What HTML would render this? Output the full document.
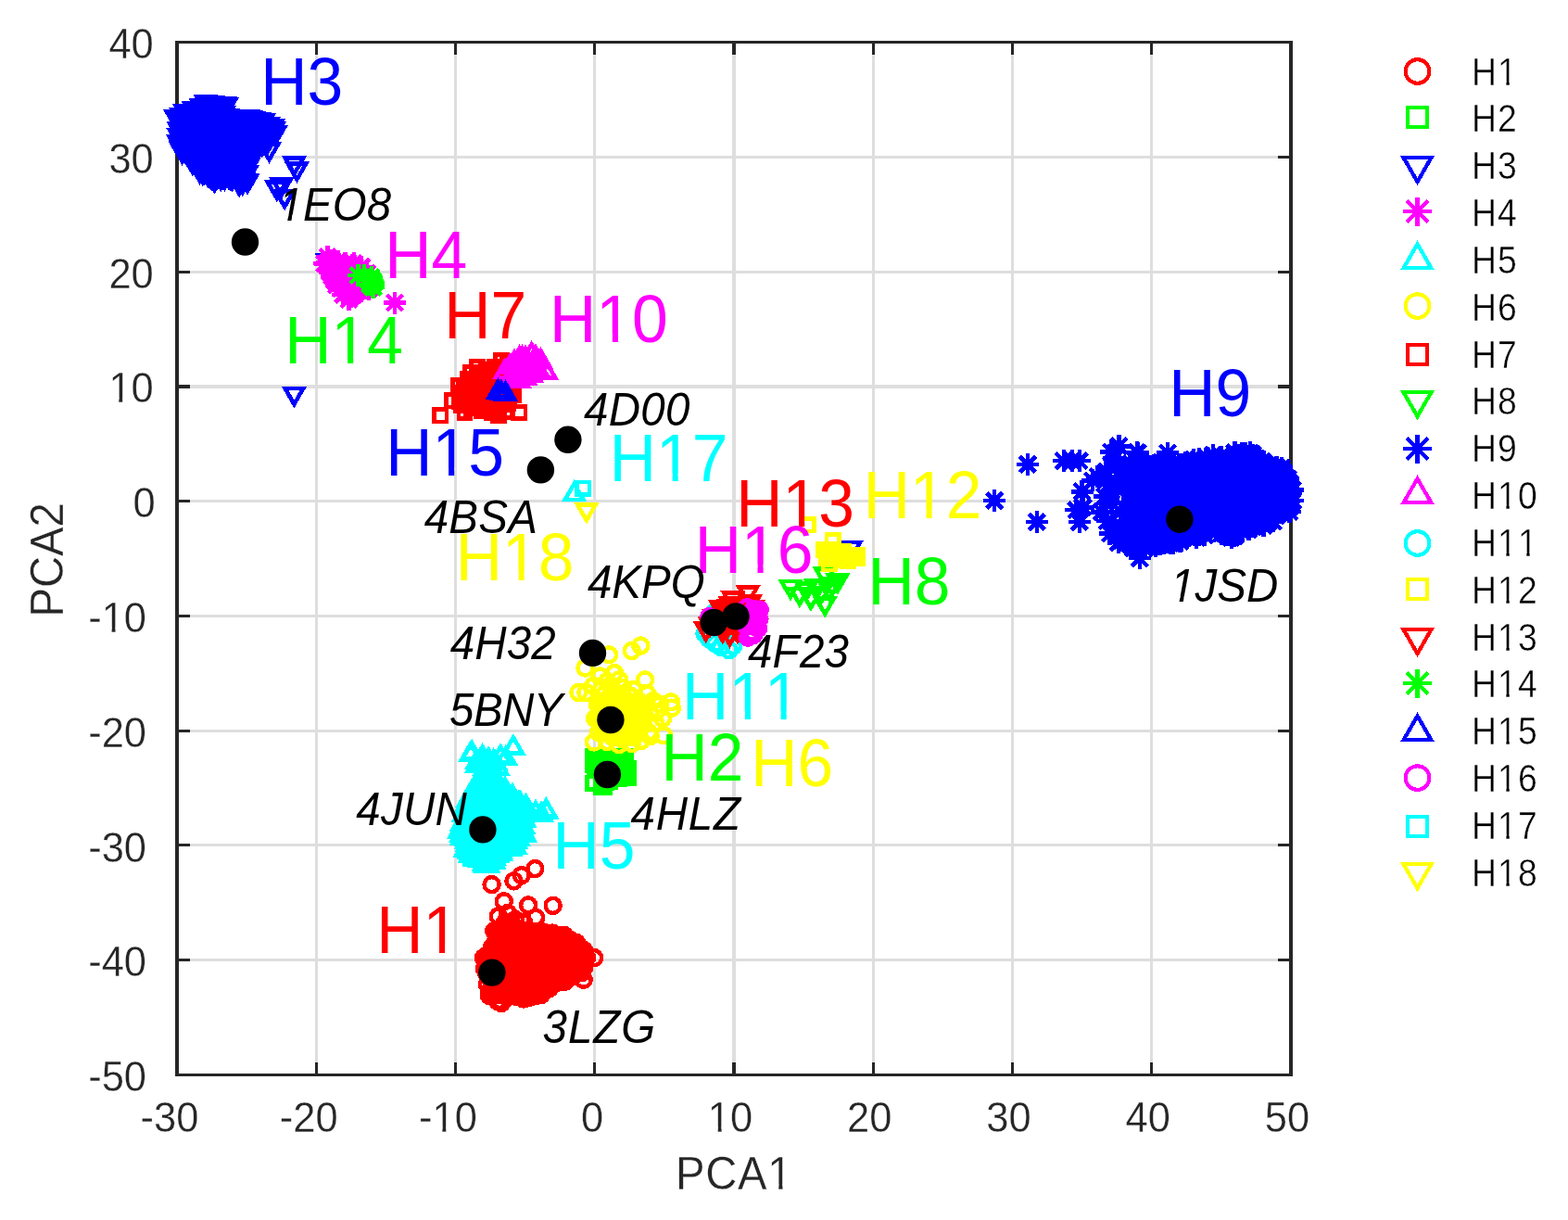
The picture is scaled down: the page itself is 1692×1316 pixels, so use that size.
<!DOCTYPE html>
<html lang="en"><head><meta charset="utf-8"><title>PCA of HA subtypes</title>
<style>
html,body{margin:0;padding:0;background:#fff;}
body{width:1692px;height:1316px;overflow:hidden;}
svg{display:block;}
text{font-family:"Liberation Sans",sans-serif;white-space:pre;font-kerning:none;font-variant-ligatures:none;}
.tk{font-size:43.5px;fill:#262626;stroke:#fff;stroke-width:0.3;}
.al{font-size:47.3px;fill:#262626;stroke:#fff;stroke-width:0.3;}
.lg{font-size:41px;fill:#000;stroke:#fff;stroke-width:0.45;}
.big{font-size:69.6px;}
.pdb{font-size:47.5px;font-style:italic;fill:#000;}
.mk{fill:none;stroke-width:4.5;stroke-linejoin:miter;stroke-linecap:butt;}
</style></head>
<body>
<svg width="1692" height="1316" viewBox="0 0 1692 1316">
<defs><clipPath id="c1"><path clip-rule="evenodd" d="M-21.75,-65.25H348V26.1H-21.75ZM15.791,1.305L25.426,1.305L25.426,-5.22L15.791,-5.22ZM29.267,1.305L37.976,1.305L37.976,-5.22L29.267,-5.22Z"/></clipPath><clipPath id="c2"><path clip-rule="evenodd" d="M-21.75,-65.25H348V26.1H-21.75ZM1.305,1.305L10.94,1.305L10.94,-5.22L1.305,-5.22ZM14.781,1.305L23.49,1.305L23.49,-5.22L14.781,-5.22Z"/></clipPath><clipPath id="c3"><path clip-rule="evenodd" d="M-23.65,-70.95H378.4V28.38H-23.65ZM100.927,1.419L111.403,1.419L111.403,-5.676L100.927,-5.676ZM115.58,1.419L125.05,1.419L125.05,-5.676L115.58,-5.676Z"/></clipPath><clipPath id="c4"><path clip-rule="evenodd" d="M-34.8,-104.4H556.8V41.76H-34.8ZM52.351,2.088L67.767,2.088L67.767,-8.352L52.351,-8.352ZM73.913,2.088L87.847,2.088L87.847,-8.352L73.913,-8.352Z"/></clipPath><clipPath id="c5"><path clip-rule="evenodd" d="M-34.8,-104.4H556.8V41.76H-34.8ZM52.351,2.088L67.767,2.088L67.767,-8.352L52.351,-8.352ZM73.913,2.088L87.847,2.088L87.847,-8.352L73.913,-8.352ZM91.059,2.088L106.475,2.088L106.475,-8.352L91.059,-8.352ZM112.621,2.088L126.555,2.088L126.555,-8.352L112.621,-8.352Z"/></clipPath><clipPath id="c6"><path clip-rule="evenodd" d="M-23.75,-71.25H380V28.5H-23.75ZM-0.95,1.425L9.286,1.425L10.668,-5.7L-0.95,-5.7ZM13.485,1.425L24.7,1.425L24.7,-5.7L14.867,-5.7Z"/></clipPath><clipPath id="c7"><path clip-rule="evenodd" d="M-20.5,-61.5H328V24.6H-20.5ZM32.139,1.23L41.22,1.23L41.22,-4.92L32.139,-4.92ZM44.841,1.23L53.049,1.23L53.049,-4.92L44.841,-4.92Z"/></clipPath><clipPath id="c8"><path clip-rule="evenodd" d="M-20.5,-61.5H328V24.6H-20.5ZM32.139,1.23L41.22,1.23L41.22,-4.92L32.139,-4.92ZM44.841,1.23L53.049,1.23L53.049,-4.92L44.841,-4.92ZM56.241,1.23L65.323,1.23L65.323,-4.92L56.241,-4.92ZM68.943,1.23L77.151,1.23L77.151,-4.92L68.943,-4.92Z"/></clipPath></defs>
<rect x="0" y="0" width="1692" height="1316" fill="#fff"/>
<g fill="#dedede" shape-rendering="crispEdges">
<rect x="340" y="59" width="3" height="1087"/>
<rect x="490" y="59" width="3" height="1087"/>
<rect x="640" y="59" width="3" height="1087"/>
<rect x="790" y="59" width="4" height="1087"/>
<rect x="941" y="59" width="3" height="1087"/>
<rect x="1091" y="59" width="3" height="1087"/>
<rect x="1241" y="59" width="3" height="1087"/>
<rect x="205" y="168" width="1174" height="3"/>
<rect x="205" y="292" width="1174" height="3"/>
<rect x="205" y="415" width="1174" height="4"/>
<rect x="205" y="539" width="1174" height="3"/>
<rect x="205" y="663" width="1174" height="3"/>
<rect x="205" y="787" width="1174" height="3"/>
<rect x="205" y="910" width="1174" height="3"/>
<rect x="205" y="1034" width="1174" height="3"/>
</g>
<g fill="#262626" shape-rendering="crispEdges">
<rect x="189" y="44" width="4" height="1117"/>
<rect x="1391" y="44" width="4" height="1117"/>
<rect x="189" y="44" width="1206" height="3"/>
<rect x="189" y="1158" width="1206" height="3"/>
<rect x="340" y="47" width="3" height="12"/>
<rect x="340" y="1146" width="3" height="12"/>
<rect x="490" y="47" width="3" height="12"/>
<rect x="490" y="1146" width="3" height="12"/>
<rect x="640" y="47" width="3" height="12"/>
<rect x="640" y="1146" width="3" height="12"/>
<rect x="790" y="47" width="4" height="12"/>
<rect x="790" y="1146" width="4" height="12"/>
<rect x="941" y="47" width="3" height="12"/>
<rect x="941" y="1146" width="3" height="12"/>
<rect x="1091" y="47" width="3" height="12"/>
<rect x="1091" y="1146" width="3" height="12"/>
<rect x="1241" y="47" width="3" height="12"/>
<rect x="1241" y="1146" width="3" height="12"/>
<rect x="193" y="168" width="12" height="3"/>
<rect x="1379" y="168" width="12" height="3"/>
<rect x="193" y="292" width="12" height="3"/>
<rect x="1379" y="292" width="12" height="3"/>
<rect x="193" y="415" width="12" height="4"/>
<rect x="1379" y="415" width="12" height="4"/>
<rect x="193" y="539" width="12" height="3"/>
<rect x="1379" y="539" width="12" height="3"/>
<rect x="193" y="663" width="12" height="3"/>
<rect x="1379" y="663" width="12" height="3"/>
<rect x="193" y="787" width="12" height="3"/>
<rect x="1379" y="787" width="12" height="3"/>
<rect x="193" y="910" width="12" height="3"/>
<rect x="1379" y="910" width="12" height="3"/>
<rect x="193" y="1034" width="12" height="3"/>
<rect x="1379" y="1034" width="12" height="3"/>
</g>
<g>
<text class="tk" transform="matrix(1 0 0 1.065 151.5 1220.5)">-30</text>
<text class="tk" transform="matrix(1 0 0 1.065 301.8 1220.5)">-20</text>
<text class="tk" clip-path="url(#c1)" transform="matrix(1 0 0 1.065 452 1220.5)">-10</text>
<text class="tk" transform="matrix(1 0 0 1.065 627 1220.5)">0</text>
<text class="tk" clip-path="url(#c2)" transform="matrix(1 0 0 1.065 763.8 1220.5)">10</text>
<text class="tk" transform="matrix(1 0 0 1.065 914.1 1220.5)">20</text>
<text class="tk" transform="matrix(1 0 0 1.065 1064.3 1220.5)">30</text>
<text class="tk" transform="matrix(1 0 0 1.065 1214.6 1220.5)">40</text>
<text class="tk" transform="matrix(1 0 0 1.065 1364.8 1220.5)">50</text>
<text class="tk" transform="matrix(1 0 0 1.065 95.2 1177.1)">-50</text>
<text class="tk" transform="matrix(1 0 0 1.065 95.2 1053.3)">-40</text>
<text class="tk" transform="matrix(1 0 0 1.065 95.2 929.5)">-30</text>
<text class="tk" transform="matrix(1 0 0 1.065 95.2 805.8)">-20</text>
<text class="tk" clip-path="url(#c1)" transform="matrix(1 0 0 1.065 95.2 682)">-10</text>
<text class="tk" transform="matrix(1 0 0 1.065 143.6 558.2)">0</text>
<text class="tk" clip-path="url(#c2)" transform="matrix(1 0 0 1.065 117.4 434.4)">10</text>
<text class="tk" transform="matrix(1 0 0 1.065 117.4 310.7)">20</text>
<text class="tk" transform="matrix(1 0 0 1.065 117.4 186.9)">30</text>
<text class="tk" transform="matrix(1 0 0 1.065 117.4 63.1)">40</text>
<text class="al" clip-path="url(#c3)" letter-spacing="0.751" transform="matrix(1 0 0 1.053 728.9 1283.1)">PCA1</text>
<text class="al" transform="matrix(0 -1 1.053 0 68.4 665.6)">PCA2</text>
</g>
<path class="mk" stroke="#f00" shape-rendering="crispEdges" d="M532.983,1006.5a8,8 0 1 0 16,0a8,8 0 1 0 -16,0zM517.851,1051.1a8,8 0 1 0 16,0a8,8 0 1 0 -16,0zM582.268,1058.7a8,8 0 1 0 16,0a8,8 0 1 0 -16,0zM521.618,1052.9a8,8 0 1 0 16,0a8,8 0 1 0 -16,0zM547.885,1016.7a8,8 0 1 0 16,0a8,8 0 1 0 -16,0zM528.742,1042.5a8,8 0 1 0 16,0a8,8 0 1 0 -16,0zM574.072,1067.4a8,8 0 1 0 16,0a8,8 0 1 0 -16,0zM525.374,1036.4a8,8 0 1 0 16,0a8,8 0 1 0 -16,0zM572.094,1063.7a8,8 0 1 0 16,0a8,8 0 1 0 -16,0zM599.844,1059.2a8,8 0 1 0 16,0a8,8 0 1 0 -16,0zM538.167,1002.6a8,8 0 1 0 16,0a8,8 0 1 0 -16,0zM581.521,1026.5a8,8 0 1 0 16,0a8,8 0 1 0 -16,0zM526.926,1072.3a8,8 0 1 0 16,0a8,8 0 1 0 -16,0zM541.459,1034.9a8,8 0 1 0 16,0a8,8 0 1 0 -16,0zM575.636,1072.2a8,8 0 1 0 16,0a8,8 0 1 0 -16,0zM567.215,1038.2a8,8 0 1 0 16,0a8,8 0 1 0 -16,0zM558.993,1036.9a8,8 0 1 0 16,0a8,8 0 1 0 -16,0zM616.144,1037.3a8,8 0 1 0 16,0a8,8 0 1 0 -16,0zM577.655,1064.5a8,8 0 1 0 16,0a8,8 0 1 0 -16,0zM567.176,1055.6a8,8 0 1 0 16,0a8,8 0 1 0 -16,0zM556.518,1059.3a8,8 0 1 0 16,0a8,8 0 1 0 -16,0zM520.136,1070.6a8,8 0 1 0 16,0a8,8 0 1 0 -16,0zM544.44,1016.8a8,8 0 1 0 16,0a8,8 0 1 0 -16,0zM577.74,1036.8a8,8 0 1 0 16,0a8,8 0 1 0 -16,0zM556.412,1025.4a8,8 0 1 0 16,0a8,8 0 1 0 -16,0zM597.049,1058a8,8 0 1 0 16,0a8,8 0 1 0 -16,0zM558.756,1051.1a8,8 0 1 0 16,0a8,8 0 1 0 -16,0zM566.898,1005.6a8,8 0 1 0 16,0a8,8 0 1 0 -16,0zM609.3,1033a8,8 0 1 0 16,0a8,8 0 1 0 -16,0zM575.74,1053.8a8,8 0 1 0 16,0a8,8 0 1 0 -16,0zM570.78,1073.9a8,8 0 1 0 16,0a8,8 0 1 0 -16,0zM554.863,1075a8,8 0 1 0 16,0a8,8 0 1 0 -16,0zM551.333,1048.3a8,8 0 1 0 16,0a8,8 0 1 0 -16,0zM559.845,1072.3a8,8 0 1 0 16,0a8,8 0 1 0 -16,0zM559.193,1020.7a8,8 0 1 0 16,0a8,8 0 1 0 -16,0zM555.772,1040.2a8,8 0 1 0 16,0a8,8 0 1 0 -16,0zM590.734,1060.6a8,8 0 1 0 16,0a8,8 0 1 0 -16,0zM520.648,1049.5a8,8 0 1 0 16,0a8,8 0 1 0 -16,0zM553.79,1032.8a8,8 0 1 0 16,0a8,8 0 1 0 -16,0zM565.99,1019.2a8,8 0 1 0 16,0a8,8 0 1 0 -16,0zM535.57,1005.7a8,8 0 1 0 16,0a8,8 0 1 0 -16,0zM592.49,1036.3a8,8 0 1 0 16,0a8,8 0 1 0 -16,0zM600.532,1035.1a8,8 0 1 0 16,0a8,8 0 1 0 -16,0zM595.135,1053.1a8,8 0 1 0 16,0a8,8 0 1 0 -16,0zM548.031,1074.7a8,8 0 1 0 16,0a8,8 0 1 0 -16,0zM563.399,1058.8a8,8 0 1 0 16,0a8,8 0 1 0 -16,0zM528.321,1030.3a8,8 0 1 0 16,0a8,8 0 1 0 -16,0zM594.268,1022a8,8 0 1 0 16,0a8,8 0 1 0 -16,0zM536.801,1051.5a8,8 0 1 0 16,0a8,8 0 1 0 -16,0zM553.951,1064.8a8,8 0 1 0 16,0a8,8 0 1 0 -16,0zM521.339,1031.2a8,8 0 1 0 16,0a8,8 0 1 0 -16,0zM606.415,1044.7a8,8 0 1 0 16,0a8,8 0 1 0 -16,0zM598.214,1009.2a8,8 0 1 0 16,0a8,8 0 1 0 -16,0zM608.46,1017.6a8,8 0 1 0 16,0a8,8 0 1 0 -16,0zM530.294,1069.1a8,8 0 1 0 16,0a8,8 0 1 0 -16,0zM538.934,1044a8,8 0 1 0 16,0a8,8 0 1 0 -16,0zM559.566,1040.5a8,8 0 1 0 16,0a8,8 0 1 0 -16,0zM541.59,1020.5a8,8 0 1 0 16,0a8,8 0 1 0 -16,0zM562.329,1040.8a8,8 0 1 0 16,0a8,8 0 1 0 -16,0zM562.457,1048.8a8,8 0 1 0 16,0a8,8 0 1 0 -16,0zM575.819,1013.1a8,8 0 1 0 16,0a8,8 0 1 0 -16,0zM567.14,1021.9a8,8 0 1 0 16,0a8,8 0 1 0 -16,0zM523.713,1058.6a8,8 0 1 0 16,0a8,8 0 1 0 -16,0zM544.73,1038a8,8 0 1 0 16,0a8,8 0 1 0 -16,0zM577.184,1027.1a8,8 0 1 0 16,0a8,8 0 1 0 -16,0zM542.031,1071.7a8,8 0 1 0 16,0a8,8 0 1 0 -16,0zM614.894,1025.9a8,8 0 1 0 16,0a8,8 0 1 0 -16,0zM609.257,1028.2a8,8 0 1 0 16,0a8,8 0 1 0 -16,0zM546.801,1022.8a8,8 0 1 0 16,0a8,8 0 1 0 -16,0zM548.232,1050.3a8,8 0 1 0 16,0a8,8 0 1 0 -16,0zM546.806,1012.3a8,8 0 1 0 16,0a8,8 0 1 0 -16,0zM620.301,1041.1a8,8 0 1 0 16,0a8,8 0 1 0 -16,0zM623.138,1029.1a8,8 0 1 0 16,0a8,8 0 1 0 -16,0zM607.985,1037.3a8,8 0 1 0 16,0a8,8 0 1 0 -16,0zM545.917,1064.4a8,8 0 1 0 16,0a8,8 0 1 0 -16,0zM586.193,1058.3a8,8 0 1 0 16,0a8,8 0 1 0 -16,0zM598.176,1013.7a8,8 0 1 0 16,0a8,8 0 1 0 -16,0zM612.138,1048.5a8,8 0 1 0 16,0a8,8 0 1 0 -16,0zM585.663,1015.2a8,8 0 1 0 16,0a8,8 0 1 0 -16,0zM588.378,1041.6a8,8 0 1 0 16,0a8,8 0 1 0 -16,0zM580.057,1064.4a8,8 0 1 0 16,0a8,8 0 1 0 -16,0zM601.817,1044.6a8,8 0 1 0 16,0a8,8 0 1 0 -16,0zM544.96,1004.5a8,8 0 1 0 16,0a8,8 0 1 0 -16,0zM551.069,1023.7a8,8 0 1 0 16,0a8,8 0 1 0 -16,0zM555.412,1056.4a8,8 0 1 0 16,0a8,8 0 1 0 -16,0zM556.448,1062.7a8,8 0 1 0 16,0a8,8 0 1 0 -16,0zM581.308,1043a8,8 0 1 0 16,0a8,8 0 1 0 -16,0zM537.313,1052.6a8,8 0 1 0 16,0a8,8 0 1 0 -16,0zM603.117,1012.9a8,8 0 1 0 16,0a8,8 0 1 0 -16,0zM556.964,1042.8a8,8 0 1 0 16,0a8,8 0 1 0 -16,0zM576.421,1048.5a8,8 0 1 0 16,0a8,8 0 1 0 -16,0zM544.426,1056.2a8,8 0 1 0 16,0a8,8 0 1 0 -16,0zM582.153,1011.6a8,8 0 1 0 16,0a8,8 0 1 0 -16,0zM612.384,1039a8,8 0 1 0 16,0a8,8 0 1 0 -16,0zM572.029,1071a8,8 0 1 0 16,0a8,8 0 1 0 -16,0zM561.227,1045.8a8,8 0 1 0 16,0a8,8 0 1 0 -16,0zM521.909,1045.1a8,8 0 1 0 16,0a8,8 0 1 0 -16,0zM602.114,1029a8,8 0 1 0 16,0a8,8 0 1 0 -16,0zM585.871,1038.6a8,8 0 1 0 16,0a8,8 0 1 0 -16,0zM530.956,1023.8a8,8 0 1 0 16,0a8,8 0 1 0 -16,0zM557.944,1003.8a8,8 0 1 0 16,0a8,8 0 1 0 -16,0zM561.136,1070.6a8,8 0 1 0 16,0a8,8 0 1 0 -16,0zM554.262,1044.8a8,8 0 1 0 16,0a8,8 0 1 0 -16,0zM554.331,1032.3a8,8 0 1 0 16,0a8,8 0 1 0 -16,0zM537.848,1029.4a8,8 0 1 0 16,0a8,8 0 1 0 -16,0zM548.474,1030.2a8,8 0 1 0 16,0a8,8 0 1 0 -16,0zM585.217,1056.2a8,8 0 1 0 16,0a8,8 0 1 0 -16,0zM549.171,1068.8a8,8 0 1 0 16,0a8,8 0 1 0 -16,0zM582.3,1038.7a8,8 0 1 0 16,0a8,8 0 1 0 -16,0zM608.846,1022a8,8 0 1 0 16,0a8,8 0 1 0 -16,0zM542.424,1013.6a8,8 0 1 0 16,0a8,8 0 1 0 -16,0zM545.616,1071.4a8,8 0 1 0 16,0a8,8 0 1 0 -16,0zM583.032,1023.4a8,8 0 1 0 16,0a8,8 0 1 0 -16,0zM599.558,1048.7a8,8 0 1 0 16,0a8,8 0 1 0 -16,0zM522.639,1067.4a8,8 0 1 0 16,0a8,8 0 1 0 -16,0zM540.748,1036.7a8,8 0 1 0 16,0a8,8 0 1 0 -16,0zM514.658,1034.1a8,8 0 1 0 16,0a8,8 0 1 0 -16,0zM591.82,1055.1a8,8 0 1 0 16,0a8,8 0 1 0 -16,0zM574.638,1048a8,8 0 1 0 16,0a8,8 0 1 0 -16,0zM570.915,1057.3a8,8 0 1 0 16,0a8,8 0 1 0 -16,0zM604.187,1051.8a8,8 0 1 0 16,0a8,8 0 1 0 -16,0zM563.073,1069a8,8 0 1 0 16,0a8,8 0 1 0 -16,0zM565.124,1040a8,8 0 1 0 16,0a8,8 0 1 0 -16,0zM545.86,1060.4a8,8 0 1 0 16,0a8,8 0 1 0 -16,0zM565.163,1053.2a8,8 0 1 0 16,0a8,8 0 1 0 -16,0zM614.638,1046.1a8,8 0 1 0 16,0a8,8 0 1 0 -16,0zM547.298,1036.8a8,8 0 1 0 16,0a8,8 0 1 0 -16,0zM527.374,1040.4a8,8 0 1 0 16,0a8,8 0 1 0 -16,0zM562.576,1017.7a8,8 0 1 0 16,0a8,8 0 1 0 -16,0zM538.222,1037.5a8,8 0 1 0 16,0a8,8 0 1 0 -16,0zM516.334,1048.2a8,8 0 1 0 16,0a8,8 0 1 0 -16,0zM537.034,1025.6a8,8 0 1 0 16,0a8,8 0 1 0 -16,0zM607.51,1039.1a8,8 0 1 0 16,0a8,8 0 1 0 -16,0zM594.668,1032.3a8,8 0 1 0 16,0a8,8 0 1 0 -16,0zM567.155,1013.7a8,8 0 1 0 16,0a8,8 0 1 0 -16,0zM522.697,1023.7a8,8 0 1 0 16,0a8,8 0 1 0 -16,0zM582.912,1065.8a8,8 0 1 0 16,0a8,8 0 1 0 -16,0zM561.085,1024.6a8,8 0 1 0 16,0a8,8 0 1 0 -16,0zM583.537,1035.1a8,8 0 1 0 16,0a8,8 0 1 0 -16,0zM576.738,1057.2a8,8 0 1 0 16,0a8,8 0 1 0 -16,0zM541.724,1062a8,8 0 1 0 16,0a8,8 0 1 0 -16,0zM528.218,1019a8,8 0 1 0 16,0a8,8 0 1 0 -16,0zM526.561,1028.7a8,8 0 1 0 16,0a8,8 0 1 0 -16,0zM576.147,1029.9a8,8 0 1 0 16,0a8,8 0 1 0 -16,0zM553.906,1023.5a8,8 0 1 0 16,0a8,8 0 1 0 -16,0zM515.946,1031.5a8,8 0 1 0 16,0a8,8 0 1 0 -16,0zM530.905,1072.5a8,8 0 1 0 16,0a8,8 0 1 0 -16,0zM559.446,1053.7a8,8 0 1 0 16,0a8,8 0 1 0 -16,0zM522.225,1071.7a8,8 0 1 0 16,0a8,8 0 1 0 -16,0zM552.876,1017.7a8,8 0 1 0 16,0a8,8 0 1 0 -16,0zM536.166,1052.4a8,8 0 1 0 16,0a8,8 0 1 0 -16,0zM575.256,1048.2a8,8 0 1 0 16,0a8,8 0 1 0 -16,0zM539.819,1006.2a8,8 0 1 0 16,0a8,8 0 1 0 -16,0zM534.515,1040.7a8,8 0 1 0 16,0a8,8 0 1 0 -16,0zM552.869,1073.5a8,8 0 1 0 16,0a8,8 0 1 0 -16,0zM604.035,1017.8a8,8 0 1 0 16,0a8,8 0 1 0 -16,0zM610.352,1044.2a8,8 0 1 0 16,0a8,8 0 1 0 -16,0zM533.644,1016.7a8,8 0 1 0 16,0a8,8 0 1 0 -16,0zM527.722,1062.9a8,8 0 1 0 16,0a8,8 0 1 0 -16,0zM536.069,1057.6a8,8 0 1 0 16,0a8,8 0 1 0 -16,0zM542.84,1055.4a8,8 0 1 0 16,0a8,8 0 1 0 -16,0zM558.211,1011.5a8,8 0 1 0 16,0a8,8 0 1 0 -16,0zM543.774,1010.3a8,8 0 1 0 16,0a8,8 0 1 0 -16,0zM593.578,1038.1a8,8 0 1 0 16,0a8,8 0 1 0 -16,0zM541.94,1024.8a8,8 0 1 0 16,0a8,8 0 1 0 -16,0zM547.909,1025.4a8,8 0 1 0 16,0a8,8 0 1 0 -16,0zM533.408,1013.5a8,8 0 1 0 16,0a8,8 0 1 0 -16,0zM519.483,1029.2a8,8 0 1 0 16,0a8,8 0 1 0 -16,0zM598.438,1055.7a8,8 0 1 0 16,0a8,8 0 1 0 -16,0zM524.395,1074a8,8 0 1 0 16,0a8,8 0 1 0 -16,0zM537.005,1008.3a8,8 0 1 0 16,0a8,8 0 1 0 -16,0zM563.099,1066a8,8 0 1 0 16,0a8,8 0 1 0 -16,0zM535.987,1034.2a8,8 0 1 0 16,0a8,8 0 1 0 -16,0zM546.725,1007.9a8,8 0 1 0 16,0a8,8 0 1 0 -16,0zM559.98,1033.1a8,8 0 1 0 16,0a8,8 0 1 0 -16,0zM561.264,1009.5a8,8 0 1 0 16,0a8,8 0 1 0 -16,0zM536.232,1046.6a8,8 0 1 0 16,0a8,8 0 1 0 -16,0zM542.67,1041.9a8,8 0 1 0 16,0a8,8 0 1 0 -16,0zM530.24,1039.6a8,8 0 1 0 16,0a8,8 0 1 0 -16,0zM563.616,1024.9a8,8 0 1 0 16,0a8,8 0 1 0 -16,0zM583.769,1030.5a8,8 0 1 0 16,0a8,8 0 1 0 -16,0zM550.344,1040.5a8,8 0 1 0 16,0a8,8 0 1 0 -16,0zM595.228,1027.4a8,8 0 1 0 16,0a8,8 0 1 0 -16,0zM615.146,1023.6a8,8 0 1 0 16,0a8,8 0 1 0 -16,0zM555.778,1009.3a8,8 0 1 0 16,0a8,8 0 1 0 -16,0zM543.583,1052.3a8,8 0 1 0 16,0a8,8 0 1 0 -16,0zM532.282,1079.5a8,8 0 1 0 16,0a8,8 0 1 0 -16,0zM533.975,1046.3a8,8 0 1 0 16,0a8,8 0 1 0 -16,0zM541.175,1029.1a8,8 0 1 0 16,0a8,8 0 1 0 -16,0zM595.151,1018.8a8,8 0 1 0 16,0a8,8 0 1 0 -16,0zM569.428,1036.3a8,8 0 1 0 16,0a8,8 0 1 0 -16,0zM603.211,1050.2a8,8 0 1 0 16,0a8,8 0 1 0 -16,0zM611.347,1020.1a8,8 0 1 0 16,0a8,8 0 1 0 -16,0zM588.447,1016.3a8,8 0 1 0 16,0a8,8 0 1 0 -16,0zM564.517,1013.2a8,8 0 1 0 16,0a8,8 0 1 0 -16,0zM519.598,1034.6a8,8 0 1 0 16,0a8,8 0 1 0 -16,0zM578.752,1008.6a8,8 0 1 0 16,0a8,8 0 1 0 -16,0zM565.91,1060.4a8,8 0 1 0 16,0a8,8 0 1 0 -16,0zM599.686,1015.3a8,8 0 1 0 16,0a8,8 0 1 0 -16,0zM569.171,1009.8a8,8 0 1 0 16,0a8,8 0 1 0 -16,0zM573.031,1033a8,8 0 1 0 16,0a8,8 0 1 0 -16,0zM613.174,1035.2a8,8 0 1 0 16,0a8,8 0 1 0 -16,0zM592.532,1028.1a8,8 0 1 0 16,0a8,8 0 1 0 -16,0zM534.273,1071.7a8,8 0 1 0 16,0a8,8 0 1 0 -16,0zM605.911,1013.2a8,8 0 1 0 16,0a8,8 0 1 0 -16,0zM549.019,1060.3a8,8 0 1 0 16,0a8,8 0 1 0 -16,0zM541.989,1060.4a8,8 0 1 0 16,0a8,8 0 1 0 -16,0zM593.745,1014.9a8,8 0 1 0 16,0a8,8 0 1 0 -16,0zM537.902,1056.5a8,8 0 1 0 16,0a8,8 0 1 0 -16,0zM525.195,1021.3a8,8 0 1 0 16,0a8,8 0 1 0 -16,0zM620.732,1035.2a8,8 0 1 0 16,0a8,8 0 1 0 -16,0zM583.223,1053.2a8,8 0 1 0 16,0a8,8 0 1 0 -16,0zM527.99,1025a8,8 0 1 0 16,0a8,8 0 1 0 -16,0zM565.893,1010a8,8 0 1 0 16,0a8,8 0 1 0 -16,0zM546.012,1065a8,8 0 1 0 16,0a8,8 0 1 0 -16,0zM617.569,1022a8,8 0 1 0 16,0a8,8 0 1 0 -16,0zM605.316,1040.8a8,8 0 1 0 16,0a8,8 0 1 0 -16,0zM584.315,1063.1a8,8 0 1 0 16,0a8,8 0 1 0 -16,0zM562.533,1035.9a8,8 0 1 0 16,0a8,8 0 1 0 -16,0zM520.893,1039a8,8 0 1 0 16,0a8,8 0 1 0 -16,0zM557.597,1018.7a8,8 0 1 0 16,0a8,8 0 1 0 -16,0zM578.551,1020.5a8,8 0 1 0 16,0a8,8 0 1 0 -16,0zM579.559,1008.7a8,8 0 1 0 16,0a8,8 0 1 0 -16,0zM553.303,1017.7a8,8 0 1 0 16,0a8,8 0 1 0 -16,0zM550.773,1054.9a8,8 0 1 0 16,0a8,8 0 1 0 -16,0zM523.989,1049.1a8,8 0 1 0 16,0a8,8 0 1 0 -16,0zM537.456,1016.9a8,8 0 1 0 16,0a8,8 0 1 0 -16,0zM554.785,1071.2a8,8 0 1 0 16,0a8,8 0 1 0 -16,0zM561.647,1061a8,8 0 1 0 16,0a8,8 0 1 0 -16,0zM554.432,1025.2a8,8 0 1 0 16,0a8,8 0 1 0 -16,0zM540.733,1011.6a8,8 0 1 0 16,0a8,8 0 1 0 -16,0zM541.982,1072.1a8,8 0 1 0 16,0a8,8 0 1 0 -16,0zM598.792,1022.2a8,8 0 1 0 16,0a8,8 0 1 0 -16,0zM541.699,1031.8a8,8 0 1 0 16,0a8,8 0 1 0 -16,0zM549.724,1007.7a8,8 0 1 0 16,0a8,8 0 1 0 -16,0zM572.177,1050.8a8,8 0 1 0 16,0a8,8 0 1 0 -16,0zM533.906,1055.3a8,8 0 1 0 16,0a8,8 0 1 0 -16,0zM571.049,1038.9a8,8 0 1 0 16,0a8,8 0 1 0 -16,0zM579.838,1063.4a8,8 0 1 0 16,0a8,8 0 1 0 -16,0zM591.637,1040.8a8,8 0 1 0 16,0a8,8 0 1 0 -16,0zM528.543,1037.1a8,8 0 1 0 16,0a8,8 0 1 0 -16,0zM565.659,1034.5a8,8 0 1 0 16,0a8,8 0 1 0 -16,0zM564.506,1028.3a8,8 0 1 0 16,0a8,8 0 1 0 -16,0zM531.571,1052.5a8,8 0 1 0 16,0a8,8 0 1 0 -16,0zM579.282,1033.4a8,8 0 1 0 16,0a8,8 0 1 0 -16,0zM599.736,1032.8a8,8 0 1 0 16,0a8,8 0 1 0 -16,0zM528.562,1009.9a8,8 0 1 0 16,0a8,8 0 1 0 -16,0zM557.436,1066.5a8,8 0 1 0 16,0a8,8 0 1 0 -16,0zM595.1,1034.3a8,8 0 1 0 16,0a8,8 0 1 0 -16,0zM620.625,1025a8,8 0 1 0 16,0a8,8 0 1 0 -16,0zM606.561,1020.1a8,8 0 1 0 16,0a8,8 0 1 0 -16,0zM569.19,1029.1a8,8 0 1 0 16,0a8,8 0 1 0 -16,0zM561.449,1029.1a8,8 0 1 0 16,0a8,8 0 1 0 -16,0zM588.197,1025.2a8,8 0 1 0 16,0a8,8 0 1 0 -16,0zM601.112,1020.2a8,8 0 1 0 16,0a8,8 0 1 0 -16,0zM587.327,1028.3a8,8 0 1 0 16,0a8,8 0 1 0 -16,0zM576.368,1013.9a8,8 0 1 0 16,0a8,8 0 1 0 -16,0zM535.915,1067.8a8,8 0 1 0 16,0a8,8 0 1 0 -16,0zM620.712,1045.1a8,8 0 1 0 16,0a8,8 0 1 0 -16,0zM607.252,1027.2a8,8 0 1 0 16,0a8,8 0 1 0 -16,0zM526.267,1044.4a8,8 0 1 0 16,0a8,8 0 1 0 -16,0zM591.789,1021.6a8,8 0 1 0 16,0a8,8 0 1 0 -16,0zM543.026,1064.6a8,8 0 1 0 16,0a8,8 0 1 0 -16,0zM531.916,1068.2a8,8 0 1 0 16,0a8,8 0 1 0 -16,0zM600.517,1039.8a8,8 0 1 0 16,0a8,8 0 1 0 -16,0zM559.003,1017.7a8,8 0 1 0 16,0a8,8 0 1 0 -16,0zM591.91,1017.9a8,8 0 1 0 16,0a8,8 0 1 0 -16,0zM527.266,1014.2a8,8 0 1 0 16,0a8,8 0 1 0 -16,0zM544.716,1030.9a8,8 0 1 0 16,0a8,8 0 1 0 -16,0zM524.25,1061.7a8,8 0 1 0 16,0a8,8 0 1 0 -16,0zM574.646,1029.4a8,8 0 1 0 16,0a8,8 0 1 0 -16,0zM593.669,1012.5a8,8 0 1 0 16,0a8,8 0 1 0 -16,0zM545.052,1049a8,8 0 1 0 16,0a8,8 0 1 0 -16,0zM589.944,1036.7a8,8 0 1 0 16,0a8,8 0 1 0 -16,0zM527.299,1066.8a8,8 0 1 0 16,0a8,8 0 1 0 -16,0zM596.648,1009.1a8,8 0 1 0 16,0a8,8 0 1 0 -16,0zM584.274,1047.8a8,8 0 1 0 16,0a8,8 0 1 0 -16,0zM532.458,1026.8a8,8 0 1 0 16,0a8,8 0 1 0 -16,0zM539.719,1020.2a8,8 0 1 0 16,0a8,8 0 1 0 -16,0zM588.941,1051.9a8,8 0 1 0 16,0a8,8 0 1 0 -16,0zM592.226,1047.2a8,8 0 1 0 16,0a8,8 0 1 0 -16,0zM595.166,1050.7a8,8 0 1 0 16,0a8,8 0 1 0 -16,0zM530.853,1030.1a8,8 0 1 0 16,0a8,8 0 1 0 -16,0zM588.247,1008.8a8,8 0 1 0 16,0a8,8 0 1 0 -16,0zM560.824,1010.2a8,8 0 1 0 16,0a8,8 0 1 0 -16,0zM567.93,1042.5a8,8 0 1 0 16,0a8,8 0 1 0 -16,0zM568.195,1071.7a8,8 0 1 0 16,0a8,8 0 1 0 -16,0zM589.216,1032.8a8,8 0 1 0 16,0a8,8 0 1 0 -16,0zM574.272,1025.2a8,8 0 1 0 16,0a8,8 0 1 0 -16,0zM518.268,1038.9a8,8 0 1 0 16,0a8,8 0 1 0 -16,0zM573.995,1028.2a8,8 0 1 0 16,0a8,8 0 1 0 -16,0zM570.524,1019.3a8,8 0 1 0 16,0a8,8 0 1 0 -16,0zM590.397,1060.7a8,8 0 1 0 16,0a8,8 0 1 0 -16,0zM531.358,1063.3a8,8 0 1 0 16,0a8,8 0 1 0 -16,0zM547.766,1003.1a8,8 0 1 0 16,0a8,8 0 1 0 -16,0zM571.899,1041.4a8,8 0 1 0 16,0a8,8 0 1 0 -16,0zM536.77,1060.2a8,8 0 1 0 16,0a8,8 0 1 0 -16,0zM585.573,1018.9a8,8 0 1 0 16,0a8,8 0 1 0 -16,0zM551.274,1060.6a8,8 0 1 0 16,0a8,8 0 1 0 -16,0zM592.629,1049a8,8 0 1 0 16,0a8,8 0 1 0 -16,0zM579.159,1056.6a8,8 0 1 0 16,0a8,8 0 1 0 -16,0zM551.194,1049.6a8,8 0 1 0 16,0a8,8 0 1 0 -16,0zM590.077,1020a8,8 0 1 0 16,0a8,8 0 1 0 -16,0zM593.471,1047.2a8,8 0 1 0 16,0a8,8 0 1 0 -16,0zM523.05,1048.5a8,8 0 1 0 16,0a8,8 0 1 0 -16,0zM575.993,1021.7a8,8 0 1 0 16,0a8,8 0 1 0 -16,0zM551.563,1003a8,8 0 1 0 16,0a8,8 0 1 0 -16,0zM572.473,1015.3a8,8 0 1 0 16,0a8,8 0 1 0 -16,0zM573.924,1044.4a8,8 0 1 0 16,0a8,8 0 1 0 -16,0zM578.587,1023a8,8 0 1 0 16,0a8,8 0 1 0 -16,0zM562.294,1025.5a8,8 0 1 0 16,0a8,8 0 1 0 -16,0zM591.091,1039.3a8,8 0 1 0 16,0a8,8 0 1 0 -16,0zM600.454,1025.5a8,8 0 1 0 16,0a8,8 0 1 0 -16,0zM617.842,1031.2a8,8 0 1 0 16,0a8,8 0 1 0 -16,0zM581.619,1051.9a8,8 0 1 0 16,0a8,8 0 1 0 -16,0zM581.324,1029.5a8,8 0 1 0 16,0a8,8 0 1 0 -16,0zM612.229,1035.4a8,8 0 1 0 16,0a8,8 0 1 0 -16,0zM558.578,1009a8,8 0 1 0 16,0a8,8 0 1 0 -16,0zM559.907,1005.6a8,8 0 1 0 16,0a8,8 0 1 0 -16,0zM538.37,1065.4a8,8 0 1 0 16,0a8,8 0 1 0 -16,0zM539.096,1038.8a8,8 0 1 0 16,0a8,8 0 1 0 -16,0zM574.728,1008.3a8,8 0 1 0 16,0a8,8 0 1 0 -16,0zM582.238,1044.2a8,8 0 1 0 16,0a8,8 0 1 0 -16,0zM621.433,1026.8a8,8 0 1 0 16,0a8,8 0 1 0 -16,0zM582.507,1047.8a8,8 0 1 0 16,0a8,8 0 1 0 -16,0zM534.566,1031a8,8 0 1 0 16,0a8,8 0 1 0 -16,0zM558.447,1063.5a8,8 0 1 0 16,0a8,8 0 1 0 -16,0zM565.025,1066.5a8,8 0 1 0 16,0a8,8 0 1 0 -16,0zM566.153,1057.6a8,8 0 1 0 16,0a8,8 0 1 0 -16,0zM551.283,1012.9a8,8 0 1 0 16,0a8,8 0 1 0 -16,0zM542.232,1045.1a8,8 0 1 0 16,0a8,8 0 1 0 -16,0zM595.791,1042.3a8,8 0 1 0 16,0a8,8 0 1 0 -16,0zM554.459,1041.6a8,8 0 1 0 16,0a8,8 0 1 0 -16,0zM589.234,1007.4a8,8 0 1 0 16,0a8,8 0 1 0 -16,0zM564.604,1046.7a8,8 0 1 0 16,0a8,8 0 1 0 -16,0zM522.224,1057.8a8,8 0 1 0 16,0a8,8 0 1 0 -16,0zM571.926,1055a8,8 0 1 0 16,0a8,8 0 1 0 -16,0zM566.056,1050.6a8,8 0 1 0 16,0a8,8 0 1 0 -16,0zM587.975,1011.7a8,8 0 1 0 16,0a8,8 0 1 0 -16,0zM610.372,1048a8,8 0 1 0 16,0a8,8 0 1 0 -16,0zM546.803,1041.7a8,8 0 1 0 16,0a8,8 0 1 0 -16,0zM564.546,1075.6a8,8 0 1 0 16,0a8,8 0 1 0 -16,0zM603.98,1023.3a8,8 0 1 0 16,0a8,8 0 1 0 -16,0zM616.583,1044.5a8,8 0 1 0 16,0a8,8 0 1 0 -16,0zM569.562,1029.1a8,8 0 1 0 16,0a8,8 0 1 0 -16,0zM580.854,1012.8a8,8 0 1 0 16,0a8,8 0 1 0 -16,0zM534.314,1072.9a8,8 0 1 0 16,0a8,8 0 1 0 -16,0zM528.989,1059.5a8,8 0 1 0 16,0a8,8 0 1 0 -16,0zM571.856,1064.9a8,8 0 1 0 16,0a8,8 0 1 0 -16,0zM612.276,1030.5a8,8 0 1 0 16,0a8,8 0 1 0 -16,0zM532.993,1019.6a8,8 0 1 0 16,0a8,8 0 1 0 -16,0zM583.198,1014.3a8,8 0 1 0 16,0a8,8 0 1 0 -16,0zM602.626,1042.9a8,8 0 1 0 16,0a8,8 0 1 0 -16,0zM548.392,1021.5a8,8 0 1 0 16,0a8,8 0 1 0 -16,0zM568.487,1045.4a8,8 0 1 0 16,0a8,8 0 1 0 -16,0zM527.079,1054.1a8,8 0 1 0 16,0a8,8 0 1 0 -16,0zM528.356,1028.1a8,8 0 1 0 16,0a8,8 0 1 0 -16,0zM579.2,1051.9a8,8 0 1 0 16,0a8,8 0 1 0 -16,0zM526.067,1047.4a8,8 0 1 0 16,0a8,8 0 1 0 -16,0zM614.749,1045a8,8 0 1 0 16,0a8,8 0 1 0 -16,0zM528,1006a8,8 0 1 0 16,0a8,8 0 1 0 -16,0zM523,1022a8,8 0 1 0 16,0a8,8 0 1 0 -16,0zM514,1033a8,8 0 1 0 16,0a8,8 0 1 0 -16,0zM515,1045a8,8 0 1 0 16,0a8,8 0 1 0 -16,0zM518,1062a8,8 0 1 0 16,0a8,8 0 1 0 -16,0zM520,1074a8,8 0 1 0 16,0a8,8 0 1 0 -16,0zM529,1080a8,8 0 1 0 16,0a8,8 0 1 0 -16,0zM533,1082a8,8 0 1 0 16,0a8,8 0 1 0 -16,0zM540,1075a8,8 0 1 0 16,0a8,8 0 1 0 -16,0zM557,1077.5a8,8 0 1 0 16,0a8,8 0 1 0 -16,0zM576,1073a8,8 0 1 0 16,0a8,8 0 1 0 -16,0zM585,1066a8,8 0 1 0 16,0a8,8 0 1 0 -16,0zM602,1058.5a8,8 0 1 0 16,0a8,8 0 1 0 -16,0zM610,1053a8,8 0 1 0 16,0a8,8 0 1 0 -16,0zM620,1049a8,8 0 1 0 16,0a8,8 0 1 0 -16,0zM622,1044a8,8 0 1 0 16,0a8,8 0 1 0 -16,0zM625,1033a8,8 0 1 0 16,0a8,8 0 1 0 -16,0zM622,1025a8,8 0 1 0 16,0a8,8 0 1 0 -16,0zM614,1017a8,8 0 1 0 16,0a8,8 0 1 0 -16,0zM601,1009a8,8 0 1 0 16,0a8,8 0 1 0 -16,0zM588,1006.6a8,8 0 1 0 16,0a8,8 0 1 0 -16,0zM578,1005.3a8,8 0 1 0 16,0a8,8 0 1 0 -16,0zM563,1005.3a8,8 0 1 0 16,0a8,8 0 1 0 -16,0zM547,1000a8,8 0 1 0 16,0a8,8 0 1 0 -16,0zM537,1000a8,8 0 1 0 16,0a8,8 0 1 0 -16,0zM522.6,954.1a8,8 0 1 0 16,0a8,8 0 1 0 -16,0zM546.5,950.3a8,8 0 1 0 16,0a8,8 0 1 0 -16,0zM554.8,944.2a8,8 0 1 0 16,0a8,8 0 1 0 -16,0zM569.3,937.1a8,8 0 1 0 16,0a8,8 0 1 0 -16,0zM535.8,972.3a8,8 0 1 0 16,0a8,8 0 1 0 -16,0zM562.1,976.4a8,8 0 1 0 16,0a8,8 0 1 0 -16,0zM588.7,976.9a8,8 0 1 0 16,0a8,8 0 1 0 -16,0zM570,989.8a8,8 0 1 0 16,0a8,8 0 1 0 -16,0zM529.8,988.3a8,8 0 1 0 16,0a8,8 0 1 0 -16,0zM525.2,1004.2a8,8 0 1 0 16,0a8,8 0 1 0 -16,0zM633.1,1033.1a8,8 0 1 0 16,0a8,8 0 1 0 -16,0zM621.7,1056.7a8,8 0 1 0 16,0a8,8 0 1 0 -16,0zM540,985a8,8 0 1 0 16,0a8,8 0 1 0 -16,0zM548,992a8,8 0 1 0 16,0a8,8 0 1 0 -16,0zM557,995a8,8 0 1 0 16,0a8,8 0 1 0 -16,0zM537,995a8,8 0 1 0 16,0a8,8 0 1 0 -16,0z"/>
<path class="mk" stroke="#0f0" shape-rendering="crispEdges" d="M668.7,830.9h13.4v13.4h-13.4zM651.5,813.2h13.4v13.4h-13.4zM666,820.1h13.4v13.4h-13.4zM651.5,816.8h13.4v13.4h-13.4zM659,818.7h13.4v13.4h-13.4zM663.2,814.9h13.4v13.4h-13.4zM657.4,822.4h13.4v13.4h-13.4zM656.4,818.6h13.4v13.4h-13.4zM660.6,814.3h13.4v13.4h-13.4zM663.4,829.5h13.4v13.4h-13.4zM660.6,823.6h13.4v13.4h-13.4zM650,829.5h13.4v13.4h-13.4zM644.1,819.4h13.4v13.4h-13.4zM645.5,815.5h13.4v13.4h-13.4zM645.7,811.1h13.4v13.4h-13.4zM665.7,829.3h13.4v13.4h-13.4zM644.1,818.5h13.4v13.4h-13.4zM647.4,832.7h13.4v13.4h-13.4zM651.6,834.9h13.4v13.4h-13.4zM651.8,821.8h13.4v13.4h-13.4zM664.7,823.5h13.4v13.4h-13.4zM643.4,827.6h13.4v13.4h-13.4zM633.9,814.8h13.4v13.4h-13.4zM648.2,811.7h13.4v13.4h-13.4zM668.7,824.7h13.4v13.4h-13.4zM661.2,821.2h13.4v13.4h-13.4zM635,810.4h13.4v13.4h-13.4zM642.6,830.2h13.4v13.4h-13.4zM661.7,816.7h13.4v13.4h-13.4zM645.2,838.7h13.4v13.4h-13.4zM651.4,834h13.4v13.4h-13.4zM635.8,815.8h13.4v13.4h-13.4zM653.4,828.4h13.4v13.4h-13.4zM647.8,837.3h13.4v13.4h-13.4zM642.2,823.3h13.4v13.4h-13.4zM643.5,810.4h13.4v13.4h-13.4zM639,821.2h13.4v13.4h-13.4zM634.6,815.7h13.4v13.4h-13.4zM652,826.1h13.4v13.4h-13.4zM642.9,835h13.4v13.4h-13.4zM635.7,821.3h13.4v13.4h-13.4zM663.2,831.2h13.4v13.4h-13.4zM668.6,814.6h13.4v13.4h-13.4zM646.6,813.6h13.4v13.4h-13.4zM647.5,823.6h13.4v13.4h-13.4zM637.7,824.1h13.4v13.4h-13.4zM665.4,812.4h13.4v13.4h-13.4zM652,809.3h13.4v13.4h-13.4zM638.3,810.7h13.4v13.4h-13.4zM656.1,828h13.4v13.4h-13.4zM654.5,832.4h13.4v13.4h-13.4zM650.8,819.7h13.4v13.4h-13.4zM640.8,814.7h13.4v13.4h-13.4zM656.3,815h13.4v13.4h-13.4zM633.4,809h13.4v13.4h-13.4zM668.5,809h13.4v13.4h-13.4zM670.9,821.8h13.4v13.4h-13.4zM670.9,831.9h13.4v13.4h-13.4zM661.3,833.3h13.4v13.4h-13.4zM651.3,836.3h13.4v13.4h-13.4zM645.3,842.2h13.4v13.4h-13.4zM642.3,842.2h13.4v13.4h-13.4zM642.3,829.3h13.4v13.4h-13.4zM636.8,823.3h13.4v13.4h-13.4zM633.4,818.3h13.4v13.4h-13.4zM633.4,838.2h13.4v13.4h-13.4z"/>
<path class="mk" stroke="#00f" shape-rendering="crispEdges" d="M217.8,137h19.6l-9.8,17zM184.3,150.4h19.6l-9.8,17zM264.3,150.7h19.6l-9.8,17zM189.1,137.2h19.6l-9.8,17zM216.5,172.5h19.6l-9.8,17zM221.6,111.7h19.6l-9.8,17zM246.6,177h19.6l-9.8,17zM208.1,170.3h19.6l-9.8,17zM200.2,143.5h19.6l-9.8,17zM233,171h19.6l-9.8,17zM248.4,186.9h19.6l-9.8,17zM232.6,176.5h19.6l-9.8,17zM209,180.1h19.6l-9.8,17zM210.2,179h19.6l-9.8,17zM209.1,131.5h19.6l-9.8,17zM206.8,126.3h19.6l-9.8,17zM205.7,170.9h19.6l-9.8,17zM226,127.3h19.6l-9.8,17zM221.5,140.8h19.6l-9.8,17zM218.1,160.8h19.6l-9.8,17zM186,121.8h19.6l-9.8,17zM216.6,161.6h19.6l-9.8,17zM187.7,135.6h19.6l-9.8,17zM233.9,124.6h19.6l-9.8,17zM279.6,128h19.6l-9.8,17zM243.8,158.4h19.6l-9.8,17zM194.1,121.8h19.6l-9.8,17zM180.9,122.2h19.6l-9.8,17zM266.3,148.8h19.6l-9.8,17zM226.6,118.8h19.6l-9.8,17zM253.7,146.7h19.6l-9.8,17zM233.9,135.9h19.6l-9.8,17zM250.1,160.7h19.6l-9.8,17zM262,127.7h19.6l-9.8,17zM225.3,158.9h19.6l-9.8,17zM218.9,179.6h19.6l-9.8,17zM205.3,159.1h19.6l-9.8,17zM237.2,178.4h19.6l-9.8,17zM231,149.5h19.6l-9.8,17zM202.3,165.3h19.6l-9.8,17zM225.2,162.8h19.6l-9.8,17zM250.2,146.9h19.6l-9.8,17zM222.9,173.7h19.6l-9.8,17zM192.2,136.1h19.6l-9.8,17zM238.5,177.5h19.6l-9.8,17zM204.5,173.6h19.6l-9.8,17zM285.6,133.4h19.6l-9.8,17zM281.3,138.1h19.6l-9.8,17zM221.1,166.5h19.6l-9.8,17zM194.9,148.3h19.6l-9.8,17zM253,188.3h19.6l-9.8,17zM218.4,185.1h19.6l-9.8,17zM247,145.3h19.6l-9.8,17zM207.6,124.4h19.6l-9.8,17zM234.5,167.7h19.6l-9.8,17zM251.3,172.9h19.6l-9.8,17zM249.3,173.3h19.6l-9.8,17zM252.3,168.6h19.6l-9.8,17zM191.8,157.4h19.6l-9.8,17zM190.4,157.1h19.6l-9.8,17zM201.7,140.1h19.6l-9.8,17zM260.7,138.7h19.6l-9.8,17zM228.4,185.8h19.6l-9.8,17zM277.7,132.5h19.6l-9.8,17zM247.3,180.6h19.6l-9.8,17zM236.6,133.3h19.6l-9.8,17zM266.7,133.7h19.6l-9.8,17zM249.8,172.8h19.6l-9.8,17zM217,132.9h19.6l-9.8,17zM215.2,182.7h19.6l-9.8,17zM185.6,117.9h19.6l-9.8,17zM237.7,168.5h19.6l-9.8,17zM277.5,143.1h19.6l-9.8,17zM242.8,129.8h19.6l-9.8,17zM199.6,115.4h19.6l-9.8,17zM232.8,120.9h19.6l-9.8,17zM202.3,165h19.6l-9.8,17zM223.8,146.1h19.6l-9.8,17zM196,133h19.6l-9.8,17zM241.3,160.9h19.6l-9.8,17zM255.6,125.9h19.6l-9.8,17zM260.9,121.6h19.6l-9.8,17zM269.7,123.5h19.6l-9.8,17zM188.1,145.1h19.6l-9.8,17zM244.1,175h19.6l-9.8,17zM245.9,120h19.6l-9.8,17zM231.1,136.2h19.6l-9.8,17zM183.2,126.1h19.6l-9.8,17zM242.7,139h19.6l-9.8,17zM239.4,171h19.6l-9.8,17zM240.7,137.7h19.6l-9.8,17zM237,183.8h19.6l-9.8,17zM243.8,184h19.6l-9.8,17zM211.6,129h19.6l-9.8,17zM225.6,152.6h19.6l-9.8,17zM229.5,142.6h19.6l-9.8,17zM202.8,153h19.6l-9.8,17zM205.6,130.9h19.6l-9.8,17zM240.4,132.3h19.6l-9.8,17zM272.3,128.4h19.6l-9.8,17zM196.6,157h19.6l-9.8,17zM222.3,181.4h19.6l-9.8,17zM251.3,123h19.6l-9.8,17zM233.9,180.7h19.6l-9.8,17zM197.9,120.6h19.6l-9.8,17zM278.8,136.3h19.6l-9.8,17zM245.9,166.4h19.6l-9.8,17zM210.5,150.2h19.6l-9.8,17zM232.5,141.3h19.6l-9.8,17zM188.8,122.6h19.6l-9.8,17zM246.9,156.7h19.6l-9.8,17zM254.1,168.4h19.6l-9.8,17zM222.2,155h19.6l-9.8,17zM200.4,125.7h19.6l-9.8,17zM189.1,152.9h19.6l-9.8,17zM256.8,123.2h19.6l-9.8,17zM273.9,144.4h19.6l-9.8,17zM258.8,144.6h19.6l-9.8,17zM251.5,178.7h19.6l-9.8,17zM216.4,152.7h19.6l-9.8,17zM227.1,167.9h19.6l-9.8,17zM236.8,161.8h19.6l-9.8,17zM230,108.5h19.6l-9.8,17zM200.7,164.5h19.6l-9.8,17zM212.2,161h19.6l-9.8,17zM283.8,136h19.6l-9.8,17zM218.3,145.4h19.6l-9.8,17zM249.6,167.5h19.6l-9.8,17zM214.9,157.2h19.6l-9.8,17zM222.2,116.7h19.6l-9.8,17zM261.7,150.5h19.6l-9.8,17zM259.6,147.6h19.6l-9.8,17zM283.1,133.2h19.6l-9.8,17zM286.3,137.2h19.6l-9.8,17zM187.1,131.5h19.6l-9.8,17zM226.4,113.8h19.6l-9.8,17zM217.2,108.5h19.6l-9.8,17zM231.7,157.4h19.6l-9.8,17zM221,108.4h19.6l-9.8,17zM227.6,106.3h19.6l-9.8,17zM223.1,168.5h19.6l-9.8,17zM210.4,166.6h19.6l-9.8,17zM253.9,129.5h19.6l-9.8,17zM268.9,141.4h19.6l-9.8,17zM264.3,122.2h19.6l-9.8,17zM229.6,147.1h19.6l-9.8,17zM214.3,131h19.6l-9.8,17zM224.2,184.8h19.6l-9.8,17zM221.1,174.9h19.6l-9.8,17zM270.7,149.6h19.6l-9.8,17zM237.2,176.7h19.6l-9.8,17zM229.1,158.1h19.6l-9.8,17zM194.4,151.7h19.6l-9.8,17zM252.2,135.5h19.6l-9.8,17zM196.8,162.3h19.6l-9.8,17zM211.8,177.2h19.6l-9.8,17zM230.3,121.4h19.6l-9.8,17zM253.1,161h19.6l-9.8,17zM217.6,115.1h19.6l-9.8,17zM251.9,190.8h19.6l-9.8,17zM242.1,127.9h19.6l-9.8,17zM230.2,113.7h19.6l-9.8,17zM212,169.8h19.6l-9.8,17zM206.3,136.9h19.6l-9.8,17zM255.3,127h19.6l-9.8,17zM265.1,154.8h19.6l-9.8,17zM270.8,125.5h19.6l-9.8,17zM273,149h19.6l-9.8,17zM235.8,132h19.6l-9.8,17zM190.4,127h19.6l-9.8,17zM197.9,168.6h19.6l-9.8,17zM224.9,136.6h19.6l-9.8,17zM244,171.9h19.6l-9.8,17zM240.7,186h19.6l-9.8,17zM199.5,148.7h19.6l-9.8,17zM240.8,164.5h19.6l-9.8,17zM208.5,148.2h19.6l-9.8,17zM232.1,115.8h19.6l-9.8,17zM193.1,160.5h19.6l-9.8,17zM206.9,139.2h19.6l-9.8,17zM208.8,114.1h19.6l-9.8,17zM252.9,152.9h19.6l-9.8,17zM225.1,172.2h19.6l-9.8,17zM224.9,130.5h19.6l-9.8,17zM252.5,145.4h19.6l-9.8,17zM226.3,148h19.6l-9.8,17zM188.2,124.1h19.6l-9.8,17zM192.7,117.5h19.6l-9.8,17zM224.1,178.5h19.6l-9.8,17zM259.2,140.1h19.6l-9.8,17zM226.2,156.6h19.6l-9.8,17zM232.3,126.2h19.6l-9.8,17zM216.4,109.9h19.6l-9.8,17zM247.4,130.3h19.6l-9.8,17zM210.2,154.1h19.6l-9.8,17zM205.3,122.9h19.6l-9.8,17zM185.8,154h19.6l-9.8,17zM273.7,137.3h19.6l-9.8,17zM254.3,138.9h19.6l-9.8,17zM267.2,130h19.6l-9.8,17zM245.5,156h19.6l-9.8,17zM198.8,128.8h19.6l-9.8,17zM260.8,146.4h19.6l-9.8,17zM244.3,135.4h19.6l-9.8,17zM204,137.4h19.6l-9.8,17zM229.1,176.5h19.6l-9.8,17zM218,153h19.6l-9.8,17zM194,125.8h19.6l-9.8,17zM237.1,126.9h19.6l-9.8,17zM193.3,122h19.6l-9.8,17zM263.5,144.4h19.6l-9.8,17zM231.2,184.2h19.6l-9.8,17zM201,114.2h19.6l-9.8,17zM257,133.2h19.6l-9.8,17zM249.5,138.7h19.6l-9.8,17zM200.8,117.7h19.6l-9.8,17zM215.5,162.4h19.6l-9.8,17zM209.5,136.6h19.6l-9.8,17zM213.6,173.6h19.6l-9.8,17zM241.3,183.9h19.6l-9.8,17zM211,114h19.6l-9.8,17zM196.1,157h19.6l-9.8,17zM255.9,136.1h19.6l-9.8,17zM216.6,126h19.6l-9.8,17zM258.8,156h19.6l-9.8,17zM231.1,161.3h19.6l-9.8,17zM256.5,180.3h19.6l-9.8,17zM212.2,173.3h19.6l-9.8,17zM214.9,120.5h19.6l-9.8,17zM239.6,119.8h19.6l-9.8,17zM239.2,155.4h19.6l-9.8,17zM215.4,116.7h19.6l-9.8,17zM237.2,154.9h19.6l-9.8,17zM201.3,159.7h19.6l-9.8,17zM255.5,130.2h19.6l-9.8,17zM187.4,143.3h19.6l-9.8,17zM225.2,115.6h19.6l-9.8,17zM197.4,151.7h19.6l-9.8,17zM231.9,130.7h19.6l-9.8,17zM219.4,105.6h19.6l-9.8,17zM267.8,139.4h19.6l-9.8,17zM217.1,165.8h19.6l-9.8,17zM238,143.9h19.6l-9.8,17zM275.9,140.1h19.6l-9.8,17zM216.8,148.5h19.6l-9.8,17zM235.4,146.8h19.6l-9.8,17zM245.7,124h19.6l-9.8,17zM213.9,124.9h19.6l-9.8,17zM230.3,127.4h19.6l-9.8,17zM251.3,152.9h19.6l-9.8,17zM271.8,146.1h19.6l-9.8,17zM191.1,148.4h19.6l-9.8,17zM222.5,133.1h19.6l-9.8,17zM233.4,154.5h19.6l-9.8,17zM260.1,134.9h19.6l-9.8,17zM254.7,180.3h19.6l-9.8,17zM232.7,176.4h19.6l-9.8,17zM197.6,166.8h19.6l-9.8,17zM205.3,138.9h19.6l-9.8,17zM195.5,139.8h19.6l-9.8,17zM193.9,116.2h19.6l-9.8,17zM213.7,106h19.6l-9.8,17zM253.9,160.6h19.6l-9.8,17zM223.3,180.2h19.6l-9.8,17zM264.5,129h19.6l-9.8,17zM271.7,133.8h19.6l-9.8,17zM256.5,150.6h19.6l-9.8,17zM246.8,151.2h19.6l-9.8,17zM196.4,143.3h19.6l-9.8,17zM257.6,173.4h19.6l-9.8,17zM247,146.7h19.6l-9.8,17zM255.9,157.4h19.6l-9.8,17zM236.1,140.8h19.6l-9.8,17zM201.5,152.4h19.6l-9.8,17zM221.7,162.4h19.6l-9.8,17zM210.9,143.1h19.6l-9.8,17zM217.9,127.1h19.6l-9.8,17zM222.4,121.6h19.6l-9.8,17zM198.6,155.3h19.6l-9.8,17zM254.3,142.1h19.6l-9.8,17zM202.4,116h19.6l-9.8,17zM212.4,138.5h19.6l-9.8,17zM264.4,130h19.6l-9.8,17zM218.6,149.5h19.6l-9.8,17zM206.6,143h19.6l-9.8,17zM221.5,124.7h19.6l-9.8,17zM229.8,125.8h19.6l-9.8,17zM237.7,150.7h19.6l-9.8,17zM190.2,130.4h19.6l-9.8,17zM209.6,110.6h19.6l-9.8,17zM219.8,134.5h19.6l-9.8,17zM201.7,133h19.6l-9.8,17zM222.9,141.9h19.6l-9.8,17zM232.5,144h19.6l-9.8,17zM204.8,119h19.6l-9.8,17zM264.7,158h19.6l-9.8,17zM238.8,124.8h19.6l-9.8,17zM208.8,168.4h19.6l-9.8,17zM244.7,163.6h19.6l-9.8,17zM184.8,141.4h19.6l-9.8,17zM250.8,154.6h19.6l-9.8,17zM235.4,150.2h19.6l-9.8,17zM252.9,183.3h19.6l-9.8,17zM271.6,133.4h19.6l-9.8,17zM223.6,106.2h19.6l-9.8,17zM227.7,138.9h19.6l-9.8,17zM248.8,129.7h19.6l-9.8,17zM227.6,176.7h19.6l-9.8,17zM212.1,147.6h19.6l-9.8,17zM192.2,143.3h19.6l-9.8,17zM216.4,141.9h19.6l-9.8,17zM244.3,143.5h19.6l-9.8,17zM207.3,151.7h19.6l-9.8,17zM207.1,108h19.6l-9.8,17zM185,136h19.6l-9.8,17zM218.7,129.2h19.6l-9.8,17zM209.1,163.8h19.6l-9.8,17zM224.1,164.8h19.6l-9.8,17zM216,141.3h19.6l-9.8,17zM239.3,146.1h19.6l-9.8,17zM265.5,154.1h19.6l-9.8,17zM273,135.7h19.6l-9.8,17zM198.1,137.1h19.6l-9.8,17zM236.4,166.7h19.6l-9.8,17zM246.2,136.5h19.6l-9.8,17zM215.1,156.2h19.6l-9.8,17zM244.5,150.5h19.6l-9.8,17zM186.5,120.6h19.6l-9.8,17zM239.5,157.2h19.6l-9.8,17zM225.4,123.9h19.6l-9.8,17zM203,147.1h19.6l-9.8,17zM232.7,185.4h19.6l-9.8,17zM200,125.3h19.6l-9.8,17zM210,119.8h19.6l-9.8,17zM212.2,104.3h19.6l-9.8,17zM233.2,105.8h19.6l-9.8,17zM234.5,107.4h19.6l-9.8,17zM236.2,118.8h19.6l-9.8,17zM257.5,120.1h19.6l-9.8,17zM274.5,124.3h19.6l-9.8,17zM284.5,130.4h19.6l-9.8,17zM287.5,137.3h19.6l-9.8,17zM279.2,146.3h19.6l-9.8,17zM258.2,164.3h19.6l-9.8,17zM257.2,189.3h19.6l-9.8,17zM248.4,192.1h19.6l-9.8,17zM238.7,184.9h19.6l-9.8,17zM221.7,188h19.6l-9.8,17zM205.8,178.2h19.6l-9.8,17zM185.8,155.2h19.6l-9.8,17zM183.1,147.6h19.6l-9.8,17zM183.1,133.2h19.6l-9.8,17zM179.7,120.1h19.6l-9.8,17zM189.8,114.3h19.6l-9.8,17zM199.5,111.2h19.6l-9.8,17zM280.7,155.3h19.6l-9.8,17zM183.1,140.4h19.6l-9.8,17zM186.7,157.1h19.6l-9.8,17zM307.8,170.4h19.6l-9.8,17zM310.6,176.5h19.6l-9.8,17zM294.1,193.5h19.6l-9.8,17zM288.8,196.6h19.6l-9.8,17zM297.3,206h19.6l-9.8,17zM307.6,419h19.6l-9.8,17zM908.7,584.8h19.6l-9.8,17zM343.2,275.3h19.6l-9.8,17z"/>
<path class="mk" stroke="#f0f" shape-rendering="crispEdges" d="M353.7,304.9h24M365.7,292.9v24M357.2,296.4l17,17M357.2,313.4l17,-17M362.1,314.7h24M374.1,302.7v24M365.6,306.2l17,17M365.6,323.1l17,-17M366.1,295.4h24M378.1,283.4v24M369.6,286.9l17,17M369.6,303.9l17,-17M373.6,298.4h24M385.6,286.4v24M377.1,289.9l17,17M377.1,306.9l17,-17M339.1,284.8h24M351.1,272.8v24M342.6,276.3l17,17M342.6,293.3l17,-17M358.1,305.5h24M370.1,293.5v24M361.7,297.1l17,17M361.7,314l17,-17M380.7,296.6h24M392.7,284.6v24M384.2,288.1l17,17M384.2,305.1l17,-17M361.1,286.9h24M373.1,274.9v24M364.6,278.4l17,17M364.6,295.4l17,-17M371.6,294.5h24M383.6,282.5v24M375.1,286l17,17M375.1,303l17,-17M371.9,315.7h24M383.9,303.7v24M375.4,307.2l17,17M375.4,324.2l17,-17M367.1,308.1h24M379.1,296.1v24M370.6,299.6l17,17M370.6,316.6l17,-17M383.3,302.2h24M395.3,290.2v24M386.8,293.7l17,17M386.8,310.7l17,-17M340.9,283.5h24M352.9,271.5v24M344.4,275l17,17M344.4,292l17,-17M355.6,287.7h24M367.6,275.7v24M359.1,279.2l17,17M359.1,296.2l17,-17M377.2,313.4h24M389.2,301.4v24M380.8,305l17,17M380.8,321.9l17,-17M347.5,284.2h24M359.5,272.2v24M351,275.7l17,17M351,292.7l17,-17M346.6,293.6h24M358.6,281.6v24M350.1,285.2l17,17M350.1,302.1l17,-17M356.4,306.1h24M368.4,294.1v24M359.9,297.6l17,17M359.9,314.6l17,-17M358.4,303.8h24M370.4,291.8v24M361.9,295.3l17,17M361.9,312.3l17,-17M364.7,302.3h24M376.7,290.3v24M368.2,293.8l17,17M368.2,310.8l17,-17M369.7,303.6h24M381.7,291.6v24M373.3,295.1l17,17M373.3,312.1l17,-17M361.3,300.3h24M373.3,288.3v24M364.9,291.8l17,17M364.9,308.8l17,-17M372.4,306h24M384.4,294v24M375.9,297.5l17,17M375.9,314.5l17,-17M371.2,301.2h24M383.2,289.2v24M374.7,292.7l17,17M374.7,309.7l17,-17M353.8,285.2h24M365.8,273.2v24M357.3,276.7l17,17M357.3,293.7l17,-17M373.1,304.9h24M385.1,292.9v24M376.6,296.4l17,17M376.6,313.4l17,-17M352.8,283.7h24M364.8,271.7v24M356.3,275.2l17,17M356.3,292.2l17,-17M360.7,288h24M372.7,276v24M364.2,279.5l17,17M364.2,296.5l17,-17M378.7,298.8h24M390.7,286.8v24M382.2,290.3l17,17M382.2,307.3l17,-17M347.9,297.8h24M359.9,285.8v24M351.4,289.3l17,17M351.4,306.3l17,-17M363.8,310.7h24M375.8,298.7v24M367.3,302.2l17,17M367.3,319.2l17,-17M367.3,297.6h24M379.3,285.6v24M370.8,289.1l17,17M370.8,306l17,-17M355.7,296.2h24M367.7,284.2v24M359.2,287.7l17,17M359.2,304.7l17,-17M343.8,281h24M355.8,269v24M347.3,272.5l17,17M347.3,289.5l17,-17M375.7,301.7h24M387.7,289.7v24M379.2,293.2l17,17M379.2,310.2l17,-17M368.6,286.2h24M380.6,274.2v24M372.1,277.7l17,17M372.1,294.7l17,-17M351.4,296h24M363.4,284v24M354.9,287.6l17,17M354.9,304.5l17,-17M361.6,295.9h24M373.6,283.9v24M365.1,287.5l17,17M365.1,304.4l17,-17M348.5,287.8h24M360.5,275.8v24M352,279.3l17,17M352,296.3l17,-17M377.5,296h24M389.5,284v24M381.1,287.5l17,17M381.1,304.5l17,-17M372.6,311.3h24M384.6,299.3v24M376.1,302.8l17,17M376.1,319.8l17,-17M345.6,288.6h24M357.6,276.6v24M349.1,280.1l17,17M349.1,297.1l17,-17M349.3,302.6h24M361.3,290.6v24M352.8,294.2l17,17M352.8,311.1l17,-17M343.6,293.6h24M355.6,281.6v24M347.1,285.1l17,17M347.1,302.1l17,-17M370.4,298.8h24M382.4,286.8v24M373.9,290.4l17,17M373.9,307.3l17,-17M353.5,291.6h24M365.5,279.6v24M357,283.1l17,17M357,300l17,-17M349.3,298.6h24M361.3,286.6v24M352.9,290.1l17,17M352.9,307.1l17,-17M384.4,300.6h24M396.4,288.6v24M387.9,292.1l17,17M387.9,309l17,-17M366.8,319.6h24M378.8,307.6v24M370.3,311.1l17,17M370.3,328.1l17,-17M369.2,292.1h24M381.2,280.1v24M372.7,283.6l17,17M372.7,300.6l17,-17M355.5,311.1h24M367.5,299.1v24M359,302.6l17,17M359,319.5l17,-17M383,311h24M395,299v24M386.5,302.5l17,17M386.5,319.5l17,-17M371.1,287.4h24M383.1,275.4v24M374.6,278.9l17,17M374.6,295.9l17,-17M364.7,316.8h24M376.7,304.8v24M368.2,308.3l17,17M368.2,325.3l17,-17M376.7,289.4h24M388.7,277.4v24M380.2,280.9l17,17M380.2,297.9l17,-17M379.7,308.2h24M391.7,296.2v24M383.2,299.7l17,17M383.2,316.6l17,-17M356.8,295.4h24M368.8,283.4v24M360.3,286.9l17,17M360.3,303.8l17,-17M367.8,310.5h24M379.8,298.5v24M371.3,302l17,17M371.3,319l17,-17M365,291.2h24M377,279.2v24M368.6,282.7l17,17M368.6,299.7l17,-17M341.3,277h24M353.3,265v24M344.8,268.5l17,17M344.8,285.5l17,-17M353,282h24M365,270v24M356.5,273.5l17,17M356.5,290.5l17,-17M360.7,284.2h24M372.7,272.2v24M364.2,275.7l17,17M364.2,292.7l17,-17M369.8,284.2h24M381.8,272.2v24M373.3,275.7l17,17M373.3,292.7l17,-17M378,288h24M390,276v24M381.5,279.5l17,17M381.5,296.5l17,-17M384,295h24M396,283v24M387.5,286.5l17,17M387.5,303.5l17,-17M388,305h24M400,293v24M391.5,296.5l17,17M391.5,313.5l17,-17M386,312h24M398,300v24M389.5,303.5l17,17M389.5,320.5l17,-17M378,314h24M390,302v24M381.5,305.5l17,17M381.5,322.5l17,-17M374.5,312.7h24M386.5,300.7v24M378,304.2l17,17M378,321.2l17,-17M370,318h24M382,306v24M373.5,309.5l17,17M373.5,326.5l17,-17M364.5,323.1h24M376.5,311.1v24M368,314.6l17,17M368,331.6l17,-17M358,318h24M370,306v24M361.5,309.5l17,17M361.5,326.5l17,-17M351.1,307.5h24M363.1,295.5v24M354.6,299l17,17M354.6,316l17,-17M346,298h24M358,286v24M349.5,289.5l17,17M349.5,306.5l17,-17M338,284.2h24M350,272.2v24M341.5,275.7l17,17M341.5,292.7l17,-17M413.9,326.7h24M425.9,314.7v24M417.4,318.2l17,17M417.4,335.2l17,-17"/>
<path class="mk" stroke="#0ff" shape-rendering="crispEdges" d="M511.2,842.8h19.6l-9.8,-17zM512.8,835.1h19.6l-9.8,-17zM521.8,834.4h19.6l-9.8,-17zM504.9,827.6h19.6l-9.8,-17zM515.4,828.4h19.6l-9.8,-17zM514.9,837.6h19.6l-9.8,-17zM512.4,825.3h19.6l-9.8,-17zM525,828.8h19.6l-9.8,-17zM522.8,827.7h19.6l-9.8,-17zM519.5,831.4h19.6l-9.8,-17zM497.9,819.7h19.6l-9.8,-17zM510.8,822.5h19.6l-9.8,-17zM517.3,825.5h19.6l-9.8,-17zM530.3,822.5h19.6l-9.8,-17zM536.1,824.1h19.6l-9.8,-17zM527.5,834.9h19.6l-9.8,-17zM522.2,845.7h19.6l-9.8,-17zM509.4,844.3h19.6l-9.8,-17zM505.1,831.3h19.6l-9.8,-17zM499.3,818.3h19.6l-9.8,-17zM509.1,925.2h19.6l-9.8,-17zM507.2,911.4h19.6l-9.8,-17zM529,874.4h19.6l-9.8,-17zM530.2,912.3h19.6l-9.8,-17zM530.4,924.4h19.6l-9.8,-17zM512.7,848.1h19.6l-9.8,-17zM552.7,896.2h19.6l-9.8,-17zM506.5,924.5h19.6l-9.8,-17zM504.4,914.4h19.6l-9.8,-17zM537.5,903.1h19.6l-9.8,-17zM506.3,881.9h19.6l-9.8,-17zM512.1,909.1h19.6l-9.8,-17zM510.9,901h19.6l-9.8,-17zM533.8,895.6h19.6l-9.8,-17zM543.2,865.1h19.6l-9.8,-17zM544.5,869.9h19.6l-9.8,-17zM490.4,884.8h19.6l-9.8,-17zM517.5,871.7h19.6l-9.8,-17zM508.8,866.1h19.6l-9.8,-17zM515.4,876.2h19.6l-9.8,-17zM504.5,869.5h19.6l-9.8,-17zM527.4,924.6h19.6l-9.8,-17zM499.2,927.5h19.6l-9.8,-17zM528,871h19.6l-9.8,-17zM520.2,861.7h19.6l-9.8,-17zM505.8,892.8h19.6l-9.8,-17zM517.3,856.7h19.6l-9.8,-17zM491.8,885.2h19.6l-9.8,-17zM521.1,929.5h19.6l-9.8,-17zM503.7,923.4h19.6l-9.8,-17zM544.9,918h19.6l-9.8,-17zM525.4,851.7h19.6l-9.8,-17zM538.6,899.9h19.6l-9.8,-17zM495.1,908.1h19.6l-9.8,-17zM487.8,906.9h19.6l-9.8,-17zM548.3,905.1h19.6l-9.8,-17zM500.3,877.6h19.6l-9.8,-17zM535.5,860.4h19.6l-9.8,-17zM544.6,889.8h19.6l-9.8,-17zM515.3,902.2h19.6l-9.8,-17zM513.1,854.1h19.6l-9.8,-17zM507.6,875.2h19.6l-9.8,-17zM498.6,907.3h19.6l-9.8,-17zM524,855.5h19.6l-9.8,-17zM511.4,906.7h19.6l-9.8,-17zM492.3,877.3h19.6l-9.8,-17zM502.1,868h19.6l-9.8,-17zM554.1,904.9h19.6l-9.8,-17zM534.4,901.1h19.6l-9.8,-17zM502.5,888.1h19.6l-9.8,-17zM505.5,862.1h19.6l-9.8,-17zM518.1,908.3h19.6l-9.8,-17zM500.4,909.5h19.6l-9.8,-17zM543.8,916.3h19.6l-9.8,-17zM518.4,893.7h19.6l-9.8,-17zM552.1,892.1h19.6l-9.8,-17zM529.3,856.9h19.6l-9.8,-17zM513.3,852.3h19.6l-9.8,-17zM537,884.4h19.6l-9.8,-17zM496.8,874.8h19.6l-9.8,-17zM544.3,894.2h19.6l-9.8,-17zM536,913.4h19.6l-9.8,-17zM533.2,880.8h19.6l-9.8,-17zM520.3,914h19.6l-9.8,-17zM553.5,877.4h19.6l-9.8,-17zM514.8,882.3h19.6l-9.8,-17zM533.9,908.3h19.6l-9.8,-17zM543.3,920.2h19.6l-9.8,-17zM500.1,904.5h19.6l-9.8,-17zM513.9,927.2h19.6l-9.8,-17zM537.7,880.9h19.6l-9.8,-17zM493.9,913.5h19.6l-9.8,-17zM531.3,918.1h19.6l-9.8,-17zM543,900.1h19.6l-9.8,-17zM510.5,848.5h19.6l-9.8,-17zM544.6,882.1h19.6l-9.8,-17zM508.6,923.3h19.6l-9.8,-17zM513.1,928.3h19.6l-9.8,-17zM522.5,852h19.6l-9.8,-17zM513.2,890.9h19.6l-9.8,-17zM518.2,903.8h19.6l-9.8,-17zM498.8,878.6h19.6l-9.8,-17zM523.3,912.4h19.6l-9.8,-17zM543.7,889.3h19.6l-9.8,-17zM526,899.6h19.6l-9.8,-17zM548.1,873.3h19.6l-9.8,-17zM493,902.3h19.6l-9.8,-17zM504.3,900.5h19.6l-9.8,-17zM512.2,937.8h19.6l-9.8,-17zM517.1,934.5h19.6l-9.8,-17zM554.2,896.6h19.6l-9.8,-17zM540.7,904.5h19.6l-9.8,-17zM504.7,919.2h19.6l-9.8,-17zM507.2,854.7h19.6l-9.8,-17zM507.1,915.7h19.6l-9.8,-17zM535.4,922.2h19.6l-9.8,-17zM536.7,865.3h19.6l-9.8,-17zM509.4,891h19.6l-9.8,-17zM546.7,913.4h19.6l-9.8,-17zM538.2,908.5h19.6l-9.8,-17zM549.4,910.6h19.6l-9.8,-17zM522.6,903.4h19.6l-9.8,-17zM529.5,859.7h19.6l-9.8,-17zM538.9,874.7h19.6l-9.8,-17zM496.6,888.5h19.6l-9.8,-17zM516.4,928.3h19.6l-9.8,-17zM499.6,870.3h19.6l-9.8,-17zM520.8,912.7h19.6l-9.8,-17zM506.8,861.6h19.6l-9.8,-17zM510,930.6h19.6l-9.8,-17zM546.8,910h19.6l-9.8,-17zM523.7,904.8h19.6l-9.8,-17zM496.1,925.1h19.6l-9.8,-17zM539.1,881.8h19.6l-9.8,-17zM522.8,921h19.6l-9.8,-17zM524.1,897.1h19.6l-9.8,-17zM516.7,877.8h19.6l-9.8,-17zM498,909h19.6l-9.8,-17zM512.3,867.1h19.6l-9.8,-17zM511.6,885.6h19.6l-9.8,-17zM532.4,910.5h19.6l-9.8,-17zM516.4,934.4h19.6l-9.8,-17zM527.8,877.4h19.6l-9.8,-17zM488.5,909.8h19.6l-9.8,-17zM539.1,896h19.6l-9.8,-17zM527.4,908h19.6l-9.8,-17zM521.6,920.2h19.6l-9.8,-17zM502.5,874.4h19.6l-9.8,-17zM527.3,929.2h19.6l-9.8,-17zM501.3,898.9h19.6l-9.8,-17zM512.2,860.6h19.6l-9.8,-17zM525.8,915.7h19.6l-9.8,-17zM523.8,931.8h19.6l-9.8,-17zM520.2,889.3h19.6l-9.8,-17zM532.1,865.3h19.6l-9.8,-17zM544.7,908.2h19.6l-9.8,-17zM514.8,864.5h19.6l-9.8,-17zM516,867.7h19.6l-9.8,-17zM520.8,935.8h19.6l-9.8,-17zM519.1,882.5h19.6l-9.8,-17zM513,896.9h19.6l-9.8,-17zM499.4,862.2h19.6l-9.8,-17zM513.6,877h19.6l-9.8,-17zM497.1,868.6h19.6l-9.8,-17zM494.2,922.3h19.6l-9.8,-17zM530.9,900.9h19.6l-9.8,-17zM522.6,870h19.6l-9.8,-17zM507.7,878.8h19.6l-9.8,-17zM535,900.5h19.6l-9.8,-17zM502.3,905.8h19.6l-9.8,-17zM552.3,900.5h19.6l-9.8,-17zM529.9,907.2h19.6l-9.8,-17zM553,881.1h19.6l-9.8,-17zM524.6,879h19.6l-9.8,-17zM555.1,898.1h19.6l-9.8,-17zM518.7,879.1h19.6l-9.8,-17zM508.5,908h19.6l-9.8,-17zM551.9,873.3h19.6l-9.8,-17zM527.4,883.4h19.6l-9.8,-17zM500.9,881.7h19.6l-9.8,-17zM512.5,919.4h19.6l-9.8,-17zM513.8,873.6h19.6l-9.8,-17zM521.5,923.9h19.6l-9.8,-17zM495.7,902.7h19.6l-9.8,-17zM521.9,884.5h19.6l-9.8,-17zM529.4,908.5h19.6l-9.8,-17zM502.4,930.9h19.6l-9.8,-17zM493.4,910.7h19.6l-9.8,-17zM508.8,877.8h19.6l-9.8,-17zM547.1,887.6h19.6l-9.8,-17zM497.8,914.4h19.6l-9.8,-17zM501.3,918.6h19.6l-9.8,-17zM501.6,861.9h19.6l-9.8,-17zM516.1,850.2h19.6l-9.8,-17zM515.7,916.3h19.6l-9.8,-17zM527,900.8h19.6l-9.8,-17zM517.2,848.9h19.6l-9.8,-17zM518.1,898.2h19.6l-9.8,-17zM510.1,845h19.6l-9.8,-17zM529,853.3h19.6l-9.8,-17zM520.2,885.3h19.6l-9.8,-17zM542.3,895.3h19.6l-9.8,-17zM540.7,921.4h19.6l-9.8,-17zM526.4,890.1h19.6l-9.8,-17zM489.2,907.7h19.6l-9.8,-17zM508.5,895.9h19.6l-9.8,-17zM543.9,869.7h19.6l-9.8,-17zM544.4,881.4h19.6l-9.8,-17zM525,857.9h19.6l-9.8,-17zM505.4,887.5h19.6l-9.8,-17zM550.8,893.2h19.6l-9.8,-17zM552.3,906.1h19.6l-9.8,-17zM537.7,869.1h19.6l-9.8,-17zM549.9,879.1h19.6l-9.8,-17zM538.2,908.2h19.6l-9.8,-17zM495.9,894.7h19.6l-9.8,-17zM505.7,852h19.6l-9.8,-17zM522.5,875.8h19.6l-9.8,-17zM551,888.2h19.6l-9.8,-17zM540.9,877.2h19.6l-9.8,-17zM535.2,872.8h19.6l-9.8,-17zM513.2,888.6h19.6l-9.8,-17zM543.5,912.5h19.6l-9.8,-17zM527.7,874.1h19.6l-9.8,-17zM550.6,898.5h19.6l-9.8,-17zM496.6,896.7h19.6l-9.8,-17zM512.2,920.3h19.6l-9.8,-17zM491.9,897.1h19.6l-9.8,-17zM550,873.5h19.6l-9.8,-17zM546.9,901.4h19.6l-9.8,-17zM531.5,871.2h19.6l-9.8,-17zM540,891h19.6l-9.8,-17zM496.7,871.4h19.6l-9.8,-17zM529.5,920.1h19.6l-9.8,-17zM508,850.5h19.6l-9.8,-17zM507.1,895.6h19.6l-9.8,-17zM489.8,900.9h19.6l-9.8,-17zM509.2,932.5h19.6l-9.8,-17zM510.3,869.7h19.6l-9.8,-17zM536.2,916.2h19.6l-9.8,-17zM511.6,856.2h19.6l-9.8,-17zM536.8,868h19.6l-9.8,-17zM532,893h19.6l-9.8,-17zM497.5,928.3h19.6l-9.8,-17zM499.3,890.6h19.6l-9.8,-17zM527.3,862.1h19.6l-9.8,-17zM537.3,876.2h19.6l-9.8,-17zM514.1,909.3h19.6l-9.8,-17zM492.7,883.7h19.6l-9.8,-17zM516.9,860.4h19.6l-9.8,-17zM513.4,917.3h19.6l-9.8,-17zM539.3,915h19.6l-9.8,-17zM548.2,884.8h19.6l-9.8,-17zM511,914.9h19.6l-9.8,-17zM528.8,866.3h19.6l-9.8,-17zM521.7,926.9h19.6l-9.8,-17zM516.4,891.1h19.6l-9.8,-17zM526.9,922.9h19.6l-9.8,-17zM508,933.7h19.6l-9.8,-17zM538.5,887.9h19.6l-9.8,-17zM524.3,885.7h19.6l-9.8,-17zM542.7,873.6h19.6l-9.8,-17zM511.8,865.2h19.6l-9.8,-17zM524.9,920.4h19.6l-9.8,-17zM523.4,900h19.6l-9.8,-17zM499.8,893.1h19.6l-9.8,-17zM518.8,863.7h19.6l-9.8,-17zM493.6,890.4h19.6l-9.8,-17zM515.8,921.1h19.6l-9.8,-17zM504,899.5h19.6l-9.8,-17zM500.7,878.5h19.6l-9.8,-17zM497.3,922.3h19.6l-9.8,-17zM519.8,866.2h19.6l-9.8,-17zM523,862.8h19.6l-9.8,-17zM513.4,894.4h19.6l-9.8,-17zM555.8,904.6h19.6l-9.8,-17zM530.4,885.3h19.6l-9.8,-17zM523.6,848.9h19.6l-9.8,-17zM528.9,895.6h19.6l-9.8,-17zM497.3,920.1h19.6l-9.8,-17zM494,917.2h19.6l-9.8,-17zM486.9,900.5h19.6l-9.8,-17zM505,882.6h19.6l-9.8,-17zM528.3,866.5h19.6l-9.8,-17zM506.1,896.7h19.6l-9.8,-17zM528.2,885.4h19.6l-9.8,-17zM534.4,885.9h19.6l-9.8,-17zM534.2,888.9h19.6l-9.8,-17zM509.2,844.3h19.6l-9.8,-17zM522.2,845.7h19.6l-9.8,-17zM535.2,857.7h19.6l-9.8,-17zM551.2,872.4h19.6l-9.8,-17zM557.8,876h19.6l-9.8,-17zM556.2,890.7h19.6l-9.8,-17zM556.4,906.4h19.6l-9.8,-17zM546.2,919.4h19.6l-9.8,-17zM530.4,926.6h19.6l-9.8,-17zM523.2,936h19.6l-9.8,-17zM517.2,939.7h19.6l-9.8,-17zM513.2,939.7h19.6l-9.8,-17zM502.2,933.1h19.6l-9.8,-17zM492.1,923h19.6l-9.8,-17zM485.6,902.8h19.6l-9.8,-17zM488.4,894.8h19.6l-9.8,-17zM492.1,876.7h19.6l-9.8,-17zM494.9,868.9h19.6l-9.8,-17zM502.2,855.7h19.6l-9.8,-17zM544.1,812.4h19.6l-9.8,-17zM580.2,881.8h19.6l-9.8,-17zM574.4,884.6h19.6l-9.8,-17zM579.5,880.4h19.6l-9.8,-17zM568.2,882.7h19.6l-9.8,-17zM609.8,538.8h19.6l-9.8,-17z"/>
<path class="mk" stroke="#ff0" shape-rendering="crispEdges" d="M660.091,789.7a8,8 0 1 0 16,0a8,8 0 1 0 -16,0zM646.386,772.5a8,8 0 1 0 16,0a8,8 0 1 0 -16,0zM643.044,774.5a8,8 0 1 0 16,0a8,8 0 1 0 -16,0zM658.624,763.4a8,8 0 1 0 16,0a8,8 0 1 0 -16,0zM668.596,764.3a8,8 0 1 0 16,0a8,8 0 1 0 -16,0zM671.447,778.1a8,8 0 1 0 16,0a8,8 0 1 0 -16,0zM651.739,767a8,8 0 1 0 16,0a8,8 0 1 0 -16,0zM684.51,770.3a8,8 0 1 0 16,0a8,8 0 1 0 -16,0zM674.455,779.3a8,8 0 1 0 16,0a8,8 0 1 0 -16,0zM660.847,752.2a8,8 0 1 0 16,0a8,8 0 1 0 -16,0zM655.653,777.1a8,8 0 1 0 16,0a8,8 0 1 0 -16,0zM669.579,765.2a8,8 0 1 0 16,0a8,8 0 1 0 -16,0zM671.997,751.1a8,8 0 1 0 16,0a8,8 0 1 0 -16,0zM643.935,764.2a8,8 0 1 0 16,0a8,8 0 1 0 -16,0zM657.003,756.3a8,8 0 1 0 16,0a8,8 0 1 0 -16,0zM670.388,786.3a8,8 0 1 0 16,0a8,8 0 1 0 -16,0zM667.225,787.2a8,8 0 1 0 16,0a8,8 0 1 0 -16,0zM657.588,753.5a8,8 0 1 0 16,0a8,8 0 1 0 -16,0zM646.97,775.4a8,8 0 1 0 16,0a8,8 0 1 0 -16,0zM660.383,779.1a8,8 0 1 0 16,0a8,8 0 1 0 -16,0zM647.981,781.6a8,8 0 1 0 16,0a8,8 0 1 0 -16,0zM653.665,790.3a8,8 0 1 0 16,0a8,8 0 1 0 -16,0zM675.792,782.4a8,8 0 1 0 16,0a8,8 0 1 0 -16,0zM640.816,768.9a8,8 0 1 0 16,0a8,8 0 1 0 -16,0zM679.265,776.7a8,8 0 1 0 16,0a8,8 0 1 0 -16,0zM658.614,781.4a8,8 0 1 0 16,0a8,8 0 1 0 -16,0zM672.915,783.6a8,8 0 1 0 16,0a8,8 0 1 0 -16,0zM651.553,755.4a8,8 0 1 0 16,0a8,8 0 1 0 -16,0zM664.264,768.4a8,8 0 1 0 16,0a8,8 0 1 0 -16,0zM651.692,762.8a8,8 0 1 0 16,0a8,8 0 1 0 -16,0zM640.633,778a8,8 0 1 0 16,0a8,8 0 1 0 -16,0zM657.091,771.1a8,8 0 1 0 16,0a8,8 0 1 0 -16,0zM666.173,756.8a8,8 0 1 0 16,0a8,8 0 1 0 -16,0zM662.017,749.4a8,8 0 1 0 16,0a8,8 0 1 0 -16,0zM682.178,785.9a8,8 0 1 0 16,0a8,8 0 1 0 -16,0zM653.161,781.8a8,8 0 1 0 16,0a8,8 0 1 0 -16,0zM683.993,780a8,8 0 1 0 16,0a8,8 0 1 0 -16,0zM650.621,755.6a8,8 0 1 0 16,0a8,8 0 1 0 -16,0zM655.928,773.6a8,8 0 1 0 16,0a8,8 0 1 0 -16,0zM684.75,765.2a8,8 0 1 0 16,0a8,8 0 1 0 -16,0zM678.104,760.5a8,8 0 1 0 16,0a8,8 0 1 0 -16,0zM652.319,793.6a8,8 0 1 0 16,0a8,8 0 1 0 -16,0zM663.617,761.8a8,8 0 1 0 16,0a8,8 0 1 0 -16,0zM646.889,756a8,8 0 1 0 16,0a8,8 0 1 0 -16,0zM657.269,794.2a8,8 0 1 0 16,0a8,8 0 1 0 -16,0zM679.879,758.6a8,8 0 1 0 16,0a8,8 0 1 0 -16,0zM686.839,774.6a8,8 0 1 0 16,0a8,8 0 1 0 -16,0zM682.05,773.7a8,8 0 1 0 16,0a8,8 0 1 0 -16,0zM685.618,781.4a8,8 0 1 0 16,0a8,8 0 1 0 -16,0zM659.279,770.9a8,8 0 1 0 16,0a8,8 0 1 0 -16,0zM669.919,771.5a8,8 0 1 0 16,0a8,8 0 1 0 -16,0zM655.881,766.4a8,8 0 1 0 16,0a8,8 0 1 0 -16,0zM640.501,764a8,8 0 1 0 16,0a8,8 0 1 0 -16,0zM678.84,779.2a8,8 0 1 0 16,0a8,8 0 1 0 -16,0zM676.769,760.5a8,8 0 1 0 16,0a8,8 0 1 0 -16,0zM675.191,792.3a8,8 0 1 0 16,0a8,8 0 1 0 -16,0zM682.134,773.1a8,8 0 1 0 16,0a8,8 0 1 0 -16,0zM660.615,781.9a8,8 0 1 0 16,0a8,8 0 1 0 -16,0zM665.41,793.9a8,8 0 1 0 16,0a8,8 0 1 0 -16,0zM653.113,760.8a8,8 0 1 0 16,0a8,8 0 1 0 -16,0zM664.763,751.8a8,8 0 1 0 16,0a8,8 0 1 0 -16,0zM651.635,779.6a8,8 0 1 0 16,0a8,8 0 1 0 -16,0zM652.622,770.2a8,8 0 1 0 16,0a8,8 0 1 0 -16,0zM671.243,776.8a8,8 0 1 0 16,0a8,8 0 1 0 -16,0zM650.154,783.5a8,8 0 1 0 16,0a8,8 0 1 0 -16,0zM676.398,769.9a8,8 0 1 0 16,0a8,8 0 1 0 -16,0zM668.551,781.4a8,8 0 1 0 16,0a8,8 0 1 0 -16,0zM654.404,775.7a8,8 0 1 0 16,0a8,8 0 1 0 -16,0zM671.886,766.6a8,8 0 1 0 16,0a8,8 0 1 0 -16,0zM665.528,794.6a8,8 0 1 0 16,0a8,8 0 1 0 -16,0zM677.33,789.3a8,8 0 1 0 16,0a8,8 0 1 0 -16,0zM662.753,764.5a8,8 0 1 0 16,0a8,8 0 1 0 -16,0zM660.72,774.2a8,8 0 1 0 16,0a8,8 0 1 0 -16,0zM664.758,758.2a8,8 0 1 0 16,0a8,8 0 1 0 -16,0zM648.779,766a8,8 0 1 0 16,0a8,8 0 1 0 -16,0zM664.586,778.2a8,8 0 1 0 16,0a8,8 0 1 0 -16,0zM649.229,791.9a8,8 0 1 0 16,0a8,8 0 1 0 -16,0zM668.136,775.7a8,8 0 1 0 16,0a8,8 0 1 0 -16,0zM677.734,768.1a8,8 0 1 0 16,0a8,8 0 1 0 -16,0zM648.163,785.9a8,8 0 1 0 16,0a8,8 0 1 0 -16,0zM639.201,773.3a8,8 0 1 0 16,0a8,8 0 1 0 -16,0zM669.854,794.3a8,8 0 1 0 16,0a8,8 0 1 0 -16,0zM673.18,759.5a8,8 0 1 0 16,0a8,8 0 1 0 -16,0zM646.145,788a8,8 0 1 0 16,0a8,8 0 1 0 -16,0zM640.923,781.5a8,8 0 1 0 16,0a8,8 0 1 0 -16,0zM658.055,794.1a8,8 0 1 0 16,0a8,8 0 1 0 -16,0zM688,773a8,8 0 1 0 16,0a8,8 0 1 0 -16,0zM686.1,782.2a8,8 0 1 0 16,0a8,8 0 1 0 -16,0zM680.7,790a8,8 0 1 0 16,0a8,8 0 1 0 -16,0zM672.6,795.2a8,8 0 1 0 16,0a8,8 0 1 0 -16,0zM663,797a8,8 0 1 0 16,0a8,8 0 1 0 -16,0zM653.4,795.2a8,8 0 1 0 16,0a8,8 0 1 0 -16,0zM645.3,790a8,8 0 1 0 16,0a8,8 0 1 0 -16,0zM639.9,782.2a8,8 0 1 0 16,0a8,8 0 1 0 -16,0zM638,773a8,8 0 1 0 16,0a8,8 0 1 0 -16,0zM639.9,763.8a8,8 0 1 0 16,0a8,8 0 1 0 -16,0zM645.3,756a8,8 0 1 0 16,0a8,8 0 1 0 -16,0zM653.4,750.8a8,8 0 1 0 16,0a8,8 0 1 0 -16,0zM663,749a8,8 0 1 0 16,0a8,8 0 1 0 -16,0zM672.6,750.8a8,8 0 1 0 16,0a8,8 0 1 0 -16,0zM680.7,756a8,8 0 1 0 16,0a8,8 0 1 0 -16,0zM686.1,763.8a8,8 0 1 0 16,0a8,8 0 1 0 -16,0zM673.7,702a8,8 0 1 0 16,0a8,8 0 1 0 -16,0zM683.3,696.5a8,8 0 1 0 16,0a8,8 0 1 0 -16,0zM649,706.3a8,8 0 1 0 16,0a8,8 0 1 0 -16,0zM623.5,720.6a8,8 0 1 0 16,0a8,8 0 1 0 -16,0zM639.4,729.4a8,8 0 1 0 16,0a8,8 0 1 0 -16,0zM660.2,733.4a8,8 0 1 0 16,0a8,8 0 1 0 -16,0zM688.1,733.4a8,8 0 1 0 16,0a8,8 0 1 0 -16,0zM616.3,747a8,8 0 1 0 16,0a8,8 0 1 0 -16,0zM624.3,747a8,8 0 1 0 16,0a8,8 0 1 0 -16,0zM716,757.3a8,8 0 1 0 16,0a8,8 0 1 0 -16,0zM716.8,763.7a8,8 0 1 0 16,0a8,8 0 1 0 -16,0zM708,793.2a8,8 0 1 0 16,0a8,8 0 1 0 -16,0zM693.7,794a8,8 0 1 0 16,0a8,8 0 1 0 -16,0zM633,800.4a8,8 0 1 0 16,0a8,8 0 1 0 -16,0zM632,740a8,8 0 1 0 16,0a8,8 0 1 0 -16,0zM642,742a8,8 0 1 0 16,0a8,8 0 1 0 -16,0zM652,742a8,8 0 1 0 16,0a8,8 0 1 0 -16,0zM664,742a8,8 0 1 0 16,0a8,8 0 1 0 -16,0zM676,744a8,8 0 1 0 16,0a8,8 0 1 0 -16,0zM690,748a8,8 0 1 0 16,0a8,8 0 1 0 -16,0zM697,756a8,8 0 1 0 16,0a8,8 0 1 0 -16,0zM700,768a8,8 0 1 0 16,0a8,8 0 1 0 -16,0zM699,780a8,8 0 1 0 16,0a8,8 0 1 0 -16,0zM692,790a8,8 0 1 0 16,0a8,8 0 1 0 -16,0zM637,760a8,8 0 1 0 16,0a8,8 0 1 0 -16,0zM634,775a8,8 0 1 0 16,0a8,8 0 1 0 -16,0zM638,790a8,8 0 1 0 16,0a8,8 0 1 0 -16,0zM647,800a8,8 0 1 0 16,0a8,8 0 1 0 -16,0zM660,803a8,8 0 1 0 16,0a8,8 0 1 0 -16,0zM674,802a8,8 0 1 0 16,0a8,8 0 1 0 -16,0zM684,799a8,8 0 1 0 16,0a8,8 0 1 0 -16,0zM707,775a8,8 0 1 0 16,0a8,8 0 1 0 -16,0zM704,760a8,8 0 1 0 16,0a8,8 0 1 0 -16,0zM655,726a8,8 0 1 0 16,0a8,8 0 1 0 -16,0zM647,735a8,8 0 1 0 16,0a8,8 0 1 0 -16,0z"/>
<path class="mk" stroke="#f00" shape-rendering="crispEdges" d="M492,418.1h13.4v13.4h-13.4zM507.9,417.7h13.4v13.4h-13.4zM501.5,412.7h13.4v13.4h-13.4zM490.8,430.5h13.4v13.4h-13.4zM520.4,429.9h13.4v13.4h-13.4zM530.6,405.6h13.4v13.4h-13.4zM510.6,402.8h13.4v13.4h-13.4zM497.2,420.6h13.4v13.4h-13.4zM503.5,422.2h13.4v13.4h-13.4zM504.8,431.7h13.4v13.4h-13.4zM518.3,407.8h13.4v13.4h-13.4zM495.6,426.7h13.4v13.4h-13.4zM511.3,432.2h13.4v13.4h-13.4zM504.6,413.5h13.4v13.4h-13.4zM518,428.2h13.4v13.4h-13.4zM513.7,420.6h13.4v13.4h-13.4zM515.6,402.5h13.4v13.4h-13.4zM543.9,408.1h13.4v13.4h-13.4zM500.6,408.4h13.4v13.4h-13.4zM518.6,404.4h13.4v13.4h-13.4zM538.8,393.6h13.4v13.4h-13.4zM535,422.9h13.4v13.4h-13.4zM542.5,421.7h13.4v13.4h-13.4zM519.3,399.8h13.4v13.4h-13.4zM517.7,420.7h13.4v13.4h-13.4zM543.2,389.8h13.4v13.4h-13.4zM541.8,400.2h13.4v13.4h-13.4zM507.7,421.2h13.4v13.4h-13.4zM533.4,408.6h13.4v13.4h-13.4zM533.7,424.1h13.4v13.4h-13.4zM511.1,426.4h13.4v13.4h-13.4zM500.5,429.1h13.4v13.4h-13.4zM517.3,432.8h13.4v13.4h-13.4zM538.2,411.7h13.4v13.4h-13.4zM530.3,401.7h13.4v13.4h-13.4zM498.1,417.1h13.4v13.4h-13.4zM512.2,401h13.4v13.4h-13.4zM529.2,427.9h13.4v13.4h-13.4zM519.4,420.9h13.4v13.4h-13.4zM504,416h13.4v13.4h-13.4zM537.7,395.5h13.4v13.4h-13.4zM514.4,408.1h13.4v13.4h-13.4zM513.1,410.1h13.4v13.4h-13.4zM515.8,429h13.4v13.4h-13.4zM531.1,428.2h13.4v13.4h-13.4zM524,421h13.4v13.4h-13.4zM537.4,389.1h13.4v13.4h-13.4zM536.6,416.2h13.4v13.4h-13.4zM520.7,405.8h13.4v13.4h-13.4zM528.9,424.4h13.4v13.4h-13.4zM534,417h13.4v13.4h-13.4zM501.8,404.5h13.4v13.4h-13.4zM531.7,410.5h13.4v13.4h-13.4zM521.5,417h13.4v13.4h-13.4zM501.5,429.2h13.4v13.4h-13.4zM528.8,406.5h13.4v13.4h-13.4zM530.6,433.5h13.4v13.4h-13.4zM544.7,405.7h13.4v13.4h-13.4zM531.3,391.8h13.4v13.4h-13.4zM496.4,429.4h13.4v13.4h-13.4zM526.2,412.5h13.4v13.4h-13.4zM539.3,421.1h13.4v13.4h-13.4zM507.9,417.2h13.4v13.4h-13.4zM516.5,413.7h13.4v13.4h-13.4zM532.7,391.7h13.4v13.4h-13.4zM525.9,419.9h13.4v13.4h-13.4zM525.3,415h13.4v13.4h-13.4zM514.2,413.6h13.4v13.4h-13.4zM527.3,389.7h13.4v13.4h-13.4zM538.4,402.8h13.4v13.4h-13.4zM508.5,411.9h13.4v13.4h-13.4zM531.9,419.1h13.4v13.4h-13.4zM528.3,404.1h13.4v13.4h-13.4zM537.5,427.1h13.4v13.4h-13.4zM536.2,402.4h13.4v13.4h-13.4zM541.5,428.3h13.4v13.4h-13.4zM496.2,409.7h13.4v13.4h-13.4zM526.9,397.7h13.4v13.4h-13.4zM513.4,421.7h13.4v13.4h-13.4zM522.8,425.6h13.4v13.4h-13.4zM522,428.4h13.4v13.4h-13.4zM525.5,425.7h13.4v13.4h-13.4zM489.1,426.4h13.4v13.4h-13.4zM522.1,409.3h13.4v13.4h-13.4zM529.5,396.4h13.4v13.4h-13.4zM508.2,399.5h13.4v13.4h-13.4zM513.9,395.3h13.4v13.4h-13.4zM532.4,399.8h13.4v13.4h-13.4zM512.5,431.7h13.4v13.4h-13.4zM537.8,408.4h13.4v13.4h-13.4zM516.8,397.3h13.4v13.4h-13.4zM494.4,415.8h13.4v13.4h-13.4zM506.7,407.1h13.4v13.4h-13.4zM529,394.6h13.4v13.4h-13.4zM494.2,411.7h13.4v13.4h-13.4zM504.4,402.8h13.4v13.4h-13.4zM517.3,401.2h13.4v13.4h-13.4zM530,425.5h13.4v13.4h-13.4zM490.9,426.9h13.4v13.4h-13.4zM542.2,408.2h13.4v13.4h-13.4zM522.6,413.3h13.4v13.4h-13.4zM490.5,417.6h13.4v13.4h-13.4zM528.7,416.8h13.4v13.4h-13.4zM535.1,411.2h13.4v13.4h-13.4zM535.2,425.6h13.4v13.4h-13.4zM533.7,397.8h13.4v13.4h-13.4zM501.5,424.8h13.4v13.4h-13.4zM505,418.1h13.4v13.4h-13.4zM514.4,409.8h13.4v13.4h-13.4zM501.6,408h13.4v13.4h-13.4zM501,420.1h13.4v13.4h-13.4zM536.8,428.9h13.4v13.4h-13.4zM534.8,419.1h13.4v13.4h-13.4zM504.7,426.9h13.4v13.4h-13.4zM531.9,393.5h13.4v13.4h-13.4zM525.8,392.9h13.4v13.4h-13.4zM509.9,417.1h13.4v13.4h-13.4zM497.8,419.8h13.4v13.4h-13.4zM537.7,397.8h13.4v13.4h-13.4zM518.6,392.2h13.4v13.4h-13.4zM539.2,403.3h13.4v13.4h-13.4zM520.6,398.9h13.4v13.4h-13.4zM505.2,431.7h13.4v13.4h-13.4zM524.6,400.5h13.4v13.4h-13.4zM540.7,417.3h13.4v13.4h-13.4zM542,397.6h13.4v13.4h-13.4zM512.5,427.3h13.4v13.4h-13.4zM502.1,433h13.4v13.4h-13.4zM512.9,395h13.4v13.4h-13.4zM523.8,420.7h13.4v13.4h-13.4zM543.5,411.9h13.4v13.4h-13.4zM494.3,421.7h13.4v13.4h-13.4zM521.9,423.2h13.4v13.4h-13.4zM490.2,423.9h13.4v13.4h-13.4zM534.5,382.4h13.4v13.4h-13.4zM508.4,389.5h13.4v13.4h-13.4zM501.3,395.5h13.4v13.4h-13.4zM498.3,402.5h13.4v13.4h-13.4zM488.3,409.6h13.4v13.4h-13.4zM481.4,425.4h13.4v13.4h-13.4zM468.4,441.5h13.4v13.4h-13.4zM494.8,438.1h13.4v13.4h-13.4zM524.4,438.1h13.4v13.4h-13.4zM530.9,441.1h13.4v13.4h-13.4zM553.4,438.3h13.4v13.4h-13.4zM547.3,419.3h13.4v13.4h-13.4zM541.3,384.3h13.4v13.4h-13.4zM547.3,391.3h13.4v13.4h-13.4zM513.3,436.3h13.4v13.4h-13.4zM539.3,437.3h13.4v13.4h-13.4z"/>
<path class="mk" stroke="#0f0" shape-rendering="crispEdges" d="M843.2,627h19.6l-9.8,17zM853.1,634.8h19.6l-9.8,17zM865.2,638.6h19.6l-9.8,17zM880.4,645.4h19.6l-9.8,17zM880.4,613.6h19.6l-9.8,17zM894.1,620.5h19.6l-9.8,17zM870.2,626.3h19.6l-9.8,17zM875.2,634.3h19.6l-9.8,17zM885.2,629.3h19.6l-9.8,17zM860.2,629.3h19.6l-9.8,17zM888.2,624.3h19.6l-9.8,17z"/>
<path class="mk" stroke="#00f" shape-rendering="crispEdges" d="M1224.8,573h24M1236.8,561v24M1228.3,564.5l17,17M1228.3,581.5l17,-17M1323,570.4h24M1335,558.4v24M1326.6,561.9l17,17M1326.6,578.9l17,-17M1368.2,518.1h24M1380.2,506.1v24M1371.7,509.6l17,17M1371.7,526.6l17,-17M1217.7,587.4h24M1229.7,575.4v24M1221.2,578.9l17,17M1221.2,595.9l17,-17M1230.1,507.2h24M1242.1,495.2v24M1233.6,498.7l17,17M1233.6,515.7l17,-17M1344,539.9h24M1356,527.9v24M1347.6,531.4l17,17M1347.6,548.4l17,-17M1365.6,503.8h24M1377.6,491.8v24M1369.1,495.3l17,17M1369.1,512.3l17,-17M1359.4,503.5h24M1371.4,491.5v24M1362.9,495l17,17M1362.9,512l17,-17M1343.2,549h24M1355.2,537v24M1346.8,540.5l17,17M1346.8,557.5l17,-17M1287.3,516.6h24M1299.3,504.6v24M1290.9,508.1l17,17M1290.9,525.1l17,-17M1343.1,543.6h24M1355.1,531.6v24M1346.6,535.1l17,17M1346.6,552l17,-17M1292.4,538.9h24M1304.4,526.9v24M1295.9,530.4l17,17M1295.9,547.4l17,-17M1274.9,501.6h24M1286.9,489.6v24M1278.4,493.2l17,17M1278.4,510.1l17,-17M1207.3,571.8h24M1219.3,559.8v24M1210.8,563.3l17,17M1210.8,580.3l17,-17M1249,572.6h24M1261,560.6v24M1252.5,564.1l17,17M1252.5,581l17,-17M1268.4,524.9h24M1280.4,512.9v24M1271.9,516.4l17,17M1271.9,533.4l17,-17M1255.3,512.7h24M1267.3,500.7v24M1258.8,504.2l17,17M1258.8,521.1l17,-17M1377.1,535.8h24M1389.1,523.8v24M1380.6,527.4l17,17M1380.6,544.3l17,-17M1356.5,534.5h24M1368.5,522.5v24M1360,526l17,17M1360,542.9l17,-17M1212.7,557h24M1224.7,545v24M1216.2,548.5l17,17M1216.2,565.5l17,-17M1336.1,504.4h24M1348.1,492.4v24M1339.6,495.9l17,17M1339.6,512.9l17,-17M1275.5,550.4h24M1287.5,538.4v24M1279.1,541.9l17,17M1279.1,558.8l17,-17M1271.4,523.9h24M1283.4,511.9v24M1274.9,515.4l17,17M1274.9,532.4l17,-17M1222.6,535.3h24M1234.6,523.3v24M1226.1,526.9l17,17M1226.1,543.8l17,-17M1292.4,528.2h24M1304.4,516.2v24M1295.9,519.7l17,17M1295.9,536.7l17,-17M1313.4,525.5h24M1325.4,513.5v24M1317,517l17,17M1317,534l17,-17M1346.5,565.4h24M1358.5,553.4v24M1350,556.9l17,17M1350,573.8l17,-17M1277.7,529.2h24M1289.7,517.2v24M1281.2,520.7l17,17M1281.2,537.7l17,-17M1311.4,577.1h24M1323.4,565.1v24M1314.9,568.6l17,17M1314.9,585.6l17,-17M1368.3,506.9h24M1380.3,494.9v24M1371.8,498.4l17,17M1371.8,515.4l17,-17M1319.3,559.4h24M1331.3,547.4v24M1322.8,550.9l17,17M1322.8,567.8l17,-17M1254.1,582.8h24M1266.1,570.8v24M1257.6,574.4l17,17M1257.6,591.3l17,-17M1307.3,547.1h24M1319.3,535.1v24M1310.9,538.6l17,17M1310.9,555.6l17,-17M1369.6,545.5h24M1381.6,533.5v24M1373.1,537l17,17M1373.1,554l17,-17M1310.3,535.1h24M1322.3,523.1v24M1313.8,526.6l17,17M1313.8,543.6l17,-17M1262.3,565.6h24M1274.3,553.6v24M1265.8,557.1l17,17M1265.8,574.1l17,-17M1218.6,511.9h24M1230.6,499.9v24M1222.1,503.5l17,17M1222.1,520.4l17,-17M1214.4,555.4h24M1226.4,543.4v24M1217.9,546.9l17,17M1217.9,563.9l17,-17M1352.3,545.4h24M1364.3,533.4v24M1355.8,536.9l17,17M1355.8,553.8l17,-17M1349.4,529.5h24M1361.4,517.5v24M1352.9,521.1l17,17M1352.9,538l17,-17M1351.3,498.4h24M1363.3,486.4v24M1354.8,490l17,17M1354.8,506.9l17,-17M1360.2,526.7h24M1372.2,514.7v24M1363.7,518.2l17,17M1363.7,535.2l17,-17M1283.2,563.6h24M1295.2,551.6v24M1286.7,555.1l17,17M1286.7,572l17,-17M1260,556.5h24M1272,544.5v24M1263.5,548l17,17M1263.5,565l17,-17M1343.2,515h24M1355.2,503v24M1346.7,506.5l17,17M1346.7,523.4l17,-17M1310.6,560.1h24M1322.6,548.1v24M1314.1,551.6l17,17M1314.1,568.6l17,-17M1338.8,515.1h24M1350.8,503.1v24M1342.3,506.6l17,17M1342.3,523.5l17,-17M1221.1,567.1h24M1233.1,555.1v24M1224.6,558.6l17,17M1224.6,575.6l17,-17M1329,491.6h24M1341,479.6v24M1332.5,483.1l17,17M1332.5,500.1l17,-17M1285,542.6h24M1297,530.6v24M1288.5,534.1l17,17M1288.5,551.1l17,-17M1328.2,567.4h24M1340.2,555.4v24M1331.7,558.9l17,17M1331.7,575.9l17,-17M1217.3,578.5h24M1229.3,566.5v24M1220.8,570l17,17M1220.8,587l17,-17M1260.5,516.7h24M1272.5,504.7v24M1264.1,508.2l17,17M1264.1,525.2l17,-17M1287.1,573h24M1299.1,561v24M1290.6,564.5l17,17M1290.6,581.5l17,-17M1270.1,544h24M1282.1,532v24M1273.7,535.5l17,17M1273.7,552.5l17,-17M1345.3,558.6h24M1357.3,546.6v24M1348.8,550.1l17,17M1348.8,567l17,-17M1337.4,562.8h24M1349.4,550.8v24M1340.9,554.3l17,17M1340.9,571.3l17,-17M1298.9,563.7h24M1310.9,551.7v24M1302.4,555.2l17,17M1302.4,572.1l17,-17M1342.3,554.1h24M1354.3,542.1v24M1345.8,545.6l17,17M1345.8,562.6l17,-17M1329.1,548.4h24M1341.1,536.4v24M1332.6,539.9l17,17M1332.6,556.9l17,-17M1248.9,532.5h24M1260.9,520.5v24M1252.5,524l17,17M1252.5,541l17,-17M1301.9,518.5h24M1313.9,506.5v24M1305.4,510.1l17,17M1305.4,527l17,-17M1261.3,583.8h24M1273.3,571.8v24M1264.8,575.3l17,17M1264.8,592.2l17,-17M1286.1,520.6h24M1298.1,508.6v24M1289.7,512.1l17,17M1289.7,529.1l17,-17M1266.2,537.9h24M1278.2,525.9v24M1269.7,529.4l17,17M1269.7,546.4l17,-17M1280.9,509h24M1292.9,497v24M1284.4,500.5l17,17M1284.4,517.5l17,-17M1374.1,522.1h24M1386.1,510.1v24M1377.6,513.6l17,17M1377.6,530.6l17,-17M1342.6,494.9h24M1354.6,482.9v24M1346.1,486.4l17,17M1346.1,503.4l17,-17M1276,529.8h24M1288,517.8v24M1279.5,521.3l17,17M1279.5,538.3l17,-17M1242.6,566.6h24M1254.6,554.6v24M1246.1,558.1l17,17M1246.1,575.1l17,-17M1371.2,519.2h24M1383.2,507.2v24M1374.7,510.7l17,17M1374.7,527.7l17,-17M1313,517.5h24M1325,505.5v24M1316.5,509l17,17M1316.5,526l17,-17M1282.2,514.5h24M1294.2,502.5v24M1285.7,506l17,17M1285.7,523l17,-17M1360.5,554.4h24M1372.5,542.4v24M1364,545.9l17,17M1364,562.9l17,-17M1269.7,551.8h24M1281.7,539.8v24M1273.2,543.4l17,17M1273.2,560.3l17,-17M1367.9,530.5h24M1379.9,518.5v24M1371.4,522.1l17,17M1371.4,539l17,-17M1240.2,525h24M1252.2,513v24M1243.7,516.6l17,17M1243.7,533.5l17,-17M1312.2,503h24M1324.2,491v24M1315.8,494.5l17,17M1315.8,511.5l17,-17M1231.3,517.2h24M1243.3,505.2v24M1234.8,508.7l17,17M1234.8,525.7l17,-17M1229.9,540.4h24M1241.9,528.4v24M1233.4,531.9l17,17M1233.4,548.9l17,-17M1380.6,529.5h24M1392.6,517.5v24M1384.1,521l17,17M1384.1,537.9l17,-17M1221.7,583.7h24M1233.7,571.7v24M1225.2,575.3l17,17M1225.2,592.2l17,-17M1238.6,507.5h24M1250.6,495.5v24M1242.1,499l17,17M1242.1,516l17,-17M1267.7,508.5h24M1279.7,496.5v24M1271.2,500l17,17M1271.2,517l17,-17M1349.9,519.5h24M1361.9,507.5v24M1353.4,511l17,17M1353.4,528l17,-17M1311.4,547.7h24M1323.4,535.7v24M1314.9,539.2l17,17M1314.9,556.2l17,-17M1257,551.3h24M1269,539.3v24M1260.5,542.8l17,17M1260.5,559.7l17,-17M1314.1,544.8h24M1326.1,532.8v24M1317.6,536.3l17,17M1317.6,553.3l17,-17M1356.7,529.8h24M1368.7,517.8v24M1360.2,521.3l17,17M1360.2,538.3l17,-17M1219.6,581.3h24M1231.6,569.3v24M1223.1,572.8l17,17M1223.1,589.8l17,-17M1285,532.7h24M1297,520.7v24M1288.6,524.2l17,17M1288.6,541.2l17,-17M1254.1,557.4h24M1266.1,545.4v24M1257.7,548.9l17,17M1257.7,565.9l17,-17M1300.8,502.1h24M1312.8,490.1v24M1304.3,493.6l17,17M1304.3,510.6l17,-17M1264.8,549.6h24M1276.8,537.6v24M1268.3,541.1l17,17M1268.3,558.1l17,-17M1237.2,518.3h24M1249.2,506.3v24M1240.7,509.8l17,17M1240.7,526.8l17,-17M1275.9,505.2h24M1287.9,493.2v24M1279.4,496.7l17,17M1279.4,513.7l17,-17M1345.8,563.9h24M1357.8,551.9v24M1349.4,555.4l17,17M1349.4,572.4l17,-17M1378.1,531.9h24M1390.1,519.9v24M1381.6,523.5l17,17M1381.6,540.4l17,-17M1331.4,521.3h24M1343.4,509.3v24M1335,512.9l17,17M1335,529.8l17,-17M1325.9,543.6h24M1337.9,531.6v24M1329.4,535.1l17,17M1329.4,552.1l17,-17M1210.5,502.9h24M1222.5,490.9v24M1214,494.4l17,17M1214,511.4l17,-17M1327.9,510.5h24M1339.9,498.5v24M1331.4,502l17,17M1331.4,519l17,-17M1340,563.9h24M1352,551.9v24M1343.5,555.4l17,17M1343.5,572.4l17,-17M1321.5,504.7h24M1333.5,492.7v24M1325,496.2l17,17M1325,513.1l17,-17M1319.3,553.4h24M1331.3,541.4v24M1322.8,544.9l17,17M1322.8,561.9l17,-17M1307.9,551.8h24M1319.9,539.8v24M1311.4,543.3l17,17M1311.4,560.3l17,-17M1288.1,536.3h24M1300.1,524.3v24M1291.6,527.9l17,17M1291.6,544.8l17,-17M1327.6,499.8h24M1339.6,487.8v24M1331.1,491.3l17,17M1331.1,508.3l17,-17M1329.9,496.5h24M1341.9,484.5v24M1333.5,488.1l17,17M1333.5,505l17,-17M1294.6,518.5h24M1306.6,506.5v24M1298.1,510l17,17M1298.1,527l17,-17M1332.3,555.4h24M1344.3,543.4v24M1335.8,546.9l17,17M1335.8,563.9l17,-17M1243.7,555.6h24M1255.7,543.6v24M1247.2,547.1l17,17M1247.2,564.1l17,-17M1218.4,555.5h24M1230.4,543.5v24M1222,547.1l17,17M1222,564l17,-17M1244.5,548.4h24M1256.5,536.4v24M1248,539.9l17,17M1248,556.8l17,-17M1314,516.4h24M1326,504.4v24M1317.5,508l17,17M1317.5,524.9l17,-17M1267.4,547.4h24M1279.4,535.4v24M1270.9,538.9l17,17M1270.9,555.9l17,-17M1317.2,518.3h24M1329.2,506.3v24M1320.7,509.8l17,17M1320.7,526.8l17,-17M1297.2,525.5h24M1309.2,513.5v24M1300.7,517l17,17M1300.7,534l17,-17M1349.3,522.5h24M1361.3,510.5v24M1352.8,514l17,17M1352.8,531l17,-17M1275.2,564.5h24M1287.2,552.5v24M1278.7,556l17,17M1278.7,573l17,-17M1274,515.2h24M1286,503.2v24M1277.6,506.7l17,17M1277.6,523.7l17,-17M1339.5,490.5h24M1351.5,478.5v24M1343,482l17,17M1343,499l17,-17M1214.4,550.4h24M1226.4,538.4v24M1217.9,541.9l17,17M1217.9,558.9l17,-17M1210.2,582.1h24M1222.2,570.1v24M1213.7,573.6l17,17M1213.7,590.6l17,-17M1334.6,547.9h24M1346.6,535.9v24M1338.1,539.5l17,17M1338.1,556.4l17,-17M1263.8,514.6h24M1275.8,502.6v24M1267.3,506.2l17,17M1267.3,523.1l17,-17M1370.1,547.8h24M1382.1,535.8v24M1373.6,539.3l17,17M1373.6,556.3l17,-17M1252.3,501.2h24M1264.3,489.2v24M1255.8,492.8l17,17M1255.8,509.7l17,-17M1329.5,501.1h24M1341.5,489.1v24M1333,492.6l17,17M1333,509.6l17,-17M1236.1,564.2h24M1248.1,552.2v24M1239.6,555.7l17,17M1239.6,572.7l17,-17M1282.2,553h24M1294.2,541v24M1285.7,544.5l17,17M1285.7,561.5l17,-17M1254.5,562h24M1266.5,550v24M1258,553.5l17,17M1258,570.4l17,-17M1268.6,579h24M1280.6,567v24M1272.1,570.6l17,17M1272.1,587.5l17,-17M1318,536.5h24M1330,524.5v24M1321.5,528l17,17M1321.5,545l17,-17M1232.9,580.7h24M1244.9,568.7v24M1236.4,572.2l17,17M1236.4,589.2l17,-17M1235.6,572.3h24M1247.6,560.3v24M1239.1,563.8l17,17M1239.1,580.8l17,-17M1280.5,549.9h24M1292.5,537.9v24M1284,541.4l17,17M1284,558.4l17,-17M1337,533.5h24M1349,521.5v24M1340.5,525l17,17M1340.5,542l17,-17M1250.1,542.4h24M1262.1,530.4v24M1253.6,533.9l17,17M1253.6,550.8l17,-17M1364.1,551.7h24M1376.1,539.7v24M1367.6,543.2l17,17M1367.6,560.2l17,-17M1340.6,527.2h24M1352.6,515.2v24M1344.1,518.7l17,17M1344.1,535.7l17,-17M1373.8,551.3h24M1385.8,539.3v24M1377.3,542.8l17,17M1377.3,559.8l17,-17M1299.7,538.6h24M1311.7,526.6v24M1303.2,530.1l17,17M1303.2,547.1l17,-17M1293.6,511.9h24M1305.6,499.9v24M1297.1,503.4l17,17M1297.1,520.4l17,-17M1251.4,576.9h24M1263.4,564.9v24M1254.9,568.4l17,17M1254.9,585.3l17,-17M1220.8,503.7h24M1232.8,491.7v24M1224.3,495.2l17,17M1224.3,512.2l17,-17M1282.1,519h24M1294.1,507v24M1285.6,510.5l17,17M1285.6,527.5l17,-17M1211.9,544h24M1223.9,532v24M1215.4,535.5l17,17M1215.4,552.4l17,-17M1263.1,500.7h24M1275.1,488.7v24M1266.6,492.2l17,17M1266.6,509.1l17,-17M1304.8,524.7h24M1316.8,512.7v24M1308.3,516.2l17,17M1308.3,533.2l17,-17M1297.7,498.2h24M1309.7,486.2v24M1301.2,489.7l17,17M1301.2,506.7l17,-17M1353,561.2h24M1365,549.2v24M1356.5,552.7l17,17M1356.5,569.7l17,-17M1223.3,540.4h24M1235.3,528.4v24M1226.8,531.9l17,17M1226.8,548.9l17,-17M1222.1,525.3h24M1234.1,513.3v24M1225.6,516.8l17,17M1225.6,533.7l17,-17M1211.6,517.5h24M1223.6,505.5v24M1215.1,509l17,17M1215.1,526l17,-17M1218.6,532.7h24M1230.6,520.7v24M1222.2,524.2l17,17M1222.2,541.2l17,-17M1254.2,502.7h24M1266.2,490.7v24M1257.7,494.2l17,17M1257.7,511.2l17,-17M1314.2,564.1h24M1326.2,552.1v24M1317.7,555.6l17,17M1317.7,572.6l17,-17M1246.8,508.2h24M1258.8,496.2v24M1250.4,499.7l17,17M1250.4,516.7l17,-17M1237.3,556.9h24M1249.3,544.9v24M1240.8,548.4l17,17M1240.8,565.3l17,-17M1222.6,508.2h24M1234.6,496.2v24M1226.1,499.7l17,17M1226.1,516.6l17,-17M1279.6,563.9h24M1291.6,551.9v24M1283.1,555.4l17,17M1283.1,572.4l17,-17M1353.6,551.9h24M1365.6,539.9v24M1357.1,543.4l17,17M1357.1,560.4l17,-17M1311.8,498h24M1323.8,486v24M1315.3,489.5l17,17M1315.3,506.5l17,-17M1282.3,499.3h24M1294.3,487.3v24M1285.8,490.9l17,17M1285.8,507.8l17,-17M1228.3,530.9h24M1240.3,518.9v24M1231.9,522.4l17,17M1231.9,539.4l17,-17M1227.4,575.7h24M1239.4,563.7v24M1230.9,567.2l17,17M1230.9,584.2l17,-17M1244.1,586.4h24M1256.1,574.4v24M1247.6,577.9l17,17M1247.6,594.9l17,-17M1207.9,572.7h24M1219.9,560.7v24M1211.4,564.2l17,17M1211.4,581.2l17,-17M1276.3,575.4h24M1288.3,563.4v24M1279.8,566.9l17,17M1279.8,583.9l17,-17M1325.3,539.5h24M1337.3,527.5v24M1328.8,531l17,17M1328.8,548l17,-17M1289.2,519.3h24M1301.2,507.3v24M1292.7,510.9l17,17M1292.7,527.8l17,-17M1263.2,537.1h24M1275.2,525.1v24M1266.7,528.6l17,17M1266.7,545.6l17,-17M1337.8,525h24M1349.8,513v24M1341.3,516.5l17,17M1341.3,533.5l17,-17M1239,549.9h24M1251,537.9v24M1242.5,541.4l17,17M1242.5,558.4l17,-17M1323.7,547.2h24M1335.7,535.2v24M1327.2,538.7l17,17M1327.2,555.7l17,-17M1310.6,530.1h24M1322.6,518.1v24M1314.1,521.6l17,17M1314.1,538.6l17,-17M1225.6,526.7h24M1237.6,514.7v24M1229.1,518.3l17,17M1229.1,535.2l17,-17M1280.3,556.1h24M1292.3,544.1v24M1283.8,547.7l17,17M1283.8,564.6l17,-17M1284.8,501.5h24M1296.8,489.5v24M1288.3,493l17,17M1288.3,510l17,-17M1313.1,569.9h24M1325.1,557.9v24M1316.6,561.4l17,17M1316.6,578.4l17,-17M1261.4,504.6h24M1273.4,492.6v24M1264.9,496.1l17,17M1264.9,513.1l17,-17M1277.8,517.5h24M1289.8,505.5v24M1281.3,509l17,17M1281.3,526l17,-17M1328.8,559.9h24M1340.8,547.9v24M1332.3,551.4l17,17M1332.3,568.4l17,-17M1225.6,518.1h24M1237.6,506.1v24M1229.1,509.6l17,17M1229.1,526.6l17,-17M1263,555.2h24M1275,543.2v24M1266.5,546.7l17,17M1266.5,563.7l17,-17M1261.8,526.8h24M1273.8,514.8v24M1265.3,518.3l17,17M1265.3,535.2l17,-17M1213.2,504.1h24M1225.2,492.1v24M1216.7,495.6l17,17M1216.7,512.6l17,-17M1225.5,501.7h24M1237.5,489.7v24M1229,493.2l17,17M1229,510.2l17,-17M1237,577.4h24M1249,565.4v24M1240.5,568.9l17,17M1240.5,585.9l17,-17M1267.6,531h24M1279.6,519v24M1271.1,522.5l17,17M1271.1,539.5l17,-17M1251.1,517.1h24M1263.1,505.1v24M1254.6,508.6l17,17M1254.6,525.6l17,-17M1209.1,587.4h24M1221.1,575.4v24M1212.6,579l17,17M1212.6,595.9l17,-17M1341.5,497.6h24M1353.5,485.6v24M1345,489.1l17,17M1345,506.1l17,-17M1218.3,520.8h24M1230.3,508.8v24M1221.8,512.3l17,17M1221.8,529.3l17,-17M1283,569h24M1295,557v24M1286.5,560.5l17,17M1286.5,577.5l17,-17M1225.2,569.7h24M1237.2,557.7v24M1228.7,561.2l17,17M1228.7,578.1l17,-17M1297.6,531.7h24M1309.6,519.7v24M1301.1,523.2l17,17M1301.1,540.2l17,-17M1211.4,582h24M1223.4,570v24M1214.9,573.5l17,17M1214.9,590.5l17,-17M1373.5,548.3h24M1385.5,536.3v24M1377,539.9l17,17M1377,556.8l17,-17M1229.1,521.6h24M1241.1,509.6v24M1232.6,513.1l17,17M1232.6,530.1l17,-17M1298,548.5h24M1310,536.5v24M1301.5,540l17,17M1301.5,557l17,-17M1378.4,526h24M1390.4,514v24M1381.9,517.5l17,17M1381.9,534.5l17,-17M1233.8,526.2h24M1245.8,514.2v24M1237.3,517.7l17,17M1237.3,534.7l17,-17M1353.4,503.5h24M1365.4,491.5v24M1356.9,495l17,17M1356.9,512l17,-17M1346,532.8h24M1358,520.8v24M1349.5,524.4l17,17M1349.5,541.3l17,-17M1224.3,565.1h24M1236.3,553.1v24M1227.8,556.6l17,17M1227.8,573.6l17,-17M1314.5,527.8h24M1326.5,515.8v24M1318,519.3l17,17M1318,536.3l17,-17M1258.2,544h24M1270.2,532v24M1261.7,535.5l17,17M1261.7,552.5l17,-17M1321.4,567.4h24M1333.4,555.4v24M1324.9,558.9l17,17M1324.9,575.9l17,-17M1351.6,503.1h24M1363.6,491.1v24M1355.2,494.6l17,17M1355.2,511.6l17,-17M1238.6,502h24M1250.6,490v24M1242.1,493.5l17,17M1242.1,510.5l17,-17M1313.5,492.6h24M1325.5,480.6v24M1317,484.2l17,17M1317,501.1l17,-17M1339.1,541.1h24M1351.1,529.1v24M1342.6,532.6l17,17M1342.6,549.6l17,-17M1234.6,520.6h24M1246.6,508.6v24M1238.1,512.2l17,17M1238.1,529.1l17,-17M1295.9,564.5h24M1307.9,552.5v24M1299.4,556l17,17M1299.4,573l17,-17M1305.5,493.4h24M1317.5,481.4v24M1309,484.9l17,17M1309,501.9l17,-17M1205.1,582.4h24M1217.1,570.4v24M1208.6,573.9l17,17M1208.6,590.9l17,-17M1246.2,525.3h24M1258.2,513.3v24M1249.7,516.8l17,17M1249.7,533.8l17,-17M1252.3,536.3h24M1264.3,524.3v24M1255.9,527.8l17,17M1255.9,544.8l17,-17M1357.3,561.8h24M1369.3,549.8v24M1360.8,553.3l17,17M1360.8,570.2l17,-17M1240.2,518.2h24M1252.2,506.2v24M1243.8,509.7l17,17M1243.8,526.7l17,-17M1239.4,584.7h24M1251.4,572.7v24M1242.9,576.2l17,17M1242.9,593.2l17,-17M1331.1,527.7h24M1343.1,515.7v24M1334.6,519.2l17,17M1334.6,536.2l17,-17M1256.5,534.1h24M1268.5,522.1v24M1260,525.6l17,17M1260,542.5l17,-17M1246.9,537.9h24M1258.9,525.9v24M1250.4,529.4l17,17M1250.4,546.4l17,-17M1307.1,527.2h24M1319.1,515.2v24M1310.6,518.8l17,17M1310.6,535.7l17,-17M1246.8,564.2h24M1258.8,552.2v24M1250.3,555.7l17,17M1250.3,572.7l17,-17M1220.1,540.7h24M1232.1,528.7v24M1223.7,532.2l17,17M1223.7,549.2l17,-17M1267.7,527.1h24M1279.7,515.1v24M1271.2,518.6l17,17M1271.2,535.5l17,-17M1272.5,527.9h24M1284.5,515.9v24M1276,519.4l17,17M1276,536.4l17,-17M1230.4,554h24M1242.4,542v24M1234,545.5l17,17M1234,562.5l17,-17M1226,547.3h24M1238,535.3v24M1229.5,538.8l17,17M1229.5,555.8l17,-17M1310.1,498h24M1322.1,486v24M1313.6,489.5l17,17M1313.6,506.5l17,-17M1335.1,507.9h24M1347.1,495.9v24M1338.6,499.5l17,17M1338.6,516.4l17,-17M1304.2,558h24M1316.2,546v24M1307.7,549.5l17,17M1307.7,566.5l17,-17M1252.7,505.6h24M1264.7,493.6v24M1256.2,497.1l17,17M1256.2,514.1l17,-17M1344.7,535.4h24M1356.7,523.4v24M1348.2,526.9l17,17M1348.2,543.9l17,-17M1216.1,525.9h24M1228.1,513.9v24M1219.6,517.4l17,17M1219.6,534.4l17,-17M1277.9,521.6h24M1289.9,509.6v24M1281.4,513.1l17,17M1281.4,530.1l17,-17M1210.6,577.5h24M1222.6,565.5v24M1214.1,569l17,17M1214.1,586l17,-17M1233.6,544.3h24M1245.6,532.3v24M1237.1,535.8l17,17M1237.1,552.8l17,-17M1359.3,547h24M1371.3,535v24M1362.8,538.5l17,17M1362.8,555.5l17,-17M1315.2,555.1h24M1327.2,543.1v24M1318.8,546.6l17,17M1318.8,563.6l17,-17M1241.4,543.3h24M1253.4,531.3v24M1244.9,534.8l17,17M1244.9,551.7l17,-17M1369.5,523.1h24M1381.5,511.1v24M1373,514.7l17,17M1373,531.6l17,-17M1226.6,548.7h24M1238.6,536.7v24M1230.2,540.2l17,17M1230.2,557.2l17,-17M1295.8,564.5h24M1307.8,552.5v24M1299.3,556l17,17M1299.3,573l17,-17M1228.8,502.6h24M1240.8,490.6v24M1232.3,494.1l17,17M1232.3,511.1l17,-17M1260.5,532.7h24M1272.5,520.7v24M1264,524.3l17,17M1264,541.2l17,-17M1368.2,512.3h24M1380.2,500.3v24M1371.7,503.8l17,17M1371.7,520.8l17,-17M1316.7,576.9h24M1328.7,564.9v24M1320.3,568.5l17,17M1320.3,585.4l17,-17M1346.8,554h24M1358.8,542v24M1350.3,545.5l17,17M1350.3,562.5l17,-17M1332.9,556.9h24M1344.9,544.9v24M1336.4,548.4l17,17M1336.4,565.3l17,-17M1246.9,559.8h24M1258.9,547.8v24M1250.4,551.3l17,17M1250.4,568.3l17,-17M1248.4,577.3h24M1260.4,565.3v24M1251.9,568.8l17,17M1251.9,585.8l17,-17M1298.4,559.4h24M1310.4,547.4v24M1301.9,550.9l17,17M1301.9,567.9l17,-17M1258.6,542.5h24M1270.6,530.5v24M1262.1,534l17,17M1262.1,551l17,-17M1315.7,506.6h24M1327.7,494.6v24M1319.2,498.1l17,17M1319.2,515l17,-17M1265.4,534.2h24M1277.4,522.2v24M1268.9,525.7l17,17M1268.9,542.7l17,-17M1211.8,533h24M1223.8,521v24M1215.4,524.5l17,17M1215.4,541.5l17,-17M1359.9,539.8h24M1371.9,527.8v24M1363.4,531.4l17,17M1363.4,548.3l17,-17M1284.3,509.1h24M1296.3,497.1v24M1287.8,500.6l17,17M1287.8,517.5l17,-17M1317.7,564.2h24M1329.7,552.2v24M1321.3,555.7l17,17M1321.3,572.7l17,-17M1265.1,575.3h24M1277.1,563.3v24M1268.6,566.8l17,17M1268.6,583.8l17,-17M1314.4,511.9h24M1326.4,499.9v24M1317.9,503.4l17,17M1317.9,520.4l17,-17M1261.1,576.1h24M1273.1,564.1v24M1264.6,567.6l17,17M1264.6,584.6l17,-17M1278.7,576.9h24M1290.7,564.9v24M1282.2,568.4l17,17M1282.2,585.4l17,-17M1355.7,503.3h24M1367.7,491.3v24M1359.2,494.8l17,17M1359.2,511.8l17,-17M1284.7,572.5h24M1296.7,560.5v24M1288.2,564l17,17M1288.2,581l17,-17M1280.8,527.2h24M1292.8,515.2v24M1284.4,518.7l17,17M1284.4,535.6l17,-17M1245.2,528.1h24M1257.2,516.1v24M1248.7,519.6l17,17M1248.7,536.6l17,-17M1372.1,534.7h24M1384.1,522.7v24M1375.6,526.3l17,17M1375.6,543.2l17,-17M1374.6,520.5h24M1386.6,508.5v24M1378.2,512l17,17M1378.2,529l17,-17M1223.8,561.9h24M1235.8,549.9v24M1227.3,553.4l17,17M1227.3,570.4l17,-17M1245.7,506.9h24M1257.7,494.9v24M1249.3,498.4l17,17M1249.3,515.4l17,-17M1292.6,501.8h24M1304.6,489.8v24M1296.1,493.3l17,17M1296.1,510.3l17,-17M1328.7,520h24M1340.7,508v24M1332.2,511.5l17,17M1332.2,528.5l17,-17M1347,533.9h24M1359,521.9v24M1350.6,525.4l17,17M1350.6,542.4l17,-17M1228.4,555.5h24M1240.4,543.5v24M1231.9,547l17,17M1231.9,564l17,-17M1269.8,503.7h24M1281.8,491.7v24M1273.3,495.2l17,17M1273.3,512.2l17,-17M1340.3,533.7h24M1352.3,521.7v24M1343.8,525.3l17,17M1343.8,542.2l17,-17M1254.3,524h24M1266.3,512v24M1257.8,515.5l17,17M1257.8,532.5l17,-17M1333.3,536.1h24M1345.3,524.1v24M1336.8,527.6l17,17M1336.8,544.6l17,-17M1296.2,512.7h24M1308.2,500.7v24M1299.7,504.2l17,17M1299.7,521.2l17,-17M1337.9,493.5h24M1349.9,481.5v24M1341.4,485l17,17M1341.4,502l17,-17M1292.9,550.5h24M1304.9,538.5v24M1296.4,542l17,17M1296.4,559l17,-17M1247.6,555.3h24M1259.6,543.3v24M1251.1,546.8l17,17M1251.1,563.8l17,-17M1366.2,529.4h24M1378.2,517.4v24M1369.7,520.9l17,17M1369.7,537.9l17,-17M1260.3,515.6h24M1272.3,503.6v24M1263.8,507.1l17,17M1263.8,524.1l17,-17M1309.6,504.5h24M1321.6,492.5v24M1313.1,496l17,17M1313.1,513l17,-17M1361.8,523.6h24M1373.8,511.6v24M1365.3,515.1l17,17M1365.3,532.1l17,-17M1373,531.1h24M1385,519.1v24M1376.5,522.6l17,17M1376.5,539.5l17,-17M1222.3,514h24M1234.3,502v24M1225.8,505.6l17,17M1225.8,522.5l17,-17M1225.1,531.6h24M1237.1,519.6v24M1228.6,523.1l17,17M1228.6,540.1l17,-17M1377.5,550.1h24M1389.5,538.1v24M1381,541.6l17,17M1381,558.5l17,-17M1315.1,502.7h24M1327.1,490.7v24M1318.6,494.2l17,17M1318.6,511.1l17,-17M1360.1,535.1h24M1372.1,523.1v24M1363.6,526.6l17,17M1363.6,543.5l17,-17M1319.9,578.2h24M1331.9,566.2v24M1323.4,569.7l17,17M1323.4,586.7l17,-17M1243.5,578.8h24M1255.5,566.8v24M1247,570.3l17,17M1247,587.3l17,-17M1297.9,501.6h24M1309.9,489.6v24M1301.4,493.1l17,17M1301.4,510.1l17,-17M1282.6,521.9h24M1294.6,509.9v24M1286.1,513.4l17,17M1286.1,530.4l17,-17M1328.2,491.2h24M1340.2,479.2v24M1331.7,482.7l17,17M1331.7,499.7l17,-17M1322.4,558.9h24M1334.4,546.9v24M1325.9,550.4l17,17M1325.9,567.4l17,-17M1242.5,534.9h24M1254.5,522.9v24M1246,526.4l17,17M1246,543.4l17,-17M1233.2,537.2h24M1245.2,525.2v24M1236.7,528.8l17,17M1236.7,545.7l17,-17M1231,582.4h24M1243,570.4v24M1234.5,574l17,17M1234.5,590.9l17,-17M1269.7,576.8h24M1281.7,564.8v24M1273.2,568.4l17,17M1273.2,585.3l17,-17M1324.3,568.9h24M1336.3,556.9v24M1327.8,560.4l17,17M1327.8,577.4l17,-17M1314.2,540.3h24M1326.2,528.3v24M1317.8,531.8l17,17M1317.8,548.7l17,-17M1260.9,544.5h24M1272.9,532.5v24M1264.4,536l17,17M1264.4,553l17,-17M1318.2,495.9h24M1330.2,483.9v24M1321.7,487.4l17,17M1321.7,504.3l17,-17M1303.1,498.4h24M1315.1,486.4v24M1306.6,489.9l17,17M1306.6,506.9l17,-17M1351.3,515.1h24M1363.3,503.1v24M1354.8,506.6l17,17M1354.8,523.6l17,-17M1291.6,495.3h24M1303.6,483.3v24M1295.1,486.8l17,17M1295.1,503.8l17,-17M1250.5,561.4h24M1262.5,549.4v24M1254,552.9l17,17M1254,569.9l17,-17M1378.8,541h24M1390.8,529v24M1382.3,532.5l17,17M1382.3,549.5l17,-17M1258.3,581.4h24M1270.3,569.4v24M1261.8,572.9l17,17M1261.8,589.9l17,-17M1345.2,523.2h24M1357.2,511.2v24M1348.7,514.7l17,17M1348.7,531.7l17,-17M1304.1,520.5h24M1316.1,508.5v24M1307.6,512l17,17M1307.6,529l17,-17M1267.2,513.7h24M1279.2,501.7v24M1270.7,505.2l17,17M1270.7,522.2l17,-17M1347.1,508.8h24M1359.1,496.8v24M1350.6,500.3l17,17M1350.6,517.2l17,-17M1361,530.5h24M1373,518.5v24M1364.6,522l17,17M1364.6,539l17,-17M1249.2,507.7h24M1261.2,495.7v24M1252.8,499.2l17,17M1252.8,516.2l17,-17M1305.8,568.8h24M1317.8,556.8v24M1309.3,560.3l17,17M1309.3,577.3l17,-17M1297.4,510.9h24M1309.4,498.9v24M1300.9,502.4l17,17M1300.9,519.4l17,-17M1310.8,529.6h24M1322.8,517.6v24M1314.3,521.1l17,17M1314.3,538.1l17,-17M1339.1,511.1h24M1351.1,499.1v24M1342.6,502.6l17,17M1342.6,519.6l17,-17M1335.6,569.6h24M1347.6,557.6v24M1339.1,561.1l17,17M1339.1,578.1l17,-17M1270.9,542.8h24M1282.9,530.8v24M1274.5,534.3l17,17M1274.5,551.3l17,-17M1233.6,548.8h24M1245.6,536.8v24M1237.1,540.3l17,17M1237.1,557.2l17,-17M1338.1,527.4h24M1350.1,515.4v24M1341.6,518.9l17,17M1341.6,535.9l17,-17M1343.4,501.7h24M1355.4,489.7v24M1346.9,493.2l17,17M1346.9,510.1l17,-17M1302.6,526h24M1314.6,514v24M1306.1,517.6l17,17M1306.1,534.5l17,-17M1340,568.4h24M1352,556.4v24M1343.5,559.9l17,17M1343.5,576.9l17,-17M1241.1,502.2h24M1253.1,490.2v24M1244.6,493.7l17,17M1244.6,510.7l17,-17M1293,523.9h24M1305,511.9v24M1296.5,515.4l17,17M1296.5,532.4l17,-17M1354.3,551.2h24M1366.3,539.2v24M1357.8,542.8l17,17M1357.8,559.7l17,-17M1304.3,567.2h24M1316.3,555.2v24M1307.8,558.7l17,17M1307.8,575.7l17,-17M1257.9,506.1h24M1269.9,494.1v24M1261.4,497.6l17,17M1261.4,514.6l17,-17M1285.7,563.7h24M1297.7,551.7v24M1289.2,555.2l17,17M1289.2,572.2l17,-17M1302.2,550.8h24M1314.2,538.8v24M1305.7,542.3l17,17M1305.7,559.3l17,-17M1357.8,508h24M1369.8,496v24M1361.3,499.5l17,17M1361.3,516.5l17,-17M1269,520h24M1281,508v24M1272.5,511.5l17,17M1272.5,528.5l17,-17M1245.2,530.9h24M1257.2,518.9v24M1248.8,522.4l17,17M1248.8,539.4l17,-17M1227.4,568h24M1239.4,556v24M1230.9,559.6l17,17M1230.9,576.5l17,-17M1263.8,555.6h24M1275.8,543.6v24M1267.3,547.1l17,17M1267.3,564.1l17,-17M1366.3,515.7h24M1378.3,503.7v24M1369.8,507.2l17,17M1369.8,524.1l17,-17M1289.9,554.9h24M1301.9,542.9v24M1293.4,546.4l17,17M1293.4,563.4l17,-17M1259.6,566.1h24M1271.6,554.1v24M1263.1,557.7l17,17M1263.1,574.6l17,-17M1214.3,542.4h24M1226.3,530.4v24M1217.8,533.9l17,17M1217.8,550.9l17,-17M1363.6,509.2h24M1375.6,497.2v24M1367.1,500.7l17,17M1367.1,517.7l17,-17M1211.2,542h24M1223.2,530v24M1214.7,533.5l17,17M1214.7,550.5l17,-17M1235.9,559.9h24M1247.9,547.9v24M1239.4,551.4l17,17M1239.4,568.4l17,-17M1250.4,578.9h24M1262.4,566.9v24M1253.9,570.4l17,17M1253.9,587.4l17,-17M1238.9,569.5h24M1250.9,557.5v24M1242.4,561l17,17M1242.4,578l17,-17M1219.2,548.6h24M1231.2,536.6v24M1222.7,540.1l17,17M1222.7,557.1l17,-17M1289.7,534.2h24M1301.7,522.2v24M1293.3,525.7l17,17M1293.3,542.6l17,-17M1368.4,541.8h24M1380.4,529.8v24M1371.9,533.3l17,17M1371.9,550.3l17,-17M1233.9,542.1h24M1245.9,530.1v24M1237.4,533.6l17,17M1237.4,550.6l17,-17M1278.4,535.9h24M1290.4,523.9v24M1281.9,527.5l17,17M1281.9,544.4l17,-17M1305.4,500h24M1317.4,488v24M1308.9,491.5l17,17M1308.9,508.5l17,-17M1286.6,538.5h24M1298.6,526.5v24M1290.1,530l17,17M1290.1,547l17,-17M1229.4,572.6h24M1241.4,560.6v24M1232.9,564.1l17,17M1232.9,581l17,-17M1224.8,510.5h24M1236.8,498.5v24M1228.3,502l17,17M1228.3,519l17,-17M1287.5,507.9h24M1299.5,495.9v24M1291,499.4l17,17M1291,516.4l17,-17M1269.3,577.4h24M1281.3,565.4v24M1272.8,568.9l17,17M1272.8,585.9l17,-17M1372.3,514.5h24M1384.3,502.5v24M1375.8,506l17,17M1375.8,523l17,-17M1254.3,530.7h24M1266.3,518.7v24M1257.8,522.2l17,17M1257.8,539.2l17,-17M1275.1,541.3h24M1287.1,529.3v24M1278.7,532.8l17,17M1278.7,549.8l17,-17M1280.8,545.2h24M1292.8,533.2v24M1284.3,536.7l17,17M1284.3,553.7l17,-17M1319.5,537.9h24M1331.5,525.9v24M1323,529.5l17,17M1323,546.4l17,-17M1227.5,554.1h24M1239.5,542.1v24M1231,545.7l17,17M1231,562.6l17,-17M1209.5,552.9h24M1221.5,540.9v24M1213,544.4l17,17M1213,561.4l17,-17M1251.4,528.6h24M1263.4,516.6v24M1254.9,520.1l17,17M1254.9,537.1l17,-17M1273.2,509.1h24M1285.2,497.1v24M1276.7,500.6l17,17M1276.7,517.6l17,-17M1211.9,525.6h24M1223.9,513.6v24M1215.4,517.1l17,17M1215.4,534.1l17,-17M1296.3,543.8h24M1308.3,531.8v24M1299.8,535.3l17,17M1299.8,552.3l17,-17M1320.6,512.5h24M1332.6,500.5v24M1324.1,504l17,17M1324.1,521l17,-17M1225.7,524.8h24M1237.7,512.8v24M1229.2,516.3l17,17M1229.2,533.3l17,-17M1247.9,561.8h24M1259.9,549.8v24M1251.4,553.3l17,17M1251.4,570.3l17,-17M1228.6,513h24M1240.6,501v24M1232.1,504.5l17,17M1232.1,521.5l17,-17M1329.1,543.7h24M1341.1,531.7v24M1332.6,535.2l17,17M1332.6,552.2l17,-17M1311,542.7h24M1323,530.7v24M1314.5,534.2l17,17M1314.5,551.2l17,-17M1238.6,587.4h24M1250.6,575.4v24M1242.1,578.9l17,17M1242.1,595.9l17,-17M1311.3,561.1h24M1323.3,549.1v24M1314.8,552.7l17,17M1314.8,569.6l17,-17M1249.6,508.1h24M1261.6,496.1v24M1253.2,499.6l17,17M1253.2,516.6l17,-17M1256.5,524.8h24M1268.5,512.8v24M1260,516.3l17,17M1260,533.3l17,-17M1231.5,583.2h24M1243.5,571.2v24M1235,574.7l17,17M1235,591.6l17,-17M1281.4,537.1h24M1293.4,525.1v24M1284.9,528.6l17,17M1284.9,545.5l17,-17M1236.6,533.4h24M1248.6,521.4v24M1240.1,524.9l17,17M1240.1,541.9l17,-17M1331.9,529.7h24M1343.9,517.7v24M1335.4,521.2l17,17M1335.4,538.1l17,-17M1313.4,555.5h24M1325.4,543.5v24M1316.9,547l17,17M1316.9,564l17,-17M1250.9,585.8h24M1262.9,573.8v24M1254.4,577.3l17,17M1254.4,594.3l17,-17M1335.6,495.9h24M1347.6,483.9v24M1339.1,487.4l17,17M1339.1,504.4l17,-17M1325.6,551.6h24M1337.6,539.6v24M1329.1,543.1l17,17M1329.1,560.1l17,-17M1323.5,522.2h24M1335.5,510.2v24M1327,513.7l17,17M1327,530.7l17,-17M1274.8,498.9h24M1286.8,486.9v24M1278.3,490.4l17,17M1278.3,507.4l17,-17M1295.5,528.9h24M1307.5,516.9v24M1299,520.4l17,17M1299,537.4l17,-17M1319.7,494.4h24M1331.7,482.4v24M1323.2,485.9l17,17M1323.2,502.9l17,-17M1254.4,564.6h24M1266.4,552.6v24M1257.9,556.1l17,17M1257.9,573.1l17,-17M1241,516.4h24M1253,504.4v24M1244.5,507.9l17,17M1244.5,524.8l17,-17M1307.3,535.7h24M1319.3,523.7v24M1310.8,527.2l17,17M1310.8,544.2l17,-17M1267,543.6h24M1279,531.6v24M1270.5,535.1l17,17M1270.5,552.1l17,-17M1357,518.1h24M1369,506.1v24M1360.5,509.6l17,17M1360.5,526.6l17,-17M1226.8,562.5h24M1238.8,550.5v24M1230.3,554l17,17M1230.3,571l17,-17M1245.9,558.5h24M1257.9,546.5v24M1249.4,550l17,17M1249.4,567l17,-17M1360.9,519.9h24M1372.9,507.9v24M1364.4,511.5l17,17M1364.4,528.4l17,-17M1320.7,509.3h24M1332.7,497.3v24M1324.2,500.8l17,17M1324.2,517.8l17,-17M1295.2,529.7h24M1307.2,517.7v24M1298.8,521.2l17,17M1298.8,538.2l17,-17M1306.9,567.3h24M1318.9,555.3v24M1310.4,558.8l17,17M1310.4,575.8l17,-17M1354.3,531.2h24M1366.3,519.2v24M1357.8,522.7l17,17M1357.8,539.7l17,-17M1379.6,547.1h24M1391.6,535.1v24M1383.1,538.7l17,17M1383.1,555.6l17,-17M1365.1,542h24M1377.1,530v24M1368.6,533.5l17,17M1368.6,550.5l17,-17M1346.1,546.9h24M1358.1,534.9v24M1349.6,538.4l17,17M1349.6,555.4l17,-17M1262.4,582.6h24M1274.4,570.6v24M1265.9,574.1l17,17M1265.9,591.1l17,-17M1276.9,531.3h24M1288.9,519.3v24M1280.4,522.9l17,17M1280.4,539.8l17,-17M1262.4,562.7h24M1274.4,550.7v24M1265.9,554.2l17,17M1265.9,571.2l17,-17M1336.1,516.8h24M1348.1,504.8v24M1339.6,508.3l17,17M1339.6,525.3l17,-17M1349.2,516.2h24M1361.2,504.2v24M1352.7,507.7l17,17M1352.7,524.7l17,-17M1315,570.6h24M1327,558.6v24M1318.5,562.2l17,17M1318.5,579.1l17,-17M1256,542.8h24M1268,530.8v24M1259.5,534.3l17,17M1259.5,551.3l17,-17M1337.8,499.2h24M1349.8,487.2v24M1341.3,490.7l17,17M1341.3,507.6l17,-17M1330,516.3h24M1342,504.3v24M1333.5,507.8l17,17M1333.5,524.8l17,-17M1288.4,551.2h24M1300.4,539.2v24M1292,542.8l17,17M1292,559.7l17,-17M1360.1,556.6h24M1372.1,544.6v24M1363.6,548.2l17,17M1363.6,565.1l17,-17M1353.5,538.2h24M1365.5,526.2v24M1357,529.7l17,17M1357,546.7l17,-17M1208.6,587.7h24M1220.6,575.7v24M1212.1,579.3l17,17M1212.1,596.2l17,-17M1276.3,511.2h24M1288.3,499.2v24M1279.8,502.7l17,17M1279.8,519.7l17,-17M1319,529.5h24M1331,517.5v24M1322.5,521l17,17M1322.5,537.9l17,-17M1292,559.5h24M1304,547.5v24M1295.5,551l17,17M1295.5,568l17,-17M1247.3,578.4h24M1259.3,566.4v24M1250.8,569.9l17,17M1250.8,586.9l17,-17M1246.4,572.2h24M1258.4,560.2v24M1249.9,563.7l17,17M1249.9,580.6l17,-17M1234.8,581.6h24M1246.8,569.6v24M1238.3,573.1l17,17M1238.3,590.1l17,-17M1207.3,516.2h24M1219.3,504.2v24M1210.8,507.7l17,17M1210.8,524.7l17,-17M1348.6,550.2h24M1360.6,538.2v24M1352.1,541.7l17,17M1352.1,558.6l17,-17M1234.4,503.9h24M1246.4,491.9v24M1237.9,495.4l17,17M1237.9,512.4l17,-17M1278.3,553.5h24M1290.3,541.5v24M1281.8,545l17,17M1281.8,562l17,-17M1292.9,538.5h24M1304.9,526.5v24M1296.4,530l17,17M1296.4,547l17,-17M1232.2,587.4h24M1244.2,575.4v24M1235.7,578.9l17,17M1235.7,595.8l17,-17M1334,515.8h24M1346,503.8v24M1337.5,507.3l17,17M1337.5,524.3l17,-17M1273.7,499.9h24M1285.7,487.9v24M1277.2,491.4l17,17M1277.2,508.4l17,-17M1328.9,541.5h24M1340.9,529.5v24M1332.4,533l17,17M1332.4,550l17,-17M1333.7,564.9h24M1345.7,552.9v24M1337.2,556.4l17,17M1337.2,573.4l17,-17M1278.1,569.8h24M1290.1,557.8v24M1281.6,561.3l17,17M1281.6,578.3l17,-17M1298.3,507.3h24M1310.3,495.3v24M1301.8,498.8l17,17M1301.8,515.8l17,-17M1366.5,509.1h24M1378.5,497.1v24M1370,500.6l17,17M1370,517.6l17,-17M1252.7,550h24M1264.7,538v24M1256.2,541.5l17,17M1256.2,558.4l17,-17M1265.3,534h24M1277.3,522v24M1268.8,525.5l17,17M1268.8,542.5l17,-17M1210.8,566.1h24M1222.8,554.1v24M1214.3,557.6l17,17M1214.3,574.5l17,-17M1209.9,557.5h24M1221.9,545.5v24M1213.4,549l17,17M1213.4,565.9l17,-17M1297.9,568h24M1309.9,556v24M1301.4,559.5l17,17M1301.4,576.5l17,-17M1249,514h24M1261,502v24M1252.6,505.5l17,17M1252.6,522.4l17,-17M1257,528.5h24M1269,516.5v24M1260.6,520.1l17,17M1260.6,537l17,-17M1322.5,530.9h24M1334.5,518.9v24M1326,522.4l17,17M1326,539.4l17,-17M1256.3,516.8h24M1268.3,504.8v24M1259.8,508.3l17,17M1259.8,525.3l17,-17M1267.1,499.4h24M1279.1,487.4v24M1270.6,490.9l17,17M1270.6,507.9l17,-17M1306.7,508.3h24M1318.7,496.3v24M1310.2,499.8l17,17M1310.2,516.7l17,-17M1369,528.9h24M1381,516.9v24M1372.5,520.4l17,17M1372.5,537.4l17,-17M1268.7,567.4h24M1280.7,555.4v24M1272.2,558.9l17,17M1272.2,575.9l17,-17M1289.7,495h24M1301.7,483v24M1293.2,486.5l17,17M1293.2,503.5l17,-17M1272.9,558.1h24M1284.9,546.1v24M1276.4,549.6l17,17M1276.4,566.5l17,-17M1340.4,560.1h24M1352.4,548.1v24M1344,551.6l17,17M1344,568.5l17,-17M1252,552h24M1264,540v24M1255.6,543.5l17,17M1255.6,560.5l17,-17M1261.1,571.4h24M1273.1,559.4v24M1264.6,562.9l17,17M1264.6,579.9l17,-17M1209.7,569.3h24M1221.7,557.3v24M1213.2,560.8l17,17M1213.2,577.7l17,-17M1315.7,577.2h24M1327.7,565.2v24M1319.2,568.7l17,17M1319.2,585.7l17,-17M1324.3,527.6h24M1336.3,515.6v24M1327.8,519.1l17,17M1327.8,536.1l17,-17M1293.8,505.9h24M1305.8,493.9v24M1297.3,497.4l17,17M1297.3,514.4l17,-17M1222.7,553.6h24M1234.7,541.6v24M1226.2,545.2l17,17M1226.2,562.1l17,-17M1292.6,564.2h24M1304.6,552.2v24M1296.1,555.7l17,17M1296.1,572.7l17,-17M1238.7,564.3h24M1250.7,552.3v24M1242.2,555.8l17,17M1242.2,572.7l17,-17M1345.2,528.8h24M1357.2,516.8v24M1348.7,520.3l17,17M1348.7,537.3l17,-17M1335,533.6h24M1347,521.6v24M1338.5,525.1l17,17M1338.5,542.1l17,-17M1278.7,506.5h24M1290.7,494.5v24M1282.2,498.1l17,17M1282.2,515l17,-17M1236.2,546.3h24M1248.2,534.3v24M1239.7,537.9l17,17M1239.7,554.8l17,-17M1309.5,511.6h24M1321.5,499.6v24M1313,503.1l17,17M1313,520.1l17,-17M1247.4,501.4h24M1259.4,489.4v24M1250.9,492.9l17,17M1250.9,509.9l17,-17M1326,551.2h24M1338,539.2v24M1329.5,542.7l17,17M1329.5,559.7l17,-17M1287.8,523.4h24M1299.8,511.4v24M1291.4,515l17,17M1291.4,531.9l17,-17M1273.7,568.3h24M1285.7,556.3v24M1277.2,559.8l17,17M1277.2,576.7l17,-17M1302.1,512.2h24M1314.1,500.2v24M1305.6,503.7l17,17M1305.6,520.6l17,-17M1209.6,506.7h24M1221.6,494.7v24M1213.1,498.2l17,17M1213.1,515.2l17,-17M1204.6,578h24M1216.6,566v24M1208.2,569.5l17,17M1208.2,586.5l17,-17M1288.6,549.3h24M1300.6,537.3v24M1292.1,540.8l17,17M1292.1,557.8l17,-17M1320,575.3h24M1332,563.3v24M1323.6,566.8l17,17M1323.6,583.8l17,-17M1280.8,499.2h24M1292.8,487.2v24M1284.4,490.7l17,17M1284.4,507.6l17,-17M1232,530.4h24M1244,518.4v24M1235.5,521.9l17,17M1235.5,538.9l17,-17M1353.5,547.4h24M1365.5,535.4v24M1357,538.9l17,17M1357,555.9l17,-17M1329.2,532.1h24M1341.2,520.1v24M1332.8,523.6l17,17M1332.8,540.6l17,-17M1213.6,509.7h24M1225.6,497.7v24M1217.1,501.2l17,17M1217.1,518.2l17,-17M1242.1,510.1h24M1254.1,498.1v24M1245.7,501.6l17,17M1245.7,518.5l17,-17M1317,542.3h24M1329,530.3v24M1320.5,533.8l17,17M1320.5,550.8l17,-17M1325.4,490.9h24M1337.4,478.9v24M1328.9,482.4l17,17M1328.9,499.4l17,-17M1318.5,493.4h24M1330.5,481.4v24M1322,484.9l17,17M1322,501.9l17,-17M1314,531.2h24M1326,519.2v24M1317.6,522.7l17,17M1317.6,539.6l17,-17M1243,584.4h24M1255,572.4v24M1246.6,576l17,17M1246.6,592.9l17,-17M1370.3,551.2h24M1382.3,539.2v24M1373.8,542.7l17,17M1373.8,559.6l17,-17M1293,570.5h24M1305,558.5v24M1296.5,562l17,17M1296.5,579l17,-17M1378.2,523.1h24M1390.2,511.1v24M1381.7,514.6l17,17M1381.7,531.6l17,-17M1313.9,557.8h24M1325.9,545.8v24M1317.5,549.3l17,17M1317.5,566.3l17,-17M1319,505.8h24M1331,493.8v24M1322.5,497.3l17,17M1322.5,514.3l17,-17M1286.6,544.6h24M1298.6,532.6v24M1290.1,536.1l17,17M1290.1,553.1l17,-17M1268.2,568.6h24M1280.2,556.6v24M1271.7,560.1l17,17M1271.7,577.1l17,-17M1345.3,565h24M1357.3,553v24M1348.8,556.6l17,17M1348.8,573.5l17,-17M1331.9,538.3h24M1343.9,526.3v24M1335.4,529.8l17,17M1335.4,546.8l17,-17M1296.6,533.6h24M1308.6,521.6v24M1300.1,525.2l17,17M1300.1,542.1l17,-17M1254.9,553.2h24M1266.9,541.2v24M1258.4,544.7l17,17M1258.4,561.7l17,-17M1364.1,527.8h24M1376.1,515.8v24M1367.6,519.4l17,17M1367.6,536.3l17,-17M1218.3,543.1h24M1230.3,531.1v24M1221.8,534.6l17,17M1221.8,551.5l17,-17M1321,547.3h24M1333,535.3v24M1324.6,538.8l17,17M1324.6,555.8l17,-17M1223.6,543.1h24M1235.6,531.1v24M1227.1,534.6l17,17M1227.1,551.6l17,-17M1320.4,563.6h24M1332.4,551.6v24M1323.9,555.2l17,17M1323.9,572.1l17,-17M1208.9,562.1h24M1220.9,550.1v24M1212.4,553.6l17,17M1212.4,570.6l17,-17M1304.1,507.6h24M1316.1,495.6v24M1307.6,499.1l17,17M1307.6,516.1l17,-17M1250,520.6h24M1262,508.6v24M1253.5,512.1l17,17M1253.5,529l17,-17M1236.9,552.5h24M1248.9,540.5v24M1240.4,544.1l17,17M1240.4,561l17,-17M1228.7,543.5h24M1240.7,531.5v24M1232.3,535l17,17M1232.3,552l17,-17M1268.1,554.2h24M1280.1,542.2v24M1271.6,545.8l17,17M1271.6,562.7l17,-17M1270.5,557.8h24M1282.5,545.8v24M1274.1,549.4l17,17M1274.1,566.3l17,-17M1281.8,577.1h24M1293.8,565.1v24M1285.3,568.7l17,17M1285.3,585.6l17,-17M1283.2,497.5h24M1295.2,485.5v24M1286.7,489l17,17M1286.7,506l17,-17M1361.9,551.3h24M1373.9,539.3v24M1365.4,542.8l17,17M1365.4,559.8l17,-17M1245.6,518.4h24M1257.6,506.4v24M1249.1,509.9l17,17M1249.1,526.9l17,-17M1264.4,520h24M1276.4,508v24M1267.9,511.5l17,17M1267.9,528.5l17,-17M1214.7,576.7h24M1226.7,564.7v24M1218.2,568.3l17,17M1218.2,585.2l17,-17M1281.5,551.3h24M1293.5,539.3v24M1285,542.8l17,17M1285,559.8l17,-17M1231.9,565.4h24M1243.9,553.4v24M1235.4,557l17,17M1235.4,573.9l17,-17M1261.6,579.9h24M1273.6,567.9v24M1265.1,571.4l17,17M1265.1,588.4l17,-17M1328,523.9h24M1340,511.9v24M1331.5,515.4l17,17M1331.5,532.4l17,-17M1286.4,560.1h24M1298.4,548.1v24M1289.9,551.6l17,17M1289.9,568.6l17,-17M1307,516.5h24M1319,504.5v24M1310.6,508.1l17,17M1310.6,525l17,-17M1261.9,520.7h24M1273.9,508.7v24M1265.4,512.2l17,17M1265.4,529.2l17,-17M1231.2,559.7h24M1243.2,547.7v24M1234.7,551.2l17,17M1234.7,568.1l17,-17M1374.4,546.7h24M1386.4,534.7v24M1377.9,538.2l17,17M1377.9,555.2l17,-17M1353.6,540.8h24M1365.6,528.8v24M1357.1,532.3l17,17M1357.1,549.3l17,-17M1365.5,556.4h24M1377.5,544.4v24M1369,547.9l17,17M1369,564.8l17,-17M1299.7,509h24M1311.7,497v24M1303.2,500.6l17,17M1303.2,517.5l17,-17M1323.1,499.6h24M1335.1,487.6v24M1326.6,491.2l17,17M1326.6,508.1l17,-17M1335.9,543.3h24M1347.9,531.3v24M1339.4,534.8l17,17M1339.4,551.7l17,-17M1228.1,586.3h24M1240.1,574.3v24M1231.7,577.8l17,17M1231.7,594.8l17,-17M1276.7,538.1h24M1288.7,526.1v24M1280.2,529.6l17,17M1280.2,546.6l17,-17M1257.5,570.7h24M1269.5,558.7v24M1261,562.2l17,17M1261,579.2l17,-17M1310.9,547.2h24M1322.9,535.2v24M1314.4,538.7l17,17M1314.4,555.7l17,-17M1349.3,540.1h24M1361.3,528.1v24M1352.8,531.6l17,17M1352.8,548.6l17,-17M1355.9,555.4h24M1367.9,543.4v24M1359.4,546.9l17,17M1359.4,563.9l17,-17M1280.1,516.2h24M1292.1,504.2v24M1283.6,507.7l17,17M1283.6,524.7l17,-17M1374,538.2h24M1386,526.2v24M1377.5,529.7l17,17M1377.5,546.7l17,-17M1331.5,488.6h24M1343.5,476.6v24M1335,480.1l17,17M1335,497.1l17,-17M1256.2,510.4h24M1268.2,498.4v24M1259.7,501.9l17,17M1259.7,518.9l17,-17M1332.9,516.5h24M1344.9,504.5v24M1336.4,508l17,17M1336.4,525l17,-17M1320.2,523.6h24M1332.2,511.6v24M1323.7,515.1l17,17M1323.7,532.1l17,-17M1346.7,503.1h24M1358.7,491.1v24M1350.2,494.6l17,17M1350.2,511.6l17,-17M1320.9,520.1h24M1332.9,508.1v24M1324.4,511.6l17,17M1324.4,528.6l17,-17M1290.3,564.3h24M1302.3,552.3v24M1293.9,555.8l17,17M1293.9,572.8l17,-17M1326,534.8h24M1338,522.8v24M1329.6,526.3l17,17M1329.6,543.3l17,-17M1245.4,541.8h24M1257.4,529.8v24M1248.9,533.3l17,17M1248.9,550.2l17,-17M1220.8,519.4h24M1232.8,507.4v24M1224.3,511l17,17M1224.3,527.9l17,-17M1265.3,563.8h24M1277.3,551.8v24M1268.8,555.3l17,17M1268.8,572.3l17,-17M1306,561.5h24M1318,549.5v24M1309.5,553l17,17M1309.5,570l17,-17M1214.4,534.2h24M1226.4,522.2v24M1217.9,525.7l17,17M1217.9,542.6l17,-17M1305.3,530.9h24M1317.3,518.9v24M1308.9,522.4l17,17M1308.9,539.4l17,-17M1348.3,518.1h24M1360.3,506.1v24M1351.8,509.6l17,17M1351.8,526.6l17,-17M1361.5,544.4h24M1373.5,532.4v24M1365,535.9l17,17M1365,552.9l17,-17M1223.7,588h24M1235.7,576v24M1227.2,579.5l17,17M1227.2,596.5l17,-17M1328.5,573.4h24M1340.5,561.4v24M1332,564.9l17,17M1332,581.9l17,-17M1269.2,559.6h24M1281.2,547.6v24M1272.7,551.1l17,17M1272.7,568.1l17,-17M1220,581.2h24M1232,569.2v24M1223.5,572.7l17,17M1223.5,589.7l17,-17M1223.8,559.8h24M1235.8,547.8v24M1227.3,551.4l17,17M1227.3,568.3l17,-17M1360.2,521.5h24M1372.2,509.5v24M1363.7,513l17,17M1363.7,530l17,-17M1357.3,547.1h24M1369.3,535.1v24M1360.8,538.6l17,17M1360.8,555.6l17,-17M1337.7,498.8h24M1349.7,486.8v24M1341.2,490.3l17,17M1341.2,507.3l17,-17M1233.7,511.9h24M1245.7,499.9v24M1237.2,503.4l17,17M1237.2,520.4l17,-17M1228,536.7h24M1240,524.7v24M1231.5,528.3l17,17M1231.5,545.2l17,-17M1237,508h24M1249,496v24M1240.6,499.5l17,17M1240.6,516.4l17,-17M1294.5,552.1h24M1306.5,540.1v24M1298,543.7l17,17M1298,560.6l17,-17M1239.1,563.6h24M1251.1,551.6v24M1242.6,555.1l17,17M1242.6,572l17,-17M1302.9,536.8h24M1314.9,524.8v24M1306.4,528.3l17,17M1306.4,545.3l17,-17M1301.5,542.5h24M1313.5,530.5v24M1305,534l17,17M1305,551l17,-17M1321.4,515.1h24M1333.4,503.1v24M1324.9,506.6l17,17M1324.9,523.6l17,-17M1245.4,515.5h24M1257.4,503.5v24M1248.9,507l17,17M1248.9,523.9l17,-17M1339.5,503.6h24M1351.5,491.6v24M1343.1,495.1l17,17M1343.1,512.1l17,-17M1326.2,498.4h24M1338.2,486.4v24M1329.7,489.9l17,17M1329.7,506.9l17,-17M1299.1,544.6h24M1311.1,532.6v24M1302.6,536.1l17,17M1302.6,553.1l17,-17M1311.1,538.6h24M1323.1,526.6v24M1314.6,530.1l17,17M1314.6,547.1l17,-17M1216,564.3h24M1228,552.3v24M1219.5,555.8l17,17M1219.5,572.7l17,-17M1292.9,542.7h24M1304.9,530.7v24M1296.4,534.2l17,17M1296.4,551.2l17,-17M1272.4,534.4h24M1284.4,522.4v24M1275.9,525.9l17,17M1275.9,542.8l17,-17M1276.9,542.6h24M1288.9,530.6v24M1280.4,534.1l17,17M1280.4,551.1l17,-17M1350.2,507h24M1362.2,495v24M1353.7,498.5l17,17M1353.7,515.5l17,-17M1378.9,520.8h24M1390.9,508.8v24M1382.4,512.4l17,17M1382.4,529.3l17,-17M1350.2,556.1h24M1362.2,544.1v24M1353.7,547.7l17,17M1353.7,564.6l17,-17M1326.4,507h24M1338.4,495v24M1329.9,498.6l17,17M1329.9,515.5l17,-17M1309.1,523.3h24M1321.1,511.3v24M1312.6,514.9l17,17M1312.6,531.8l17,-17M1371.7,508.5h24M1383.7,496.5v24M1375.2,500l17,17M1375.2,517l17,-17M1261.6,512.1h24M1273.6,500.1v24M1265.1,503.6l17,17M1265.1,520.6l17,-17M1283.1,565.4h24M1295.1,553.4v24M1286.6,556.9l17,17M1286.6,573.9l17,-17M1366.2,545.6h24M1378.2,533.6v24M1369.7,537.2l17,17M1369.7,554.1l17,-17M1215.2,522.8h24M1227.2,510.8v24M1218.7,514.3l17,17M1218.7,531.3l17,-17M1215.8,511.8h24M1227.8,499.8v24M1219.3,503.3l17,17M1219.3,520.3l17,-17M1368.8,534.6h24M1380.8,522.6v24M1372.3,526.1l17,17M1372.3,543.1l17,-17M1223.1,573.1h24M1235.1,561.1v24M1226.6,564.6l17,17M1226.6,581.6l17,-17M1241.3,524.6h24M1253.3,512.6v24M1244.8,516.1l17,17M1244.8,533.1l17,-17M1334.9,553.7h24M1346.9,541.7v24M1338.4,545.2l17,17M1338.4,562.2l17,-17M1314.9,564.1h24M1326.9,552.1v24M1318.4,555.7l17,17M1318.4,572.6l17,-17M1330.7,563.3h24M1342.7,551.3v24M1334.2,554.8l17,17M1334.2,571.8l17,-17M1240.6,541.7h24M1252.6,529.7v24M1244.1,533.2l17,17M1244.1,550.2l17,-17M1267.2,503.3h24M1279.2,491.3v24M1270.8,494.8l17,17M1270.8,511.8l17,-17M1211.3,514.4h24M1223.3,502.4v24M1214.8,505.9l17,17M1214.8,522.9l17,-17M1308.9,575.1h24M1320.9,563.1v24M1312.4,566.6l17,17M1312.4,583.6l17,-17M1280.4,574.1h24M1292.4,562.1v24M1283.9,565.6l17,17M1283.9,582.6l17,-17M1281.8,557h24M1293.8,545v24M1285.3,548.5l17,17M1285.3,565.5l17,-17M1288.2,527.4h24M1300.2,515.4v24M1291.7,518.9l17,17M1291.7,535.9l17,-17M1250.9,542.9h24M1262.9,530.9v24M1254.4,534.4l17,17M1254.4,551.4l17,-17M1352.7,507.6h24M1364.7,495.6v24M1356.2,499.2l17,17M1356.2,516.1l17,-17M1239.7,587.3h24M1251.7,575.3v24M1243.2,578.8l17,17M1243.2,595.7l17,-17M1235.8,535.4h24M1247.8,523.4v24M1239.3,526.9l17,17M1239.3,543.8l17,-17M1214.4,568.8h24M1226.4,556.8v24M1217.9,560.3l17,17M1217.9,577.3l17,-17M1358,514h24M1370,502v24M1361.5,505.5l17,17M1361.5,522.4l17,-17M1302.7,554.2h24M1314.7,542.2v24M1306.2,545.8l17,17M1306.2,562.7l17,-17M1320.6,533.5h24M1332.6,521.5v24M1324.1,525l17,17M1324.1,542l17,-17M1234.5,575.8h24M1246.5,563.8v24M1238,567.3l17,17M1238,584.3l17,-17M1275.4,561.1h24M1287.4,549.1v24M1279,552.6l17,17M1279,569.6l17,-17M1329.2,568.9h24M1341.2,556.9v24M1332.7,560.4l17,17M1332.7,577.4l17,-17M1248.1,585.3h24M1260.1,573.3v24M1251.6,576.8l17,17M1251.6,593.8l17,-17M1245.2,542.8h24M1257.2,530.8v24M1248.7,534.3l17,17M1248.7,551.3l17,-17M1219.5,508.3h24M1231.5,496.3v24M1223,499.8l17,17M1223,516.8l17,-17M1230.2,529.6h24M1242.2,517.6v24M1233.7,521.2l17,17M1233.7,538.1l17,-17M1339.7,518.2h24M1351.7,506.2v24M1343.3,509.7l17,17M1343.3,526.7l17,-17M1216.7,562.8h24M1228.7,550.8v24M1220.2,554.3l17,17M1220.2,571.3l17,-17M1233.7,514.2h24M1245.7,502.2v24M1237.2,505.7l17,17M1237.2,522.7l17,-17M1298.5,516.4h24M1310.5,504.4v24M1302,507.9l17,17M1302,524.9l17,-17M1332.2,509.6h24M1344.2,497.6v24M1335.7,501.1l17,17M1335.7,518.1l17,-17M1360.8,507.5h24M1372.8,495.5v24M1364.3,499l17,17M1364.3,516l17,-17M1220.8,573.4h24M1232.8,561.4v24M1224.3,564.9l17,17M1224.3,581.9l17,-17M1345.7,506h24M1357.7,494v24M1349.2,497.5l17,17M1349.2,514.5l17,-17M1225.6,580.1h24M1237.6,568.1v24M1229.1,571.6l17,17M1229.1,588.6l17,-17M1217.9,520.5h24M1229.9,508.5v24M1221.4,512l17,17M1221.4,529l17,-17M1328.6,488.5h24M1340.6,476.5v24M1332.2,480l17,17M1332.2,497l17,-17M1326.2,561.4h24M1338.2,549.4v24M1329.7,552.9l17,17M1329.7,569.9l17,-17M1248.1,548.5h24M1260.1,536.5v24M1251.6,540l17,17M1251.6,557l17,-17M1243.3,577.3h24M1255.3,565.3v24M1246.8,568.8l17,17M1246.8,585.8l17,-17M1340.5,551.2h24M1352.5,539.2v24M1344,542.7l17,17M1344,559.7l17,-17M1282.9,507.7h24M1294.9,495.7v24M1286.4,499.2l17,17M1286.4,516.2l17,-17M1355.5,523.1h24M1367.5,511.1v24M1359,514.6l17,17M1359,531.6l17,-17M1206.8,501.7h24M1218.8,489.7v24M1210.3,493.2l17,17M1210.3,510.2l17,-17M1224.5,500.2h24M1236.5,488.2v24M1228,491.7l17,17M1228,508.7l17,-17M1240.7,498.8h24M1252.7,486.8v24M1244.2,490.3l17,17M1244.2,507.3l17,-17M1261.4,501h24M1273.4,489v24M1264.9,492.5l17,17M1264.9,509.5l17,-17M1276.2,495.8h24M1288.2,483.8v24M1279.7,487.3l17,17M1279.7,504.3l17,-17M1291,494.3h24M1303,482.3v24M1294.5,485.8l17,17M1294.5,502.8l17,-17M1305.8,492.8h24M1317.8,480.8v24M1309.3,484.3l17,17M1309.3,501.3l17,-17M1320.5,488.4h24M1332.5,476.4v24M1324,479.9l17,17M1324,496.9l17,-17M1336.8,488.4h24M1348.8,476.4v24M1340.3,479.9l17,17M1340.3,496.9l17,-17M1350.1,497.3h24M1362.1,485.3v24M1353.6,488.8l17,17M1353.6,505.8l17,-17M1370.8,504.7h24M1382.8,492.7v24M1374.3,496.2l17,17M1374.3,513.2l17,-17M1378.2,516.5h24M1390.2,504.5v24M1381.7,508l17,17M1381.7,525l17,-17M1382.6,528.3h24M1394.6,516.3v24M1386.1,519.8l17,17M1386.1,536.8l17,-17M1383.2,540.1h24M1395.2,528.1v24M1386.7,531.6l17,17M1386.7,548.6l17,-17M1379.6,552h24M1391.6,540v24M1383.1,543.5l17,17M1383.1,560.5l17,-17M1372.2,553.4h24M1384.2,541.4v24M1375.7,544.9l17,17M1375.7,561.9l17,-17M1361.9,562.3h24M1373.9,550.3v24M1365.4,553.8l17,17M1365.4,570.8l17,-17M1351.6,566.7h24M1363.6,554.7v24M1355.1,558.2l17,17M1355.1,575.2l17,-17M1335.3,571.2h24M1347.3,559.2v24M1338.8,562.7l17,17M1338.8,579.7l17,-17M1316.8,579.9h24M1328.8,567.9v24M1320.3,571.4l17,17M1320.3,588.4l17,-17M1305.8,575.6h24M1317.8,563.6v24M1309.3,567.1l17,17M1309.3,584.1l17,-17M1299.8,566.7h24M1311.8,554.7v24M1303.3,558.2l17,17M1303.3,575.2l17,-17M1288,577.1h24M1300,565.1v24M1291.5,568.6l17,17M1291.5,585.6l17,-17M1279.2,579.9h24M1291.2,567.9v24M1282.7,571.4l17,17M1282.7,588.4l17,-17M1254,585.8h24M1266,573.8v24M1257.5,577.3l17,17M1257.5,594.3l17,-17M1234.8,588.7h24M1246.8,576.7v24M1238.3,580.2l17,17M1238.3,597.2l17,-17M1223,591.8h24M1235,579.8v24M1226.5,583.3l17,17M1226.5,600.3l17,-17M1210.9,591.1h24M1222.9,579.1v24M1214.4,582.6l17,17M1214.4,599.6l17,-17M1203.8,581.5h24M1215.8,569.5v24M1207.3,573l17,17M1207.3,590l17,-17M1206.8,565.2h24M1218.8,553.2v24M1210.3,556.7l17,17M1210.3,573.7l17,-17M1208.2,553.4h24M1220.2,541.4v24M1211.7,544.9l17,17M1211.7,561.9l17,-17M1209.7,538.7h24M1221.7,526.7v24M1213.2,530.2l17,17M1213.2,547.2l17,-17M1208.2,523.9h24M1220.2,511.9v24M1211.7,515.4l17,17M1211.7,532.4l17,-17M1206.8,512.1h24M1218.8,500.1v24M1210.3,503.6l17,17M1210.3,520.6l17,-17M1061.1,540h24M1073.1,528v24M1064.6,531.5l17,17M1064.6,548.5l17,-17M1097,501h24M1109,489v24M1100.5,492.5l17,17M1100.5,509.5l17,-17M1106.9,563h24M1118.9,551v24M1110.4,554.5l17,17M1110.4,571.5l17,-17M1135.9,497.1h24M1147.9,485.1v24M1139.4,488.6l17,17M1139.4,505.6l17,-17M1152.9,497.1h24M1164.9,485.1v24M1156.4,488.6l17,17M1156.4,505.6l17,-17M1145,497.1h24M1157,485.1v24M1148.5,488.6l17,17M1148.5,505.6l17,-17M1155.7,530.3h24M1167.7,518.3v24M1159.2,521.8l17,17M1159.2,538.8l17,-17M1149.2,550.2h24M1161.2,538.2v24M1152.7,541.7l17,17M1152.7,558.7l17,-17M1156.5,547.5h24M1168.5,535.5v24M1160,539l17,17M1160,556l17,-17M1152.9,563h24M1164.9,551v24M1156.4,554.5l17,17M1156.4,571.5l17,-17M1172.3,514.1h24M1184.3,502.1v24M1175.8,505.6l17,17M1175.8,522.6l17,-17M1166.9,518.4h24M1178.9,506.4v24M1170.4,509.9l17,17M1170.4,526.9l17,-17M1195.4,481.3h24M1207.4,469.3v24M1198.9,472.8l17,17M1198.9,489.8l17,-17M1186.9,487.4h24M1198.9,475.4v24M1190.4,478.9l17,17M1190.4,495.9l17,-17M1190,494.7h24M1202,482.7v24M1193.5,486.2l17,17M1193.5,503.2l17,-17M1214.9,488h24M1226.9,476v24M1218.4,479.5l17,17M1218.4,496.5l17,-17M1176.6,552.4h24M1188.6,540.4v24M1180.1,543.9l17,17M1180.1,560.9l17,-17M1185.7,575.5h24M1197.7,563.5v24M1189.2,567l17,17M1189.2,584l17,-17M1217.9,602.2h24M1229.9,590.2v24M1221.4,593.7l17,17M1221.4,610.7l17,-17M1181.5,508.6h24M1193.5,496.6v24M1185,500.1l17,17M1185,517.1l17,-17M1183.9,523.2h24M1195.9,511.2v24M1187.4,514.7l17,17M1187.4,531.7l17,-17M1180.2,535.4h24M1192.2,523.4v24M1183.7,526.9l17,17M1183.7,543.9l17,-17M1187.5,542.7h24M1199.5,530.7v24M1191,534.2l17,17M1191,551.2l17,-17M1182.7,562.1h24M1194.7,550.1v24M1186.2,553.6l17,17M1186.2,570.6l17,-17M1191.2,569.4h24M1203.2,557.4v24M1194.7,560.9l17,17M1194.7,577.9l17,-17M1194.8,500.1h24M1206.8,488.1v24M1198.3,491.6l17,17M1198.3,508.6l17,-17M1196.1,514.7h24M1208.1,502.7v24M1199.6,506.2l17,17M1199.6,523.2l17,-17M1193.6,528.1h24M1205.6,516.1v24M1197.1,519.6l17,17M1197.1,536.6l17,-17M1197.3,552.4h24M1209.3,540.4v24M1200.8,543.9l17,17M1200.8,560.9l17,-17M1199.7,581.6h24M1211.7,569.6v24M1203.2,573.1l17,17M1203.2,590.1l17,-17M1194.8,585.2h24M1206.8,573.2v24M1198.3,576.7l17,17M1198.3,593.7l17,-17M1215.6,488.6h24M1227.6,476.6v24M1219.1,480.1l17,17M1219.1,497.1l17,-17M1248.1,488.6h24M1260.1,476.6v24M1251.6,480.1l17,17M1251.6,497.1l17,-17M1296.9,490.8h24M1308.9,478.8v24M1300.4,482.3l17,17M1300.4,499.3l17,-17M1282.1,494.5h24M1294.1,482.5v24M1285.6,486l17,17M1285.6,503l17,-17M1186.2,575.6h24M1198.2,563.6v24M1189.7,567.1l17,17M1189.7,584.1l17,-17M1197.9,583h24M1209.9,571v24M1201.4,574.5l17,17M1201.4,591.5l17,-17"/>
<path class="mk" stroke="#f0f" shape-rendering="crispEdges" d="M552.6,409.6h19.6l-9.8,-17zM563.5,401.1h19.6l-9.8,-17zM569.9,403.4h19.6l-9.8,-17zM547.7,401.1h19.6l-9.8,-17zM553.9,401.8h19.6l-9.8,-17zM558.5,408.2h19.6l-9.8,-17zM566.7,396.4h19.6l-9.8,-17zM559.4,398.4h19.6l-9.8,-17zM555.8,400.8h19.6l-9.8,-17zM556.4,405.7h19.6l-9.8,-17zM566,399.6h19.6l-9.8,-17zM549.6,400.5h19.6l-9.8,-17zM550.8,405.6h19.6l-9.8,-17zM563.8,388.6h19.6l-9.8,-17zM550.7,392.6h19.6l-9.8,-17zM553.7,392.6h19.6l-9.8,-17zM557.2,392.6h19.6l-9.8,-17zM573.8,395.6h19.6l-9.8,-17zM579.7,407.6h19.6l-9.8,-17zM534.8,407.1h19.6l-9.8,-17zM550.6,417.1h19.6l-9.8,-17zM550.6,413.6h19.6l-9.8,-17zM563.6,410.6h19.6l-9.8,-17zM540.2,401.7h19.6l-9.8,-17zM545.2,396.7h19.6l-9.8,-17zM568.2,391.7h19.6l-9.8,-17zM543.2,410.7h19.6l-9.8,-17zM557.2,413.7h19.6l-9.8,-17z"/>
<path class="mk" stroke="#0ff" shape-rendering="crispEdges" d="M752.5,683.4a8,8 0 1 0 16,0a8,8 0 1 0 -16,0zM757,689a8,8 0 1 0 16,0a8,8 0 1 0 -16,0zM763.5,694a8,8 0 1 0 16,0a8,8 0 1 0 -16,0zM770,698a8,8 0 1 0 16,0a8,8 0 1 0 -16,0zM778.7,701.2a8,8 0 1 0 16,0a8,8 0 1 0 -16,0zM783,697a8,8 0 1 0 16,0a8,8 0 1 0 -16,0zM763.5,660.6a8,8 0 1 0 16,0a8,8 0 1 0 -16,0zM767,675a8,8 0 1 0 16,0a8,8 0 1 0 -16,0zM774,690a8,8 0 1 0 16,0a8,8 0 1 0 -16,0z"/>
<path class="mk" stroke="#ff0" shape-rendering="crispEdges" d="M904.7,595.7h13.4v13.4h-13.4zM892.3,595.8h13.4v13.4h-13.4zM897.7,591.5h13.4v13.4h-13.4zM887.5,589.5h13.4v13.4h-13.4zM898.7,595.9h13.4v13.4h-13.4zM895.9,594.2h13.4v13.4h-13.4zM890.4,596.1h13.4v13.4h-13.4zM906.1,592.4h13.4v13.4h-13.4zM891,593.2h13.4v13.4h-13.4zM916.5,593.7h13.4v13.4h-13.4zM899,595.2h13.4v13.4h-13.4zM903.6,597.6h13.4v13.4h-13.4zM907.7,595.3h13.4v13.4h-13.4zM888.8,594.8h13.4v13.4h-13.4zM886.4,588h13.4v13.4h-13.4zM894.6,588.1h13.4v13.4h-13.4zM911.9,594.9h13.4v13.4h-13.4zM882.6,586.3h13.4v13.4h-13.4zM891.3,586.3h13.4v13.4h-13.4zM903.3,587.8h13.4v13.4h-13.4zM918.6,592.4h13.4v13.4h-13.4zM918.6,595h13.4v13.4h-13.4zM908,598.8h13.4v13.4h-13.4zM888.2,601.8h13.4v13.4h-13.4zM885.6,595.8h13.4v13.4h-13.4zM865.1,559.5h13.4v13.4h-13.4zM891.9,576.3h13.4v13.4h-13.4z"/>
<path class="mk" stroke="#f00" shape-rendering="crispEdges" d="M786.7,650.3h19.6l-9.8,17zM797.1,650.3h19.6l-9.8,17zM770.3,663.8h19.6l-9.8,17zM792.9,648.3h19.6l-9.8,17zM795.8,655.1h19.6l-9.8,17zM775.6,668.5h19.6l-9.8,17zM774.7,653.3h19.6l-9.8,17zM787.1,669.8h19.6l-9.8,17zM786.8,665.4h19.6l-9.8,17zM796,663.7h19.6l-9.8,17zM793.1,663.8h19.6l-9.8,17zM795,656.4h19.6l-9.8,17zM781,654.2h19.6l-9.8,17zM775.8,661.9h19.6l-9.8,17zM776.5,647.9h19.6l-9.8,17zM766.9,666h19.6l-9.8,17zM778.4,645.7h19.6l-9.8,17zM763.9,660.8h19.6l-9.8,17zM786.8,648.1h19.6l-9.8,17zM781.4,665.7h19.6l-9.8,17zM789,656.3h19.6l-9.8,17zM791,650.2h19.6l-9.8,17zM773.7,657.8h19.6l-9.8,17zM766.5,657.7h19.6l-9.8,17zM781.1,660.2h19.6l-9.8,17zM797.4,633.3h19.6l-9.8,17zM781.1,639.4h19.6l-9.8,17zM799.7,643.4h19.6l-9.8,17zM767.8,649.5h19.6l-9.8,17zM802.3,649.5h19.6l-9.8,17zM760.9,659.4h19.6l-9.8,17zM751.8,672.7h19.6l-9.8,17zM806.5,669.3h19.6l-9.8,17zM770,674h19.6l-9.8,17zM777.6,678.2h19.6l-9.8,17zM786,674h19.6l-9.8,17zM756.2,667.3h19.6l-9.8,17z"/>
<path class="mk" stroke="#0f0" shape-rendering="crispEdges" d="M374.5,297h24M386.5,285v24M378,288.5l17,17M378,305.5l17,-17M381.2,297h24M393.2,285v24M384.7,288.5l17,17M384.7,305.5l17,-17M388.8,299h24M400.8,287v24M392.3,290.5l17,17M392.3,307.5l17,-17M390,303h24M402,291v24M393.5,294.5l17,17M393.5,311.5l17,-17M391,305.6h24M403,293.6v24M394.5,297.1l17,17M394.5,314.1l17,-17M390.7,309.8h24M402.7,297.8v24M394.2,301.3l17,17M394.2,318.3l17,-17M387,307h24M399,295v24M390.5,298.5l17,17M390.5,315.5l17,-17M385,302h24M397,290v24M388.5,293.5l17,17M388.5,310.5l17,-17"/>
<path class="mk" stroke="#00f" shape-rendering="crispEdges" d="M527.6,428.6h19.6l-9.8,-17zM535.7,430.7h19.6l-9.8,-17zM531.2,429.7h19.6l-9.8,-17z"/>
<path class="mk" stroke="#f0f" shape-rendering="crispEdges" d="M801.818,670.8a8,8 0 1 0 16,0a8,8 0 1 0 -16,0zM799.658,673.9a8,8 0 1 0 16,0a8,8 0 1 0 -16,0zM800.077,669a8,8 0 1 0 16,0a8,8 0 1 0 -16,0zM806.74,676.2a8,8 0 1 0 16,0a8,8 0 1 0 -16,0zM809.621,666.9a8,8 0 1 0 16,0a8,8 0 1 0 -16,0zM803.283,665.4a8,8 0 1 0 16,0a8,8 0 1 0 -16,0zM799.92,665a8,8 0 1 0 16,0a8,8 0 1 0 -16,0zM806.662,663a8,8 0 1 0 16,0a8,8 0 1 0 -16,0zM803.1,681.1a8,8 0 1 0 16,0a8,8 0 1 0 -16,0zM803.944,667.8a8,8 0 1 0 16,0a8,8 0 1 0 -16,0zM808.78,671a8,8 0 1 0 16,0a8,8 0 1 0 -16,0zM800,662a8,8 0 1 0 16,0a8,8 0 1 0 -16,0zM808,660a8,8 0 1 0 16,0a8,8 0 1 0 -16,0zM811,668a8,8 0 1 0 16,0a8,8 0 1 0 -16,0zM810,678a8,8 0 1 0 16,0a8,8 0 1 0 -16,0zM805,685a8,8 0 1 0 16,0a8,8 0 1 0 -16,0zM800,684a8,8 0 1 0 16,0a8,8 0 1 0 -16,0zM797,675a8,8 0 1 0 16,0a8,8 0 1 0 -16,0zM798.4,655.3a8,8 0 1 0 16,0a8,8 0 1 0 -16,0zM811.7,657.6a8,8 0 1 0 16,0a8,8 0 1 0 -16,0zM799.2,687.6a8,8 0 1 0 16,0a8,8 0 1 0 -16,0zM757.4,665.2a8,8 0 1 0 16,0a8,8 0 1 0 -16,0zM805,657a8,8 0 1 0 16,0a8,8 0 1 0 -16,0z"/>
<path class="mk" stroke="#0ff" shape-rendering="crispEdges" d="M622.7,520h13.4v13.4h-13.4z"/>
<path class="mk" stroke="#ff0" shape-rendering="crispEdges" d="M623.1,544.4h19.6l-9.8,17z"/>
<g fill="#000"><circle cx="264.5" cy="261" r="14.7"/><circle cx="612.9" cy="474.3" r="14.7"/><circle cx="583.4" cy="506.9" r="14.7"/><circle cx="1272.9" cy="560.2" r="14.7"/><circle cx="770.2" cy="671.5" r="14.7"/><circle cx="794" cy="664.9" r="14.7"/><circle cx="639.5" cy="704.4" r="14.7"/><circle cx="658.9" cy="776.5" r="14.7"/><circle cx="655.4" cy="835.5" r="14.7"/><circle cx="520.9" cy="894.9" r="14.7"/><circle cx="530.9" cy="1049.1" r="14.7"/></g>
<text class="big" fill="#00f" transform="matrix(1 0 0 1.048 281.3 113.4)">H3</text>
<text class="big" fill="#f0f" transform="matrix(1 0 0 1.048 415.2 300.1)">H4</text>
<text class="big" clip-path="url(#c4)" fill="#0f0" transform="matrix(1 0 0 1.048 307.3 392.4)">H14</text>
<text class="big" fill="#f00" transform="matrix(1 0 0 1.048 479.2 365.1)">H7</text>
<text class="big" clip-path="url(#c4)" fill="#f0f" transform="matrix(1 0 0 1.048 593.1 369.1)">H10</text>
<text class="big" clip-path="url(#c4)" fill="#00f" transform="matrix(1 0 0 1.048 416.3 513.1)">H15</text>
<text class="big" clip-path="url(#c4)" fill="#0ff" transform="matrix(1 0 0 1.048 657.8 519.2)">H17</text>
<text class="big" fill="#00f" transform="matrix(1 0 0 1.048 1261.2 448.9)">H9</text>
<text class="big" clip-path="url(#c4)" fill="#f00" transform="matrix(1 0 0 1.048 794.3 567.7)">H13</text>
<text class="big" clip-path="url(#c4)" fill="#ff0" transform="matrix(1 0 0 1.048 931.7 558.5)">H12</text>
<text class="big" clip-path="url(#c4)" fill="#f0f" transform="matrix(1 0 0 1.048 749.7 617.6)">H16</text>
<text class="big" clip-path="url(#c4)" fill="#ff0" transform="matrix(1 0 0 1.048 491.8 625.9)">H18</text>
<text class="big" fill="#0f0" transform="matrix(1 0 0 1.048 936.6 652.3)">H8</text>
<text class="big" clip-path="url(#c5)" fill="#0ff" transform="matrix(1 0 0 1.048 736.1 775.9)">H11</text>
<text class="big" fill="#0f0" transform="matrix(1 0 0 1.048 713.4 841.9)">H2</text>
<text class="big" fill="#ff0" transform="matrix(1 0 0 1.048 810.3 847.7)">H6</text>
<text class="big" fill="#0ff" transform="matrix(1 0 0 1.048 596.5 936.8)">H5</text>
<text class="big" clip-path="url(#c4)" fill="#f00" transform="matrix(1 0 0 1.048 406.2 1027.9)">H1</text>
<text class="pdb" clip-path="url(#c6)" transform="matrix(1 0 0 1.048 300.7 237.8)">1EO8</text>
<text class="pdb" letter-spacing="0.347" transform="matrix(1 0 0 1.048 629.9 458.8)">4D00</text>
<text class="pdb" letter-spacing="0.23" transform="matrix(1 0 0 1.048 457.7 574.5)">4BSA</text>
<text class="pdb" transform="matrix(1 0 0 1.048 633.9 644.8)">4KPQ</text>
<text class="pdb" letter-spacing="0.114" transform="matrix(1 0 0 1.048 485.8 711.1)">4H32</text>
<text class="pdb" letter-spacing="0.284" transform="matrix(1 0 0 1.048 806.9 720.2)">4F23</text>
<text class="pdb" letter-spacing="-0.523" transform="matrix(1 0 0 1.048 485 782.8)">5BNY</text>
<text class="pdb" letter-spacing="0.235" transform="matrix(1 0 0 1.048 384.3 890)">4JUN</text>
<text class="pdb" letter-spacing="0.842" transform="matrix(1 0 0 1.048 680.4 894.7)">4HLZ</text>
<text class="pdb" clip-path="url(#c6)" transform="matrix(1 0 0 1.048 1263.1 648.6)">1JSD</text>
<text class="pdb" letter-spacing="0.953" transform="matrix(1 0 0 1.048 585.6 1124.7)">3LZG</text>
<path class="mk" stroke="#f00" stroke-width="4.2" style="stroke-width:4.2" shape-rendering="crispEdges" d="M1516.75,77a12.75,12.75 0 1 0 25.5,0a12.75,12.75 0 1 0 -25.5,0z"/><text class="lg" clip-path="url(#c7)" letter-spacing="1.3" transform="matrix(0.91 0 0 1.053 1587.9 92)">H1</text>
<path class="mk" stroke="#0f0" stroke-width="4.2" style="stroke-width:4.2" shape-rendering="crispEdges" d="M1519.2,116.1h20.6v20.6h-20.6z"/><text class="lg" letter-spacing="1.3" transform="matrix(0.91 0 0 1.053 1587.9 142)">H2</text>
<path class="mk" stroke="#00f" stroke-width="4.2" style="stroke-width:4.2" shape-rendering="crispEdges" d="M1514.6,170.2h29.8l-14.9,25.8z"/><text class="lg" letter-spacing="1.3" transform="matrix(0.91 0 0 1.053 1587.9 193)">H3</text>
<path class="mk" stroke="#f0f" stroke-width="4.2" style="stroke-width:4.2" shape-rendering="crispEdges" d="M1514,228.2h31.1M1529.5,212.7v31.1M1518,216.8l23,23M1518,239.7l23,-23"/><text class="lg" letter-spacing="1.3" transform="matrix(0.91 0 0 1.053 1587.9 244)">H4</text>
<path class="mk" stroke="#0ff" stroke-width="4.2" style="stroke-width:4.2" shape-rendering="crispEdges" d="M1514.6,289.1h29.8l-14.9,-25.8z"/><text class="lg" letter-spacing="1.3" transform="matrix(0.91 0 0 1.053 1587.9 295)">H5</text>
<path class="mk" stroke="#ff0" stroke-width="4.2" style="stroke-width:4.2" shape-rendering="crispEdges" d="M1516.75,330.1a12.75,12.75 0 1 0 25.5,0a12.75,12.75 0 1 0 -25.5,0z"/><text class="lg" letter-spacing="1.3" transform="matrix(0.91 0 0 1.053 1587.9 346)">H6</text>
<path class="mk" stroke="#f00" stroke-width="4.2" style="stroke-width:4.2" shape-rendering="crispEdges" d="M1519.2,372h20.6v20.6h-20.6z"/><text class="lg" letter-spacing="1.3" transform="matrix(0.91 0 0 1.053 1587.9 397)">H7</text>
<path class="mk" stroke="#0f0" stroke-width="4.2" style="stroke-width:4.2" shape-rendering="crispEdges" d="M1514.6,423.3h29.8l-14.9,25.8z"/><text class="lg" letter-spacing="1.3" transform="matrix(0.91 0 0 1.053 1587.9 447)">H8</text>
<path class="mk" stroke="#00f" stroke-width="4.2" style="stroke-width:4.2" shape-rendering="crispEdges" d="M1514,484.1h31.1M1529.5,468.6v31.1M1518,472.7l23,23M1518,495.6l23,-23"/><text class="lg" letter-spacing="1.3" transform="matrix(0.91 0 0 1.053 1587.9 498)">H9</text>
<path class="mk" stroke="#f0f" stroke-width="4.2" style="stroke-width:4.2" shape-rendering="crispEdges" d="M1514.6,542.2h29.8l-14.9,-25.8z"/><text class="lg" clip-path="url(#c7)" letter-spacing="1.3" transform="matrix(0.91 0 0 1.053 1587.9 549)">H10</text>
<path class="mk" stroke="#0ff" stroke-width="4.2" style="stroke-width:4.2" shape-rendering="crispEdges" d="M1516.75,586a12.75,12.75 0 1 0 25.5,0a12.75,12.75 0 1 0 -25.5,0z"/><text class="lg" clip-path="url(#c8)" letter-spacing="1.3" transform="matrix(0.91 0 0 1.053 1587.9 600)">H11</text>
<path class="mk" stroke="#ff0" stroke-width="4.2" style="stroke-width:4.2" shape-rendering="crispEdges" d="M1519.2,625.2h20.6v20.6h-20.6z"/><text class="lg" clip-path="url(#c7)" letter-spacing="1.3" transform="matrix(0.91 0 0 1.053 1587.9 651)">H12</text>
<path class="mk" stroke="#f00" stroke-width="4.2" style="stroke-width:4.2" shape-rendering="crispEdges" d="M1514.6,679.2h29.8l-14.9,25.8z"/><text class="lg" clip-path="url(#c7)" letter-spacing="1.3" transform="matrix(0.91 0 0 1.053 1587.9 701.5)">H13</text>
<path class="mk" stroke="#0f0" stroke-width="4.2" style="stroke-width:4.2" shape-rendering="crispEdges" d="M1514,737.2h31.1M1529.5,721.7v31.1M1518,725.8l23,23M1518,748.7l23,-23"/><text class="lg" clip-path="url(#c7)" letter-spacing="1.3" transform="matrix(0.91 0 0 1.053 1587.9 752)">H14</text>
<path class="mk" stroke="#00f" stroke-width="4.2" style="stroke-width:4.2" shape-rendering="crispEdges" d="M1514.6,798.1h29.8l-14.9,-25.8z"/><text class="lg" clip-path="url(#c7)" letter-spacing="1.3" transform="matrix(0.91 0 0 1.053 1587.9 803)">H15</text>
<path class="mk" stroke="#f0f" stroke-width="4.2" style="stroke-width:4.2" shape-rendering="crispEdges" d="M1516.75,839.1a12.75,12.75 0 1 0 25.5,0a12.75,12.75 0 1 0 -25.5,0z"/><text class="lg" clip-path="url(#c7)" letter-spacing="1.3" transform="matrix(0.91 0 0 1.053 1587.9 853.5)">H16</text>
<path class="mk" stroke="#0ff" stroke-width="4.2" style="stroke-width:4.2" shape-rendering="crispEdges" d="M1519.2,881.1h20.6v20.6h-20.6z"/><text class="lg" clip-path="url(#c7)" letter-spacing="1.3" transform="matrix(0.91 0 0 1.053 1587.9 904.5)">H17</text>
<path class="mk" stroke="#ff0" stroke-width="4.2" style="stroke-width:4.2" shape-rendering="crispEdges" d="M1514.6,932.3h29.8l-14.9,25.8z"/><text class="lg" clip-path="url(#c7)" letter-spacing="1.3" transform="matrix(0.91 0 0 1.053 1587.9 956)">H18</text>
</svg>
</body></html>
